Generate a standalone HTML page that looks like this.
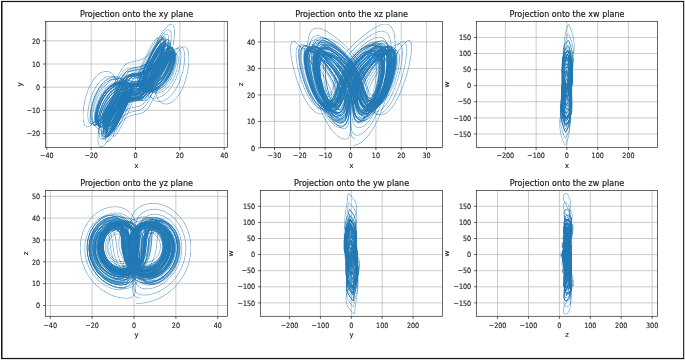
<!DOCTYPE html>
<html><head><meta charset="utf-8"><title>Projections</title>
<style>
html,body{margin:0;padding:0;background:#fff;}
body{width:685px;height:360px;overflow:hidden;}
svg{display:block;}
text{font-family:"DejaVu Sans","Liberation Sans",sans-serif;fill:#1a1a1a;stroke:#1a1a1a;stroke-width:0.14px;}
.t{font-size:8.76px;text-anchor:middle;stroke-width:0.2px;}
.l{font-size:7.3px;text-anchor:middle;}
.r{font-size:7.3px;text-anchor:end;}
.sp{fill:none;stroke:#222;stroke-width:0.68;}
.tk{stroke:#1f1f1f;stroke-width:0.68;}
.g{stroke:#b4b4b4;stroke-width:0.7;}
.c{fill:none;stroke:#1f77b4;stroke-width:0.38;stroke-linejoin:round;}
</style></head><body>
<svg width="685" height="360" viewBox="0 0 685 360">
<defs><filter id="sh" x="0" y="0" width="1" height="1" filterUnits="objectBoundingBox" color-interpolation-filters="sRGB"><feConvolveMatrix in="SourceAlpha" order="3" kernelMatrix="0 -0.1 0 -0.1 1.4 -0.1 0 -0.1 0" divisor="1" preserveAlpha="false" edgeMode="none" result="a0"/><feComponentTransfer in="a0" result="a"><feFuncA type="table" tableValues="0 0.1 0.2 0.32 0.46 0.6 0.74 0.85 0.93 0.98 1"/></feComponentTransfer><feFlood flood-color="#1f77b4"/><feComposite operator="in" in2="a"/></filter></defs>
<rect x="0" y="0" width="685" height="360" fill="#fff"/>
<rect x="1" y="0.88" width="683.2" height="358.25" fill="#161616"/>
<rect x="2.52" y="2.1" width="680.6" height="355.8" fill="#fff"/>

<clipPath id="k0"><rect x="45.6" y="21.45" width="182.0" height="125.95"/></clipPath>
<path class="g" d="M46.80 21.45V147.40M91.15 21.45V147.40M135.50 21.45V147.40M179.85 21.45V147.40M224.20 21.45V147.40M45.60 133.56H227.60M45.60 110.38H227.60M45.60 87.20H227.60M45.60 64.02H227.60M45.60 40.84H227.60"/>
<g clip-path="url(#k0)" filter="url(#sh)"><g class="c" transform="scale(0.1)" style="stroke-width:3.8"><path d="M1377 849l4-21 9-26 18-45 36-82 40-88 31-65 37-74 28-51 30-51 15-24 16-22 15-19 15-16 15-13 13-7 13-3 11 4 9 10 7 16 4 23 2 30-1 34-4 39-7 43-10 45-13 46-15 46-18 44-20 42-21 40-22 35-23 32-24 28-24 25-23 20-24 17-22 13-22 11-21 8-20 5-18 4-18 2-16 1-29-2-24-5-21-6-16-6-37-16-8-2-7 3-6 7-5 11-28 72-20 46-23 51-21 40-20 34-10 12-8 10-7 5-5 0-3-4-1-4 3-18 8-25 15-29 12-20 14-19 24-25 16-14 24-17 24-12 21-7 20-3 22-1 21 3 18 7 6 4 7 6 4 5 3 6 2 9 0 12-3 15-7 19-26 63-39 84-36 69-17 31-17 28-16 23-10 12-8 7-6 2-2-1-2-2-1-4 1-11 2-8 10-28 12-22 14-23 17-23 19-22 21-19 10-8 22-15 11-6 21-11 21-8 20-6 61-12 21-6 20-9 19-14 13-13 13-16 13-20 21-38 34-67 78-171 29-60 32-62 34-62 17-29 18-27 18-25 17-20 18-16 16-10 15-4 14 3 12 10 9 18 7 24 4 32 1 37-1 41-5 45-8 46-11 45-13 45-14 41-17 39-18 33-18 30-19 24-19 20-19 15-19 11-17 8-17 4-16 1-14-1-14-4-12-5-11-7-10-8-8-9-7-10-7-11-5-12-7-26-2-13-2-29 2-30 6-33 13-52 12-37 14-38 16-38 18-38 19-35 19-31 19-25 10-9 8-7 8-4 7-1 7 2 5 5 4 8 2 11 1 15 0 16-2 19-3 21-5 22-6 23-8 24-9 23-10 22-11 22-12 21-12 19-13 18-13 15-14 14-13 13-26 20-25 13-12 5-22 7-20 2-17 0-15-2-13-4-11-4-12-9-6-7-6-10-4-12-1-16 2-15 5-21 8-25 11-29 32-74 39-79 20-36 20-34 19-30 13-15 11-10 9-5 3 0 3 2 2 3 2 11-2 18-2 10-8 24-11 27-15 28-17 28-20 25-21 23-22 19-21 16-32 17-20 9-28 8-24 5-45 6-16 4-17 8-8 5-8 7-8 9-12 15-21 36-25 50-73 148-28 56-31 57-34 53-21 29-11 11-10 10-10 7-9 3-8 1-7-3-5-6-5-10-3-13-1-16 1-19 2-22 4-23 5-25 7-26 9-26 10-26 11-25 13-24 13-23 13-21 15-19 14-18 15-15 15-13 14-12 15-10 27-15 25-10 12-4 22-4 27-1 16 1 19 3 14 5 14 6 9 6 6 7 3 6 0 9-5 15-11 28-67 146-46 96-43 82-29 50-30 44-20 23-9 8-8 6-8 4-7 0-6-2-4-6-4-8-2-12 0-15 1-17 3-20 5-22 6-23 7-24 10-25 10-25 12-24 13-24 14-22 15-22 15-19 16-18 15-16 16-14 16-13 31-19 30-14 27-9 13-3 23-4 31-2 46 0 17-2 10-3 9-4 12-10 8-9 8-10 17-29 90-183 25-47 17-30 18-28 17-24 17-18 8-7 7-4 6-2 6 0 5 3 3 5 3 7 2 10 0 12-1 14-5 33-11 37-7 19-17 38-20 35-22 31-24 26-11 11-24 19-11 7-22 11-21 7-19 4-16 2-15 0-18-4-15-5-10-7-10-10-5-8-3-12 0-13 3-15 5-17 7-21 28-68 35-76 34-66 31-53 12-18 11-15 11-11 8-5 4-1 2 1 3 2 2 9-1 6-3 17-3 11-14 35-14 25-8 13-17 24-20 23-20 21-11 9-21 15-32 18-20 8-28 9-66 12-17 5-16 7-9 6-10 8-9 9-19 26-20 35-24 47-75 154-32 64-36 66-25 42-13 19-26 32-12 13-11 9-11 6-10 2-9-2-8-6-6-11-4-15-2-19-1-23 2-26 3-28 6-30 8-31 9-30 11-31 12-29 14-28 14-26 15-23 16-21 16-19 15-16 16-13 16-11 15-10 14-7 14-6 14-4 12-2 23-2 10 0 19 2 15 5 13 6 10 7 8 7 6 8 6 13 2 10 0 14-2 17-4 18-7 20-11 32-36 82-44 92-31 58-17 27-16 25-24 30-14 13-6 4-6 2-4-1-4-3-3-5-2-7-1-9 0-12 2-13 6-31 12-35 7-18 18-36 21-35 23-31 25-27 25-22 25-18 24-13 23-10 30-9 27-4 52-5 18-3 15-6 10-8 6-6 9-12 17-27 19-36 59-123 38-74 34-61 27-42 17-23 16-17 8-6 7-4 6-1 5 1 5 4 3 6 2 9 1 11 0 13-5 31-10 38-14 39-19 40-11 18-23 35-25 31-26 24-13 11-25 17-24 13-23 9-20 5-27 5-23 2-46-1-13 2-12 5-7 5-6 7-11 16-12 22-91 192-30 57-24 44-26 42-17 25-16 19-7 8-8 6-6 3-6 2-5-1-4-3-3-6-2-7-1-11 0-12 2-14 7-34 13-37 8-20 19-38 22-37 25-33 26-28 27-22 26-18 25-13 23-10 32-8 27-4 48-4 15-3 17-6 8-5 7-6 14-17 18-29 21-41 58-118 30-60 34-61 27-42 17-22 16-17 8-6 7-3 6-1 5 1 4 3 3 6 3 9 1 11-1 13-4 31-10 36-14 39-18 39-11 18-23 34-24 30-25 24-25 19-24 14-22 10-21 7-27 5-23 2-25-1-34-4-12 0-9 2-8 7-9 15-12 22-68 146-39 81-33 64-27 50-29 48-20 27-18 21-9 8-8 6-8 2-6 1-6-3-4-6-3-9-2-12 0-14 1-18 3-19 5-21 6-23 16-47 11-24 11-23 13-23 13-22 14-20 15-19 15-17 16-16 15-13 15-12 30-20 29-14 26-9 35-8 20-2 55-2 16-1 10-3 8-4 8-5 8-7 15-18 19-34 78-159 23-43 24-43 17-27 16-23 15-19 15-12 6-3 5-1 5 1 4 3 3 6 2 7 1 10 0 12-4 28-9 32-6 18-15 35-19 34-20 31-23 27-11 12-23 20-12 8-22 14-21 9-19 6-18 4-23 2-19-1-19-4-17-6-13-8-7-9-2-9 1-12 5-16 28-65 56-120 46-91 32-56 25-39 23-30 14-13 7-3 5-2 5 1 4 3 2 6 2 7 1 10-1 12-2 14-9 33-13 37-18 39-22 37-25 34-27 30-28 24-28 19-27 14-26 10-35 8-30 4-41 2-20 3-12 4-11 5-16 12-10 12-10 14-22 37-26 50-58 123-31 63-35 65-25 41-13 19-24 33-12 12-12 10-11 7-10 3-9-2-7-5-6-10-5-13-3-18-1-21 1-24 3-26 5-28 7-29 8-30 10-28 12-28 12-27 14-24 14-22 14-20 15-17 15-15 15-13 14-10 14-8 14-6 13-5 12-3 23-2 10 1 18 4 15 7 12 9 9 11 7 12 5 13 3 14 0 15-1 16-2 17-4 18-6 20-10 31-24 60-31 64-20 39-14 24-15 21-13 18-12 13-6 4-5 2-4 1-4-1-3-3-2-4-1-7 0-18 2-11 7-26 4-14 13-29 7-15 17-30 19-27 10-13 22-22 21-19 22-15 20-12 20-8 27-9 23-4 26-2 40 0 12-2 8-2 6-4 7-6 8-9 11-18 16-29 94-197 33-66 28-53 31-50 20-30 20-23 9-9 9-7 8-4 7-2 7 2 5 5 4 8 3 11 1 14-1 17-2 19-4 22-5 22-7 24-8 25-10 25-11 24-12 24-13 23-14 21-15 20-14 18-16 16-15 15-15 13-30 21-28 15-26 11-35 9-30 3-50 2-19 2-12 4-13 8-6 6-8 11-15 25-17 33-52 107-24 49-27 50-28 45-14 18-12 14-11 8-5 2-4 0-3-1-2-4-2-5-1-6 0-9 3-20 8-26 10-28 15-29 17-28 19-26 21-24 21-20 11-8 21-15 21-11 19-8 19-6 24-6 21-3 42-3 15-2 10-4 6-3 8-6 8-8 14-20 18-34 99-203 25-50 29-52 30-50 20-28 19-23 9-8 9-6 8-3 7 0 6 2 5 6 3 9 2 12 1 14-1 17-2 20-4 21-6 23-7 23-9 24-9 24-11 24-12 22-13 22-14 20-14 19-14 17-15 16-29 26-28 20-27 14-13 5-24 8-32 7-26 2-44 1-17 1-13 4-11 8-12 14-13 21-17 35-51 109-30 59-27 51-29 47-14 19-13 16-11 11-5 3-5 1-4-1-3-2-2-4-2-13 1-10 4-22 8-27 12-30 16-30 19-29 10-14 21-25 23-22 11-9 22-16 22-13 21-9 20-7 26-6 60-8 18-4 13-5 7-5 7-6 11-11 17-25 20-37 94-191 27-52 20-35 20-34 20-31 20-25 10-10 9-8 8-6 8-3 7 0 6 3 5 6 3 9 3 12 0 15-1 17-2 19-4 22-5 22-7 23-9 24-9 24-11 23-11 22-13 21-13 20-14 18-13 16-15 15-14 13-27 22-14 9-26 13-12 5-23 7-30 5-17 1-21-1-53-6-9 1-7 4-8 11-9 18-71 154-52 104-32 60-17 29-18 28-17 24-17 19-7 7-8 5-6 3-6 0-5-2-3-4-3-8-1-9 0-12 1-15 7-34 12-39 17-42 11-20 23-40 13-18 27-33 29-28 14-11 28-19 14-8 26-11 24-8 23-5 29-3 46-3 17-3 15-5 9-5 9-8 9-9 17-24 19-34 78-160 26-51 19-35 20-33 20-30 19-26 19-18 8-5 8-3 7 0 5 2 5 6 4 9 2 11 1 14-1 16-2 19-3 20-11 43-8 22-19 44-22 40-12 18-13 17-12 15-26 26-13 10-25 17-12 6-23 9-11 3-19 3-18 0-15-1-12-3-16-6-12-7-8-9-5-9-3-14 0-11 2-16 5-19 8-23 27-66 38-81 37-71 26-46 14-21 13-17 11-13 11-7 4-2 3 0 3 2 3 3 1 5 0 7-2 18-2 11-8 25-12 27-15 28-18 28-20 26-22 23-22 19-23 16-21 12-21 10-30 9-26 6-48 7-16 4-10 4-9 4-9 6-8 8-17 20-23 37-21 40-72 150-39 77-33 58-23 37-12 16-22 28-11 11-10 8-10 5-8 2-8-2-6-6-5-9-4-13-2-16 0-19 2-22 3-24 5-25 7-27 8-27 10-27 11-26 12-25 14-24 13-22 15-20 14-18 15-16 15-14 15-12 14-10 28-15 13-5 24-8 11-2 21-1 25 1 14 3 12 4 14 6 9 8 7 7 4 8 2 8 0 12-3 17-7 21-13 33-19 43-49 105-27 54-23 44-33 57-25 36-16 19-8 7-6 5-7 4-5 1-5-1-4-4-3-6-2-8 0-11 3-27 8-33 13-37 18-39 21-38 24-34 26-30 27-24 27-20 26-14 24-11 33-10 29-5 52-4 16-3 10-3 9-4 8-6 8-7 16-19 21-35 19-37 73-150 26-49 19-33 19-32 19-27 18-23 9-9 8-6 8-4 7-2 6 1 5 3 4 7 3 9 1 12 0 14-4 34-9 40-7 21-17 43-21 40-12 19-24 34-26 27-13 12-25 19-13 8-23 11-11 4-21 6-19 3-23 0-20-2-15-4-15-6-12-8-4-5-3-5-2-10 1-11 5-17 27-64 57-122 47-93 31-57 25-39 25-32 14-13 7-4 5-2 5 1 4 3 3 5 2 7 1 10-2 26-4 16-10 35-15 39-20 38-23 37-26 33-27 28-28 22-27 17-27 13-24 9-34 7-19 2-48 4-19 3-11 3-10 5-14 11-9 10-10 13-19 32-23 44-59 122-38 76-32 58-23 36-11 16-22 28-10 10-10 8-10 5-8 2-8-2-6-5-5-8-4-12-2-16 0-18 1-21 3-22 5-25 6-25 8-26 9-25 11-25 11-24 13-22 13-21 13-18 14-17 14-15 14-13 14-11 13-9 26-13 24-8 21-3 10 0 17 1 8 2 14 5 11 6 12 11 9 13 4 14 2 16-1 17-4 19-6 21-11 32-19 47-25 55-24 49-27 48-20 33-20 27-11 12-10 7-4 1-4-1-3-2-2-4-1-6 1-16 1-10 7-23 4-13 12-28 7-15 17-28 19-26 10-12 21-23 11-10 22-17 21-14 20-10 20-8 27-8 23-4 48-6 17-4 12-5 10-7 7-6 9-11 14-21 19-34 99-202 27-53 20-35 31-51 20-29 20-23 10-8 8-6 8-3 8 0 6 3 5 6 3 10 2 12 1 16-1 17-2 21-4 21-6 24-7 24-9 24-10 24-11 24-12 23-12 21-14 21-14 18-14 17-15 15-28 25-28 19-14 8-25 11-23 7-31 5-32 1-54-4-12 2-8 5-9 11-12 20-69 149-42 87-30 55-32 53-16 22-15 19-13 12-6 4-6 1-4 0-4-3-3-5-2-7 0-9 0-11 5-28 10-33 14-35 19-36 22-35 11-16 25-29 26-24 13-10 26-17 13-7 24-11 22-8 21-5 28-4 44-4 17-3 15-6 9-6 9-7 8-9 18-24 18-32 97-195 28-55 21-36 21-33 21-30 20-22 9-8 9-5 8-3 7 0 6 4 5 7 4 10 2 13 1 16-1 18-3 21-4 22-6 23-7 24-8 24-10 24-11 22-11 22-13 21-12 19-14 17-13 16-14 14-14 12-26 19-13 7-25 11-11 3-21 4-19 2-16-1-14-3-17-5-13-7-11-11-5-9-3-13 0-14 3-16 6-18 8-22 32-76 41-86 39-76 29-49 15-22 14-17 12-13 6-4 5-2 5-1 3 1 3 4 2 5 1 7-1 19-3 12-7 28-12 31-16 31-19 32-22 29-23 25-24 22-23 17-24 14-22 10-31 10-27 5-50 6-16 4-10 3-9 5-9 6-8 7-17 20-22 36-26 50-73 150-28 55-31 55-33 49-21 27-10 10-9 7-9 5-8 2-7-1-6-5-5-7-4-12-1-14-1-17 2-20 3-21 4-23 6-25 8-25 9-25 10-24 12-24 12-22 13-21 13-19 14-18 14-15 15-14 14-12 27-19 26-13 12-5 23-6 10-2 19-2 17 1 14 2 12 3 15 5 7 5 8 6 8 9 3 9 1 10-2 14-5 17-9 22-34 78-27 60-31 62-44 84-25 42-16 24-16 21-15 15-7 5-6 3-5 1-5-2-3-4-3-6-1-8 0-11 3-27 8-33 7-18 15-38 20-37 23-36 26-31 26-27 27-21 13-9 26-14 24-10 34-9 29-5 51-5 17-3 10-4 9-5 9-6 8-8 17-23 23-40 86-175 28-53 19-35 20-33 21-30 19-25 10-9 9-7 8-4 7-2 7 2 5 4 5 7 3 11 1 13 0 16-1 18-3 19-4 22-13 45-9 23-9 22-11 22-11 21-13 20-12 18-13 16-14 15-13 13-13 12-26 18-13 7-24 10-11 4-20 4-19 1-16 0-19-4-16-6-11-6-10-11-6-11-1-12 0-13 4-15 5-18 11-27 37-86 43-89 34-64 29-48 14-20 14-17 12-11 5-3 5-1 4 0 3 2 2 4 2 7 0 7-2 21-3 13-9 28-13 31-17 32-19 30-22 28-24 24-24 21-23 16-24 13-22 9-30 9-27 5-43 5-17 4-10 3-10 5-9 6-8 7-17 21-23 37-22 42-64 133-38 74-32 57-33 53-22 28-11 11-10 9-9 6-9 2-8 0-6-4-6-7-4-11-2-15-1-17 1-20 3-22 4-24 6-25 8-26 9-26 10-25 11-25 13-23 13-22 14-20 14-18 14-16 14-15 15-12 14-11 14-8 26-13 12-5 23-6 11-1 19-1 23 2 13 4 16 6 8 5 8 8 6 9 3 9 2 10-1 10-3 16-8 24-27 66-48 103-40 79-30 54-16 24-15 22-15 17-7 6-6 5-6 3-5 1-4-2-3-3-3-5-1-8 0-9 3-25 8-30 12-34 16-35 20-34 23-31 24-28 26-23 25-18 24-14 23-11 32-10 28-5 57-7 15-3 10-4 8-5 8-6 8-8 16-20 22-37 20-39 77-157 27-52 20-34 20-33 20-28 19-23 9-9 9-6 8-3 7-1 6 2 5 5 4 9 2 11 1 14 0 16-2 18-3 21-12 44-7 22-19 46-11 21-12 21-12 19-13 18-14 16-13 15-14 13-26 21-13 8-25 13-12 5-22 6-19 3-26 1-20-2-16-4-15-6-12-9-5-5-3-5-2-10 2-12 4-14 26-62 56-122 47-94 33-59 26-42 25-35 16-16 7-5 7-3 5-1 5 2 4 4 3 7 1 9 1 11-2 14-2 16-9 36-15 40-19 41-23 39-26 36-28 30-29 25-28 19-27 14-25 9-35 9-30 3-46 3-18 3-15 5-14 10-9 9-9 11-19 29-20 39-71 145-37 72-31 54-21 32-11 14-20 23-9 8-9 6-8 2-7 0-7-3-5-7-3-10-3-12 0-16 0-18 3-20 3-22 6-23 7-24 8-23 9-24 11-22 11-22 12-20 13-19 13-17 13-15 14-14 13-11 13-10 26-16 24-9 21-6 10-1 18 0 23 3 12 5 10 5 8 7 9 10 5 12 3 12 0 14-3 21-5 18-9 27-16 40-21 48-26 55-25 48-19 35-20 32-19 25-11 11-9 6-4 0-3-1-3-3-1-4-1-6 1-16 2-10 7-24 5-13 13-27 7-14 17-27 19-25 10-12 21-22 11-9 21-17 22-13 20-10 20-7 26-7 24-5 43-6 19-5 12-6 8-5 7-7 12-13 15-23 22-39 102-209 30-56 21-37 22-35 22-31 21-24 9-8 10-6 8-3 8 0 6 4 5 7 4 11 2 13 1 17-1 20-3 22-4 23-6 25-7 26-9 25-11 26-11 25-13 23-13 22-14 21-14 18-15 17-15 15-14 13-15 12-14 9-27 15-13 6-24 7-21 4-19 2-17 0-20-3-21-4-17-6-17-9-4-4-1-2 56-126 55-119 43-90 44-84 37-64 26-40 12-17 13-16 13-12 11-9 11-6 10-1 9 3 7 8 6 13 3 17 1 22-1 27-3 30-6 32-8 35-11 36-12 36-15 36-16 34-17 32-19 31-19 27-20 25-20 22-20 19-21 16-19 14-20 11-18 9-18 7-17 5-16 4-30 3-26 1-22-2-65-12-8 0-8 2-10 6-9 10-12 21-54 118-24 48-25 49-20 33-19 26-12 12-5 4-5 3-4 1-3-1-3-2-2-4-1-6 0-15 4-21 7-24 5-13 12-26 7-13 16-26 9-11 9-12 18-20 10-9 19-15 19-12 18-8 16-6 16-4 21-2 17 1 19 4 7 3 9 5 10 10 5 12 2 15-2 18-11 36-20 50-27 60-31 64-26 48-25 40-9 12-8 8-6 4-4 0-2-5 0-4 5-19 12-25 11-20 13-19 16-20 17-18 19-16 29-20 28-15 19-7 17-5 54-13 20-5 12-5 11-6 17-12 16-17 11-14 12-17 18-32 29-57 78-166 39-79 29-56 30-54 32-49 16-22 16-18 15-14 15-10 13-5 13 2 10 7 9 13 6 20 4 25 2 31-1 34-4 38-6 40-9 41-12 40-13 39-14 36-17 34-17 30-18 27-18 22-18 19-18 16-18 12-17 9-16 6-16 4-14 2-14 0-12-1-12-3-11-4-18-10-14-13-11-14-4-8-6-17-3-18-1-19 2-21 3-22 6-23 7-25 9-27 17-44 21-48 16-33 25-50 18-31 19-29 18-25 17-17 8-6 7-3 6-1 6 2 4 4 3 8 3 10 0 12 0 15-5 35-11 40-7 21-18 42-22 40-24 35-26 30-13 13-26 21-25 16-12 7-23 9-30 8-18 2-15 1-20-2-16-2-41-10-5 1-6 3-5 8-9 17-74 164-48 99-46 88-31 55-22 33-10 15-21 26-10 9-10 7-9 4-7 1-7-2-5-6-4-10-3-13-1-17 1-19 3-23 5-24 7-26 8-28 10-27 12-28 12-27 15-26 15-25 15-23 17-22 17-19 17-17 17-15 17-13 16-11 17-9 31-14 28-9 14-2 24-4 31 0 46 2 17-1 9-3 9-4 11-9 8-8 7-10 15-27 76-156 22-42 23-42 16-26 16-22 15-18 14-11 6-3 5 0 4 1 4 3 3 6 1 7 1 10-2 24-6 29-11 33-14 33-18 32-10 15-21 28-10 12-22 21-11 9-22 14-10 6-20 9-19 5-24 4-21 0-16-3-17-7-12-8-7-8-5-13-1-10 2-15 4-15 6-21 27-65 36-78 38-75 30-52 23-32 10-11 9-6 3-1 3 0 2 2 2 8 0 6-3 16-3 10-14 33-21 37-17 24-19 23-21 19-10 9-22 16-31 17-20 9-20 6-26 6-44 8-25 7-11 5-10 7-10 8-10 11-10 13-11 15-11 18-18 34-28 57-65 136-48 94-40 71-28 42-14 18-14 16-13 12-13 8-11 4-11 0-9-5-7-10-6-16-4-19-1-25 1-27 3-31 5-33 7-34 10-34 11-34 12-32 14-31 15-28 16-25 17-23 16-19 17-17 16-14 16-11 16-9 15-6 14-5 14-3 13-1 12-1 11 1 19 4 16 7 13 9 11 10 7 12 5 12 4 19 1 14-3 24-3 16-8 28-19 54-34 77-36 73-33 57-17 26-16 21-15 15-6 5-7 3-5 1-5-2-4-4-2-6-2-8-1-10 1-13 5-29 10-35 7-18 16-37 20-35 22-33 24-28 25-24 24-18 12-8 23-12 32-12 28-6 23-3 49-1 14-1 14-5 12-10 13-18 15-28 86-179 46-89 26-45 18-28 17-25 17-20 15-13 7-3 6-1 5 1 4 5 3 6 2 9 1 12-3 30-8 36-6 19-16 41-21 41-23 38-26 33-27 28-27 22-14 9-26 15-24 11-33 10-28 4-55 5-15 2-16 6-14 10-13 15-16 26-19 37-59 121-28 56-32 58-17 27-16 24-16 20-15 14-6 5-6 2-6 0-4-2-4-4-2-6-2-9 1-23 2-14 8-33 12-35 17-36 9-18 11-17 22-31 23-27 25-23 12-9 23-16 23-12 21-8 28-7 24-3 21-1 37 0 13-1 8-2 7-3 6-5 6-6 10-15 14-26 87-183 29-59 25-47 27-47 19-29 18-24 17-19 8-6 8-5 6-2 6 1 5 3 4 6 2 9 1 12 0 13-5 34-4 20-13 42-9 22-21 43-24 40-26 35-29 30-28 25-27 18-27 13-24 10-33 8-28 4-49 3-15 2-8 2-8 4-11 8-13 14-17 27-20 37-59 121-28 56-32 56-16 26-16 23-15 19-14 12-6 3-6 2-4-1-4-2-3-5-2-7-1-21 1-12 6-30 11-33 15-35 18-34 10-16 22-30 23-26 24-21 23-16 22-13 21-9 20-6 26-5 21-2 18 0 34 2 13 0 7-2 6-3 10-9 10-16 12-23 86-182 30-60 25-50 28-50 20-32 20-28 19-24 9-8 8-7 8-5 7-1 6 1 5 4 4 7 3 11 1 13-1 15-2 18-3 21-5 21-7 23-17 47-11 24-12 23-13 22-13 21-14 20-15 18-15 16-15 15-30 24-15 10-28 16-27 10-12 4-23 6-31 4-51 2-16 2-9 2-8 3-11 8-14 14-17 27-19 38-53 108-27 54-30 54-15 25-16 22-14 18-13 13-6 4-6 2-4 0-4-2-3-4-2-6-2-18 4-24 3-14 9-31 14-32 17-32 9-15 10-15 21-27 23-23 22-19 22-14 21-11 20-8 18-5 24-4 20-2 17 1 34 3 12 1 11-3 4-3 6-6 8-12 13-24 106-225 34-68 29-54 31-52 21-32 11-13 20-22 9-8 9-4 8-2 6 2 6 5 4 8 3 12 2 15-1 18-2 20-4 23-6 25-7 26-9 26-10 27-12 26-13 25-14 25-15 22-16 22-15 19-17 17-16 15-16 14-16 12-16 10-29 15-28 10-13 4-24 4-31 3-51 1-16 1-13 4-7 4-7 5-13 15-17 27-88 180-27 50-21 34-14 19-12 15-12 10-5 3-4 1-4-1-3-3-2-4-1-6-1-7 2-20 3-11 8-26 11-28 15-29 17-27 19-26 20-22 21-18 21-15 20-12 19-8 18-7 24-5 20-2 18 0 39 3 12-1 7-1 5-3 5-4 6-7 12-18 15-30 77-163 38-79 27-54 31-56 33-54 22-31 21-24 10-9 9-5 9-3 7 1 7 4 4 8 4 12 2 15 0 18-2 21-3 24-6 26-7 27-9 27-10 28-12 28-13 27-14 25-15 24-16 22-16 21-17 18-16 16-17 14-16 13-16 10-31 16-28 11-26 6-23 4-20 1-52 1-15 1-13 3-7 3-6 5-12 13-15 23-13 26-70 144-24 46-26 43-12 18-12 14-10 9-5 3-4 1-3 0-3-1-2-4-1-4 0-6 2-17 2-9 7-23 10-24 13-26 16-25 18-23 19-21 20-18 19-15 20-11 18-10 18-6 16-5 22-4 19-2 42-2 12-2 9-3 7-4 7-5 7-8 15-21 17-33 104-216 27-53 30-55 32-54 21-31 22-25 10-10 9-6 9-4 7-1 7 3 6 6 4 10 2 13 1 16-1 19-2 22-4 24-6 25-8 26-9 27-11 27-12 26-13 25-14 24-15 22-15 20-15 19-16 16-16 15-15 13-16 11-30 17-27 12-13 4-24 6-21 3-19 2-53 0-13 2-14 4-11 7-13 16-12 22-59 123-27 54-24 46-26 43-12 19-12 15-11 12-4 3-8 4-3-1-3-2-2-9 0-7 2-17 7-21 9-24 13-26 16-26 18-24 19-22 20-19 11-9 20-14 20-12 19-9 19-7 25-6 62-9 18-5 11-5 8-5 7-6 10-11 18-26 20-37 98-200 28-55 21-38 21-36 22-34 22-28 10-12 10-9 10-6 8-3 8 0 7 3 5 6 4 10 3 14 1 16-1 20-2 22-5 23-6 25-7 26-9 26-10 26-12 26-12 24-14 23-14 21-14 19-15 18-15 15-15 14-15 12-15 10-14 9-27 13-12 4-24 7-30 4-18 0-21-1-52-8-7 0-6 4-6 7-7 14-65 141-46 95-37 71-34 58-17 25-17 22-15 15-7 5-6 2-6 1-4-2-4-5-2-7-2-9 0-12 4-29 10-36 15-40 19-40 24-39 12-18 27-32 29-27 14-11 28-18 13-8 26-11 25-8 22-4 30-3 46-3 18-4 15-6 10-6 9-8 9-11 14-20 20-35 85-174 29-56 20-38 22-35 21-32 21-25 10-9 10-7 8-4 8-1 7 3 6 6 4 9 3 12 1 16 0 18-2 20-3 22-5 24-7 24-8 25-9 24-10 23-12 23-12 21-13 20-13 18-13 16-14 14-14 12-13 10-13 9-13 7-24 10-12 3-21 4-18 0-16-3-13-4-11-5-9-7-10-11-6-13-3-13-1-15 3-17 4-18 6-21 22-58 28-62 35-71 33-58 14-20 12-17 12-12 10-7 4-1 3 0 3 2 2 4 1 5 0 7-2 18-3 11-8 24-11 27-15 28-17 27-20 25-21 22-21 19-22 15-31 18-19 8-27 7-24 5-43 6-19 4-16 7-15 11-7 8-10 14-19 31-28 55-67 138-36 71-20 37-21 36-22 33-10 14-21 25-10 9-9 7-9 4-7 0-7-2-5-6-4-8-3-13-1-15 0-18 2-20 4-23 5-23 7-25 8-25 10-25 11-25 12-23 13-23 13-21 14-19 15-17 14-16 15-14 15-12 28-19 13-8 26-11 12-4 22-5 29-3 16 0 20 1 49 9 7-1 6-4 6-8 7-14 57-125 44-90 28-57 24-45 27-45 26-41 18-21 8-9 7-6 7-4 7-2 5 0 5 3 3 6 3 8 1 11-1 14-2 15-3 18-11 39-16 42-21 43-25 40-14 18-14 17-28 29-30 24-28 18-28 13-25 8-34 7-20 2-48 2-18 3-11 3-10 4-14 11-8 9-9 11-19 31-21 40-72 148-27 53-30 53-21 32-10 14-20 24-9 8-9 7-8 3-8 1-6-2-5-6-4-8-3-12-1-14 0-17 2-19 3-21 5-22 14-45 9-23 10-23 11-21 11-20 12-19 13-17 13-16 13-14 27-22 25-17 24-10 21-6 10-2 19-1 23 3 12 4 11 5 8 6 9 10 6 12 3 12 1 14-2 15-3 16-8 25-14 37-19 45-24 53-23 46-26 46-19 32-19 27-11 12-10 7-4 2-3 0-3-2-2-3-1-4 0-14 1-9 6-22 4-12 11-25 7-14 16-27 18-25 9-12 21-22 10-10 22-17 21-14 20-11 20-8 27-8 24-5 44-7 20-4 13-6 12-8 7-8 12-13 15-24 18-32 102-208 30-56 21-38 22-37 22-32 22-26 10-10 10-7 9-4 8-1 7 2 6 6 5 10 3 13 1 16 0 19-2 22-4 23-6 26-7 26-8 26-11 26-11 26-12 24-13 24-14 21-15 20-14 17-15 16-15 14-15 12-14 10-14 9-27 13-13 4-23 6-21 3-18 1-23-2-17-3-21-7-14-8-9-7-1-4-1-4 3-9 9-22 81-176 51-106 38-73 32-55 22-35 11-15 21-26 11-10 9-7 9-4 8 0 7 3 6 6 4 11 2 14 0 18-1 21-3 23-5 26-7 28-9 28-11 29-12 29-13 28-15 27-16 25-16 24-17 21-18 20-17 17-18 15-17 13-17 11-17 9-16 7-30 10-14 4-26 4-34 1-55-3-16 1-14 4-11 8-8 7-7 10-15 25-88 181-31 56-24 38-23 30-13 12-6 4-6 1-5 0-4-3-3-4-2-7-1-20 1-12 6-28 4-16 12-33 8-16 17-32 9-16 20-27 11-13 22-21 11-10 21-15 21-10 19-8 26-6 22-1 12 2 11 2 17 7 12 8 4 5 4 8 4 13 0 10-1 10-4 15-5 18-20 51-32 72-34 70-29 51-22 36-11 14-9 10-8 6-3 1-2 0-2-2-1-3-1-4 1-13 2-7 11-29 11-22 22-34 17-22 19-20 20-17 30-22 30-15 19-7 18-5 60-13 18-4 11-5 11-5 15-11 15-16 10-13 16-24 17-32 27-53 95-198 25-48 27-48 28-46 28-39 13-15 14-13 12-9 12-5 11 0 9 5 8 10 6 14 4 20 1 24 0 28-3 31-5 33-7 34-9 34-11 35-13 33-14 31-15 28-16 26-17 24-17 20-16 17-17 14-16 12-16 9-16 7-14 6-14 3-13 2-24 0-20-4-16-6-14-8-6-4-9-10-7-11-6-18-2-12 0-21 2-15 6-24 16-47 29-71 40-84 23-45 17-30 17-27 17-24 16-19 8-7 7-6 6-3 6-1 5 2 4 3 3 6 1 9 1 10 0 13-5 30-5 18-12 37-8 19-18 37-22 36-12 16-24 29-25 24-26 19-24 15-23 10-31 10-27 5-22 2-43 1-11 2-10 3-5 2-13 10-11 16-16 28-86 178-29 58-25 44-25 43-18 26-16 21-16 15-7 5-6 2-5 1-5-2-4-5-2-7-2-9 0-11 3-29 9-35 13-39 18-39 22-37 24-34 26-29 26-24 13-10 26-16 24-13 34-11 20-5 17-3 54-4 14-2 16-5 14-10 6-6 9-12 17-27 19-38 59-122 29-57 33-59 17-28 17-25 16-21 15-15 7-4 6-3 6 0 4 2 4 4 3 7 1 9 1 11-1 13-6 31-10 35-15 38-19 37-10 17-23 33-25 28-24 23-13 10-24 16-23 11-21 9-20 5-26 4-22 2-41 0-14 1-8 3-7 3-7 5-6 7-11 16-15 28-85 178-29 58-25 46-26 45-18 26-17 23-16 17-8 6-7 3-6 1-5-1-4-4-3-7-2-9-1-11 1-14 5-33 5-19 14-40 8-20 20-41 24-38 26-33 27-28 27-23 27-17 25-13 24-9 32-8 27-4 47-3 15-2 16-7 11-7 7-7 9-12 18-28 20-39 61-127 30-57 33-58 25-38 16-21 15-14 7-4 6-3 5 0 5 2 3 4 3 7 1 9 1 11-1 12-6 31-10 34-15 37-18 36-10 17-22 32-24 27-24 22-12 10-24 15-22 12-21 8-29 7-24 3-25 0-38-2-11 1-6 2-6 3-10 10-9 13-12 23-91 192-30 60-26 49-27 48-19 29-19 26-18 20-8 7-8 4-7 2-6 0-5-4-4-6-2-9-2-12 0-14 2-17 3-18 5-21 13-43 9-23 22-45 12-21 13-21 13-19 14-18 15-16 14-15 30-24 28-19 27-14 26-9 33-8 29-3 43-2 17-2 9-2 8-4 12-7 14-15 17-27 20-38 54-112 36-70 32-55 24-36 15-19 14-13 7-4 5-2 5 0 4 3 4 4 2 7 1 8 0 11-1 12-6 29-10 33-14 34-18 34-10 16-21 30-23 26-23 21-23 17-22 12-21 9-19 7-25 4-28 2-22-2-33-5-9-1-4 1-6 2-7 8-9 13-11 22-91 196-31 63-27 53-30 55-21 36-22 32-21 27-10 11-10 8-9 6-8 2-8-1-6-4-4-8-4-12-1-15 0-18 2-21 3-23 6-26 7-26 9-27 11-28 12-27 13-27 14-25 16-24 15-22 17-20 16-18 17-16 17-14 16-12 16-10 16-9 30-12 14-5 26-6 33-4 57 0 17-1 9-1 9-3 11-7 7-7 6-8 17-27 90-182 28-50 14-24 14-20 13-17 12-12 11-6 4 0 3 1 3 4 2 5 1 14-3 21-2 13-9 26-12 29-15 29-18 27-9 13-20 23-21 20-21 16-20 12-19 9-18 7-25 6-20 2-23-1-21-3-34-8-7 1-7 6-8 13-12 24-82 179-47 99-29 60-34 63-37 61-25 35-12 15-12 12-11 10-11 6-10 2-8-2-7-6-6-11-4-15-2-19 1-23 2-27 5-29 6-32 9-33 11-33 13-33 14-33 16-31 16-29 18-26 18-25 19-22 19-19 18-17 19-14 18-12 18-10 17-8 32-12 14-4 27-4 35-2 55 4 16 0 12-2 7-3 6-4 11-13 14-23 66-141 21-42 22-38 21-30 13-14 7-3 3 0 2 1 2 6 0 5-4 20-6 18-15 31-13 20-14 21-16 18-17 17-18 14-17 12-17 10-16 7-16 5-21 6-19 2-21 1-34 0-13 2-9 3-6 4-11 12-13 19-19 35-110 233-29 58-32 61-36 60-24 36-24 28-11 11-10 7-10 4-9 0-8-3-6-8-5-12-2-16-1-19 1-23 3-26 5-29 7-29 8-31 11-31 12-31 14-29 15-29 15-26 17-24 17-22 17-20 18-17 17-16 17-13 16-11 32-16 29-11 27-7 23-3 21-2 56 1 14-1 14-3 11-8 9-11 12-19 68-147 25-49 22-39 20-32 10-11 8-9 6-3 3-1 2 1 2 6 0 4-5 20-6 17-9 19-12 20-14 20-16 20-17 17-18 16-18 13-18 11-17 9-17 7-31 9-55 9-22 7-12 6-8 6-11 10-7 9-20 29-23 42-110 227-33 63-24 42-24 40-25 35-12 15-12 12-11 10-11 6-10 2-8-2-7-5-6-10-4-14-3-18 0-22 1-24 4-27 6-29 7-30 9-31 11-30 12-29 14-28 14-27 15-24 16-22 16-20 17-17 16-15 16-13 16-11 15-9 15-7 14-6 26-8 23-4 21-1 25 2 20 4 18 6 17 9 9 9 2 4 0 4-2 8-7 17-94 207-47 97-40 75-33 57-22 34-12 15-22 25-10 9-9 5-9 3-8-1-6-5-5-9-4-13-1-16 0-20 2-23 4-25 6-28 8-28 10-30 11-29 13-30 14-28 16-27 16-24 17-23 17-21 18-19 17-16 18-14 17-12 17-11 32-15 30-9 13-4 26-3 32-1 46 2 22-1 13-4 11-7 6-7 7-8 14-23 83-171 27-51 21-34 14-20 13-15 11-10 5-3 5-1 4 0 3 3 2 4 2 6 0 7-2 19-2 12-7 26-12 28-14 28-17 27-18 25-20 22-10 10-21 16-20 13-28 13-25 7-15 3-14 1-12 0-15-2-12-3-10-3-10-5-7-5-6-6-3-5-2-8 1-9 4-14 8-20 41-92 48-100 33-64 31-53 15-24 15-21 15-17 6-6 6-4 6-3 5 0 4 1 3 4 2 6 0 8 0 10-1 12-7 28-12 34-16 35-20 35-24 33-25 30-27 24-27 19-27 15-26 10-12 4-23 5-31 5-43 3-21 3-12 4-12 7-17 14-11 12-11 16-25 43-21 42-64 135-35 72-26 49-27 48-28 44-14 20-14 16-14 14-13 10-12 5-11 1-10-4-8-9-6-14-4-19-3-24 0-27 3-30 4-33 7-34 9-34 10-33 12-33 14-30 14-28 15-24 16-22 16-19 16-16 16-12 16-10 15-8 14-5 13-3 13-1 12 0 11 2 10 3 10 4 8 5 14 12 6 7 9 15 3 8 5 18 2 9 0 20-1 21-3 22-6 24-7 26-9 26-16 43-27 59-15 29-15 27-16 25-15 20-14 15-6 4-6 3-5 1-4-1-4-4-2-5-2-8 0-21 2-13 7-30 5-16 13-34 17-34 19-31 22-29 11-12 22-22 23-17 11-7 21-11 30-11 25-5 15-1 19 1 15 2 16 4 14 5 11 7 7 7 2 6-2 10-9 21-64 140-51 104-42 81-29 48-30 44-19 21-8 8-9 6-7 3-7 0-5-3-5-6-3-9-1-12 0-15 2-18 3-20 5-23 7-23 8-25 10-24 11-25 13-25 13-23 15-22 15-21 16-19 16-18 17-15 16-14 16-11 17-10 31-15 29-10 13-3 26-3 22-1 53 2 20-1 17-4 15-10 15-15 9-13 10-17 23-43 77-163 31-59 33-58 22-34 12-14 11-13 10-10 10-7 9-4 9-1 7 3 6 6 5 10 3 13 2 17 0 19-2 22-4 23-5 25-7 25-8 26-9 25-11 25-11 22-13 22-13 19-13 18-14 15-13 13-14 11-13 10-13 7-13 6-23 7-21 2-9-1-17-3-8-3-13-8-5-4-9-10-4-5-5-12-5-19-1-14 1-15 5-34 5-18 10-29 21-55 27-59 25-46 25-39 11-14 10-10 9-4 3 0 3 2 2 3 1 5 0 13-2 9-5 21-4 11-10 25-14 26-7 12-17 25-19 22-19 20-20 16-20 13-19 11-26 11-24 6-21 3-50 3-14 1-14 5-12 8-6 7-10 13-19 34-113 236-28 54-30 55-33 53-21 29-21 22-10 8-8 4-8 2-8-2-5-5-5-8-3-13-1-15 0-18 2-21 4-23 5-25 7-26 9-27 10-26 12-27 13-25 13-24 15-23 15-21 15-19 16-17 16-15 15-14 31-21 29-15 27-11 24-6 22-4 19-1 54-1 14-1 14-4 12-8 12-15 13-22 85-178 25-46 25-43 13-19 12-15 10-11 5-4 8-3 3 1 3 2 2 9 0 6-2 17-7 22-9 24-13 26-16 26-18 24-19 22-20 19-11 9-20 14-20 12-20 9-18 6-25 7-62 9-17 4-12 6-7 4-7 6-10 11-18 25-20 36-95 195-48 92-21 37-22 35-22 29-11 12-10 10-9 8-9 5-8 1-8-2-6-5-4-8-3-12-2-15 0-18 2-21 3-23 5-24 7-26 8-26 10-26 11-25 12-25 13-23 14-22 15-20 14-19 15-16 15-15 15-12 15-11 14-10 28-14 12-5 25-7 31-6 18-1 22 1 54 8 9-1 6-5 6-8 9-16 63-139 46-94 37-70 33-55 16-24 16-20 15-14 6-4 6-2 5 0 4 3 3 5 2 7 1 10 0 11-5 30-10 34-15 38-9 20-21 37-12 18-26 33-27 28-13 12-28 20-13 8-26 13-25 9-33 8-20 2-54 5-17 3-16 7-9 6-9 9-9 10-14 20-20 36-95 192-40 75-22 37-22 32-21 26-10 10-10 8-9 4-8 2-7-2-6-5-5-9-3-12-2-15 0-18 2-20 3-22 5-24 6-25 8-25 9-25 10-24 12-23 12-22 13-20 13-18 14-17 14-15 13-12 14-11 14-9 13-8 24-11 12-3 21-4 19 0 16 2 14 4 16 8 9 7 9 11 5 12 2 14 0 15-2 16-5 18-6 21-23 58-33 74-30 60-34 59-14 21-13 18-12 13-10 8-4 1-4 0-3-2-2-3-2-5 0-7 2-18 2-11 8-26 11-27 15-29 18-28 20-26 21-23 22-19 22-17 31-17 20-9 28-8 24-4 44-6 19-4 17-8 14-11 7-8 11-14 19-32 23-45 65-134 36-70 39-72 32-48 21-27 10-10 9-8 9-5 8-3 7 1 6 3 5 7 3 10 2 14 1 16-1 18-3 21-4 23-6 23-8 25-8 24-10 25-12 24-12 22-13 22-13 20-14 18-15 17-14 15-14 13-29 21-13 8-26 12-13 5-22 6-30 4-17 1-20-1-55-10-6 1-6 4-5 7-8 15-58 127-44 93-30 58-25 47-27 47-28 41-18 22-8 8-8 6-7 4-7 2-5-1-5-4-3-7-2-10-1-12 1-15 2-17 9-39 15-44 20-44 12-22 12-21 14-20 14-19 15-17 14-16 16-14 15-13 29-20 29-14 27-10 12-4 24-4 31-3 47-2 18-2 15-5 14-9 8-9 9-10 9-13 14-24 20-41 63-128 26-52 29-52 30-46 19-26 10-9 9-8 8-6 8-2 6-1 6 3 5 6 3 9 3 11 0 15 0 16-2 19-9 41-14 44-9 22-20 42-12 19-12 18-12 16-26 28-25 22-13 9-24 12-22 8-10 3-19 2-25-1-13-3-11-4-10-5-7-6-6-7-4-7-3-7-2-8-1-9 0-13 3-15 6-23 18-49 33-74 38-78 31-56 13-19 12-17 11-12 9-8 4-2 4 0 3 1 2 3 1 4 1 5-2 16-2 9-12 34-12 26-15 26-18 25-19 23-20 20-11 9-21 15-21 13-20 10-18 7-27 7-60 10-16 4-18 8-16 12-8 8-11 15-13 20-14 24-20 40-92 188-31 58-22 39-23 37-23 32-11 13-11 11-10 8-10 5-8 2-8-2-6-5-6-9-3-13-2-16 0-19 1-22 4-24 5-26 7-27 8-27 10-27 11-27 13-26 13-24 14-22 15-21 14-18 16-16 15-15 15-12 14-11 15-9 27-13 13-4 24-6 21-3 18 0 23 2 17 5 17 6 13 9 5 5 3 5 2 10-2 13-7 17-39 90-61 130-48 93-37 66-29 45-19 24-9 9-9 7-8 5-7 2-6-1-5-4-4-7-3-9-1-13 0-15 2-18 3-20 6-22 14-46 10-24 11-24 12-24 13-22 14-21 14-20 15-19 15-16 16-15 15-14 31-21 29-16 28-10 12-4 24-5 32-3 53-1 17-3 14-5 12-8 8-8 8-9 8-12 12-21 18-36 47-98 30-59 34-61 26-41 17-23 8-9 15-13 7-4 6-1 5 1 5 3 3 6 2 8 1 11-1 27-7 33-11 36-16 38-9 18-20 34-22 30-24 26-24 20-23 15-21 11-11 4-19 6-26 3-14 0-13-1-11-3-13-4-10-6-8-6-6-9-4-10 0-10 1-11 3-14 7-19 22-55 44-95 21-45 25-47 34-56 19-28 12-13 10-8 4-2 4-1 3 2 2 3 2 5 0 14-2 10-6 22-4 13-12 27-7 15-17 28-20 27-10 13-23 23-22 19-23 16-23 13-22 9-20 6-19 5-68 11-12 4-11 4-10 6-10 7-10 10-10 12-15 22-22 39-26 52-81 166-34 67-25 44-26 40-25 34-13 14-12 10-11 7-11 4-9-1-8-5-6-10-5-14-3-18-1-21 0-25 3-28 5-29 7-31 9-31 10-30 12-30 13-28 14-26 15-24 15-21 16-19 16-16 15-14 16-11 15-10 14-7 14-6 13-3 13-3 22-1 20 2 16 5 14 6 11 8 8 9 7 10 4 10 3 17 1 12-3 20-5 22-7 25-23 59-32 73-20 40-22 42-31 53-15 22-15 19-14 12-6 4-5 2-5 0-4-2-3-4-2-7-1-18 2-12 6-28 10-33 7-17 16-34 20-32 22-30 23-26 24-22 23-17 12-8 22-11 31-12 27-6 23-3 45-3 13-2 10-3 6-3 12-10 14-17 18-30 22-45 61-126 30-60 34-63 28-45 18-26 9-11 17-16 7-6 7-3 6-1 6 2 4 5 3 7 2 10 1 12-1 14-6 35-11 40-7 21-19 42-10 20-12 20-25 36-26 30-27 25-27 20-13 8-25 12-23 9-30 7-27 3-49 2-16 2-13 5-6 4-8 7-13 16-16 30-82 170-28 54-23 41-24 39-15 23-15 18-7 7-13 9-5 2-5-1-4-2-3-5-1-7-1-19 1-13 7-29 11-33 7-17 17-35 20-33 23-31 24-26 24-21 24-18 12-7 23-11 21-8 29-8 25-4 49-4 13-2 15-7 13-9 6-7 9-12 17-28 19-38 62-126 30-60 34-63 28-45 18-25 9-11 16-17 8-5 7-3 6-1 5 2 5 5 3 7 2 10 0 12 0 15-6 34-11 39-7 21-18 41-11 20-11 20-25 35-26 30-26 25-26 19-13 7-24 12-11 5-22 6-28 6-24 2-48 0-13 1-11 3-11 9-12 16-14 25-89 186-28 55-24 43-25 42-16 24-16 20-8 8-13 11-6 3-6 0-4-2-3-4-3-7-1-9 0-10 1-13 6-31 11-35 7-19 18-38 21-36 24-32 25-29 26-23 26-19 25-14 24-10 32-10 28-4 49-5 20-4 9-3 8-4 11-8 7-8 11-14 19-31 18-34 58-121 32-61 34-63 28-43 18-24 8-10 9-8 7-5 8-4 6-1 5 1 5 4 4 6 2 9 1 12 0 13-2 16-7 36-12 40-17 40-10 20-22 37-25 33-25 27-26 22-25 17-23 12-11 4-21 7-28 5-30 1-22-3-33-6-9-1-8 2-6 6-8 12-10 21-68 148-39 80-33 65-28 52-30 51-20 30-10 13-20 21-9 7-8 4-7 2-7-1-5-5-4-8-3-11-1-14 1-17 2-20 4-22 5-23 8-25 9-25 10-26 12-25 12-25 14-23 15-22 15-21 16-19 16-17 16-15 16-13 16-12 15-9 30-15 28-10 13-4 25-4 31-3 46 1 18-2 9-2 9-4 12-8 8-8 7-9 16-25 17-33 50-104 28-57 32-58 25-38 16-22 7-8 15-12 6-4 5-1 5 1 4 3 3 5 2 7 1 10-1 24-6 30-11 34-14 35-18 34-21 30-22 27-22 22-23 18-22 13-10 5-20 7-27 7-15 1-14 0-22-4-9-3-10-5-8-5-8-8-4-8-2-10 1-13 3-14 17-44 32-73 48-101 38-71 20-33 14-19 12-16 11-11 10-5 3 0 3 1 2 4 2 4 0 7-2 18-3 11-8 25-6 13-14 29-8 14-19 29-20 26-23 23-12 10-23 17-23 14-23 11-21 7-20 6-72 12-13 3-11 4-11 6-10 7-11 10-10 12-16 23-23 41-20 40-92 191-37 70-26 45-27 41-14 18-13 15-13 13-12 9-11 5-10 0-9-4-8-8-6-13-4-18-1-22 0-26 2-28 5-31 6-32 9-32 10-33 12-31 13-29 14-28 15-25 15-22 16-20 16-17 16-14 16-12 15-9 15-7 14-5 13-4 13-2 12 0 11 0 19 4 17 6 13 9 10 10 8 12 5 12 5 20 0 14-1 16-3 16-7 28-18 52-26 62-33 69-22 42-16 27-16 24-15 21-14 15-7 5-6 3-5 2-4-1-4-3-3-5-2-7 0-20 1-13 7-29 11-33 7-17 17-34 20-33 22-29 23-26 23-21 24-16 11-7 22-11 30-10 26-6 22-2 47-1 13-1 11-4 12-8 13-17 17-31 86-178 46-92 27-48 28-44 19-25 8-11 17-15 8-4 6-2 6 1 5 3 4 6 2 9 2 11 0 14-2 16-7 38-14 42-8 22-21 44-11 20-13 20-26 36-28 30-29 24-27 19-26 14-25 9-33 8-27 4-53 3-14 2-15 7-13 10-7 7-9 13-16 29-86 176-22 41-23 40-24 37-15 21-14 15-13 9-5 2-5 0-3-2-3-5-2-6-1-19 1-12 6-28 10-32 7-16 16-34 19-32 21-29 23-26 23-21 23-17 12-7 21-11 30-11 27-6 22-3 47-1 14-1 14-5 12-9 11-15 15-25 111-230 34-64 18-32 19-31 28-40 18-19 8-6 7-5 7-1 6 0 5 4 4 6 2 10 1 11 0 15-1 16-3 19-11 41-7 22-19 44-11 22-12 21-26 38-27 34-29 27-28 21-27 16-13 6-24 9-33 8-28 4-52 3-14 2-15 6-13 10-6 7-9 13-16 28-83 170-21 41-23 40-23 37-15 21-14 17-13 10-6 3-4 1-5-1-3-3-2-6-2-7 0-9 0-11 5-26 9-30 6-16 15-33 18-32 21-30 22-26 23-22 23-18 12-8 22-12 30-12 27-7 23-3 49-2 18-3 12-4 12-10 12-16 16-27 20-40 68-144 31-61 35-65 28-46 19-27 10-11 17-18 8-6 7-4 7-1 6 2 4 4 4 7 2 10 1 13-1 15-5 36-12 42-8 22-19 44-11 22-12 21-26 37-28 33-28 26-28 20-26 15-13 6-24 9-32 7-27 3-51 3-13 2-14 5-13 10-14 18-15 26-85 174-21 40-22 40-23 37-15 22-14 17-7 7-12 8-5 1-4 0-4-2-2-5-2-6 0-19 1-11 6-27 11-31 6-17 16-32 20-32 21-28 22-25 24-21 23-17 11-6 21-12 30-11 27-6 23-3 39-2 17-3 10-3 6-3 12-8 13-16 18-29 21-43 66-136 30-62 36-65 28-45 19-27 9-11 17-17 8-6 7-3 6 0 6 2 4 4 4 8 2 10 0 13-1 16-5 36-12 41-8 22-19 44-11 21-12 20-26 37-27 31-28 26-27 19-26 15-12 5-24 9-31 7-26 3-49 2-16 2-13 5-11 8-13 16-16 29-80 164-27 53-22 40-23 39-15 22-15 19-7 7-12 10-6 2-4 1-4-2-3-3-3-6-1-17 1-11 6-27 9-31 7-16 16-34 19-32 21-30 23-26 24-22 24-18 11-8 23-12 21-8 29-9 25-4 50-5 18-4 15-6 13-11 15-19 17-29 21-40 63-131 32-63 36-64 28-45 19-25 9-10 8-9 8-6 8-4 6-2 6 2 5 3 4 7 2 9 2 12 0 14-5 34-10 40-7 22-18 43-10 21-12 20-24 37-27 32-26 26-27 20-13 8-25 13-12 5-22 7-29 6-24 2-49-1-17 1-10 4-10 8-10 12-12 23-87 183-28 54-31 57-24 40-16 24-16 19-7 7-14 10-5 2-5-1-4-2-3-5-2-7-1-10 0-11 2-13 7-31 11-35 8-19 18-37 22-35 24-32 25-27 26-23 26-17 25-14 23-9 32-9 27-5 49-4 15-3 10-3 8-4 12-9 7-7 12-15 19-32 19-35 61-126 32-63 37-65 28-44 18-23 9-9 8-7 8-5 7-2 6 0 6 3 4 5 3 9 2 11 0 13-1 15-2 18-9 39-14 42-19 42-10 20-24 37-25 31-26 26-26 20-24 15-12 6-22 9-30 6-17 2-15 0-13-1-17-2-25-8-13-6-12-7-2 0-77 174-57 124-53 108-38 71-28 46-14 21-14 20-15 17-13 15-13 11-13 6-11 2-10-3-8-9-6-14-4-20-2-25 1-30 3-34 7-38 9-39 11-41 14-40 16-40 17-39 19-36 21-33 21-30 21-26 22-24 22-19 22-17 21-14 20-11 20-9 19-7 17-4 17-3 16-2 29-1 35 4 66 18 11-1 8-4 8-8 9-18 57-131 21-43 22-41 22-33 14-17 8-5 3-1 3 0 2 2 1 3 1 9-1 7-6 25-13 30-12 22-21 30-16 19-17 16-26 20-24 14-24 9-20 4-24 2-23-3-19-7-7-3-7-6-5-5-4-8-1-9 0-11 4-15 7-20 30-71 43-92 38-73 30-50 12-16 11-13 9-8 7-4 3 1 2 2 1 3 0 11-1 7-10 30-17 35-16 25-18 24-21 22-21 20-12 8-22 15-11 6-22 10-21 7-20 6-60 11-22 6-19 9-19 14-12 14-13 16-13 20-21 38-33 68-66 140-41 87-31 60-33 59-17 27-17 25-17 23-17 18-17 14-15 9-14 2-13-4-11-11-8-18-7-25-3-31 0-36 2-40 5-42 8-44 11-44 13-42 14-40 16-36 18-32 18-28 18-24 19-19 18-15 18-11 17-7 17-5 15-2 14 1 14 3 12 5 11 6 9 7 9 8 7 10 7 10 5 10 4 12 6 24 2 27-1 28-4 30-7 32-9 33-12 35-21 55-17 37-18 35-18 32-19 28-18 21-8 7-8 5-7 2-7-1-5-4-4-7-3-9-1-13-1-15 2-17 3-19 9-42 16-44 19-43 11-21 12-19 13-17 12-16 26-28 26-21 25-15 12-6 22-7 10-3 19-2 17 0 15 1 12 4 15 6 11 8 7 9 5 9 3 14 0 12-3 17-6 20-8 23-29 69-45 95-38 71-20 33-14 19-17 21-10 7-5 2-3 0-3-2-2-3-1-5-1-7 2-18 3-11 8-24 12-27 15-29 18-27 20-25 21-23 22-19 22-16 22-12 21-10 29-9 26-6 48-7 16-4 10-3 9-5 8-6 9-7 8-10 13-17 23-39 22-42 66-137 28-57 32-59 34-56 23-32 12-14 10-11 11-9 9-5 9-3 8 1 7 5 5 9 4 12 2 15 1 19-1 21-3 24-5 25-7 27-8 27-9 27-11 26-12 26-13 24-14 22-14 21-15 18-15 17-15 14-15 12-14 11-28 16-13 5-25 8-11 2-21 3-26-2-14-2-12-4-14-6-10-7-7-8-5-10-2-8 0-12 4-17 7-20 32-76 56-118 43-85 34-58 25-37 16-19 8-8 7-5 6-3 6-2 5 1 4 4 3 6 2 8 0 11-3 27-7 34-14 38-17 39-22 38-24 35-27 30-27 25-27 20-26 14-24 11-34 10-29 5-52 4-17 3-9 3-9 4-8 6-8 7-16 19-21 35-19 38-74 150-26 49-18 33-19 31-19 27-18 22-9 8-8 6-7 4-7 2-6-2-5-4-4-6-2-10-2-12 0-14 5-35 10-39 6-21 18-42 21-40 23-36 25-30 13-13 26-21 12-9 24-14 12-5 21-7 20-4 25-2 21 2 16 4 16 6 13 8 5 5 3 5 3 10-1 12-5 15-22 55-51 112-50 100-31 56-16 28-17 25-23 30-14 12-6 4-6 2-5-1-3-3-3-6-2-7-1-10 1-12 2-14 8-32 13-36 18-38 21-37 24-34 27-30 27-24 27-20 27-14 25-10 34-10 30-4 47-3 19-4 11-3 10-6 14-11 9-10 10-13 20-32 23-44 59-124 29-57 32-59 33-56 23-31 11-13 10-10 11-8 9-5 9-2 7 2 7 5 5 9 3 13 2 15 0 19-1 22-3 23-5 25-7 26-8 26-9 25-11 26-11 24-13 22-13 21-14 19-14 17-14 14-14 13-14 11-14 9-13 7-13 6-24 7-11 2-20 1-17-2-15-4-12-6-10-7-7-7-9-13-3-10-2-15 0-11 2-18 5-20 7-23 9-25 15-38 30-67 31-61 21-37 14-22 13-20 13-16 11-11 6-4 4-2 4 0 3 1 3 4 1 5 1 6-1 18-2 11-8 25-5 13-13 29-7 14-17 29-20 26-10 12-22 22-11 10-22 16-21 13-20 10-20 7-26 7-23 4-46 6-17 4-11 5-7 4-10 9-10 12-13 21-19 34-91 185-26 52-29 52-30 50-21 29-19 22-9 7-9 6-8 2-7 0-5-3-5-7-4-9-2-13 0-15 1-18 3-20 4-22 6-23 7-24 9-24 10-23 11-24 12-22 12-22 14-19 14-19 14-16 14-15 15-13 28-22 14-8 26-14 24-9 32-7 18-2 16 0 62 3 12-2 9-6 9-13 11-19 67-145 42-85 30-55 31-52 16-23 15-18 13-13 6-3 5-2 5 0 4 3 3 4 1 7 1 9 0 11-5 26-9 32-14 35-18 35-21 34-12 16-24 29-26 24-13 10-25 18-12 7-24 11-23 8-21 5-27 4-44 5-22 4-15 7-8 5-9 8-8 9-17 25-19 33-87 177-28 54-20 36-20 34-21 31-21 26-9 10-10 8-8 5-8 2-7-1-6-4-5-7-3-10-2-13 0-16 1-19 2-20 5-22 5-23 8-24 8-23 10-24 11-23 11-21 13-21 13-18 13-18 14-15 13-14 14-12 27-19 12-7 25-11 11-3 21-5 19-2 16 1 21 3 15 6 12 7 10 9 6 11 2 11 0 13-3 14-7 21-10 26-37 85-44 91-34 65-31 51-15 23-14 18-13 13-6 4-6 3-4 0-4-2-3-3-2-6-1-7 1-21 3-13 8-29 12-33 17-33 20-33 23-30 24-27 24-22 25-18 24-13 23-10 32-10 28-5 50-6 17-3 10-4 9-5 13-10 9-9 8-11 9-13 14-24 20-39 63-129 37-72 20-37 21-37 21-33 11-15 21-24 10-9 9-7 9-3 7-1 7 3 5 6 5 10 2 12 1 16 0 18-2 20-4 23-5 24-7 24-8 25-10 24-10 24-12 23-13 22-13 20-13 18-14 17-14 14-14 13-14 11-27 17-25 12-23 6-11 2-19 2-24-1-14-3-11-4-9-4-11-8-7-8-6-11-2-9 1-13 3-15 5-17 21-52 26-59 25-54 24-49 28-53 23-40 15-24 23-31 13-14 12-8 5-1 4 1 4 3 2 5 1 7 1 10-1 10-5 27-10 31-7 17-16 34-19 33-23 31-24 28-24 23-25 18-25 14-23 11-32 10-28 6-57 6-16 4-9 4-9 5-9 7-8 8-16 22-23 38-93 190-28 53-20 36-21 34-21 31-20 24-10 9-9 7-8 4-8 2-6-2-6-5-4-8-3-11-2-15 1-16 1-19 3-21 5-23 6-23 8-24 9-24 10-23 11-23 12-21 13-20 13-19 14-16 14-16 13-13 14-11 27-19 13-7 24-10 11-3 21-5 19-1 16 0 20 3 16 5 14 8 10 9 5 9 2 12-1 13-4 17-20 51-49 108-50 100-30 56-16 26-17 25-23 29-13 13-6 3-6 2-4-1-4-3-3-5-2-7 0-9 2-25 3-15 10-33 15-36 18-36 22-35 25-31 26-27 26-22 26-17 25-13 24-9 32-8 27-4 44-4 17-3 11-4 9-5 13-10 9-10 9-11 9-13 14-24 21-41 64-132 37-72 30-54 22-33 10-15 21-25 9-9 10-7 8-5 8-1 7 2 5 5 5 8 3 12 1 14 0 17-1 20-4 21-4 23-7 23-7 24-9 24-10 24-11 22-12 22-13 20-13 18-14 16-13 15-14 13-27 21-26 15-24 9-11 3-20 3-27 1-14-3-12-3-10-5-9-5-9-8-6-9-4-10-1-10 0-12 3-17 6-19 9-24 18-43 25-56 27-57 26-50 21-38 21-36 22-30 13-14 11-9 5-2 4 0 3 2 3 3 2 6 0 7 0 9-4 22-8 27-5 15-14 31-18 31-20 30-22 26-23 23-24 19-12 8-22 13-22 10-31 9-26 6-49 6-22 5-9 4-9 5-8 7-8 7-16 21-22 38-21 40-80 165-29 55-21 37-22 35-21 30-21 25-10 9-9 6-8 4-8 0-7-3-5-6-4-9-3-13-1-16 1-18 2-21 4-22 5-24 7-25 8-25 10-25 11-24 12-23 12-22 14-20 13-19 14-16 15-15 14-13 28-21 13-8 26-12 12-4 22-6 20-2 25 0 20 3 15 5 15 8 9 8 6 10 2 10-1 12-6 18-10 27-17 39-56 121-48 96-33 59-26 40-17 23-8 9-15 14-7 4-6 1-5-1-4-3-3-5-2-9-1-10 1-13 2-15 7-34 14-39 8-20 20-40 24-38 26-34 28-28 28-23 27-18 26-12 25-9 33-8 29-3 44-3 17-3 10-4 9-5 13-10 8-9 9-11 17-29 20-39 60-123 35-68 29-51 29-47 20-26 9-10 9-8 9-6 8-3 6-1 6 3 5 5 4 9 2 11 1 14 0 16-2 18-3 20-12 43-7 22-19 44-10 21-12 20-12 19-13 17-12 15-27 26-25 20-25 14-23 9-11 4-20 3-25 1-14-2-12-3-10-4-9-5-9-7-7-9-4-9-2-12 1-11 3-16 5-18 8-22 20-49 24-54 27-55 24-48 20-37 21-34 21-29 12-15 11-9 5-2 4-1 3 2 3 3 1 4 1 15-1 9-6 24-4 13-11 28-7 15-17 29-19 29-11 13-22 24-11 11-23 19-23 14-22 12-22 9-29 8-25 5-42 5-21 6-15 7-9 6-8 8-13 14-18 27-20 37-95 193-30 59-22 39-23 37-22 32-22 26-11 9-10 7-9 3-8 0-7-4-5-7-5-11-2-15-1-17 0-21 3-23 4-25 6-26 8-26 9-27 10-26 12-26 12-24 14-23 14-20 14-19 15-17 15-14 14-13 15-11 14-9 27-13 12-5 24-6 20-2 19 0 22 4 17 6 13 8 11 11 6 11 2 13-1 14-4 16-6 18-12 29-41 93-48 99-37 70-17 27-16 25-23 30-14 13-6 3-6 2-5 0-3-3-3-5-2-7-1-9 0-11 2-13 7-31 11-34 8-19 18-36 22-35 24-31 25-27 26-23 25-17 25-13 23-10 32-9 27-4 49-5 16-3 10-4 8-4 12-9 16-18 20-32 24-46 58-118 33-65 37-67 29-45 19-24 9-9 9-7 8-5 7-2 7 0 5 3 4 7 3 8 2 12 1 14-1 17-7 38-12 42-17 44-10 21-23 40-25 35-26 29-26 23-26 17-12 7-23 10-11 3-20 5-18 2-16 0-14-1-17-3-13-5-13-5-8-6-6-7-3-8 0-9 3-12 7-17 50-112 54-115 39-74 35-61 27-40 17-20 8-8 8-6 7-4 6-1 5 2 5 4 3 7 2 9 0 12-1 15-2 16-9 39-7 21-18 43-22 43-13 20-13 20-14 18-14 16-15 16-15 13-30 23-28 17-28 11-13 5-24 5-32 5-57 2-18 2-11 4-10 5-13 12-9 10-9 13-20 33-22 44-68 140-28 55-21 36-21 34-21 30-20 23-9 8-9 6-9 3-7 0-6-4-5-6-4-10-2-13-1-15 1-19 2-20 4-22 5-23 7-23 8-24 9-23 11-23 11-21 12-21 13-18 13-17 13-15 13-13 14-12 13-9 12-9 25-11 11-4 22-5 19-1 16 1 14 4 12 5 9 7 11 11 7 12 3 14 1 10-1 16-3 18-5 20-17 47-29 69-34 68-31 57-25 37-12 14-10 9-8 3-3 0-2-3-2-3-1-5 1-15 2-9 6-22 10-25 6-13 14-26 17-26 19-23 20-21 21-18 21-15 30-17 19-7 26-8 23-5 43-5 18-4 16-7 15-11 7-8 10-14 11-17 12-21 24-46 75-155 28-55 41-74 33-51 21-26 11-11 9-8 9-5 9-2 7 1 6 5 5 8 3 11 2 15 0 18-1 20-3 22-5 24-7 26-8 25-9 26-11 26-12 25-13 23-13 22-14 20-15 19-15 17-15 14-15 13-29 21-13 8-27 12-12 4-23 6-30 3-16 0-21-1-50-9-7 1-6 3-6 8-7 13-55 121-41 87-27 54-32 60-26 44-27 39-16 20-8 7-7 6-7 3-6 1-5-1-4-4-3-7-2-9 0-12 1-14 6-33 12-39 17-42 22-41 25-39 27-33 29-28 29-23 28-16 27-12 12-5 24-6 32-4 57-3 18-3 10-4 10-5 14-11 9-10 9-13 19-32 22-43 76-156 39-73 21-35 22-32 20-25 10-9 9-7 9-4 8-2 7 2 5 5 5 9 3 11 1 15 0 17-1 20-3 21-5 23-6 23-8 24-9 24-10 23-11 23-12 21-12 19-13 18-13 16-14 14-13 13-14 10-13 9-25 14-23 8-21 4-18 0-9-1-14-3-18-7-13-10-9-11-5-13-3-14 1-15 2-17 5-18 15-44 27-66 38-79 32-58 19-31 13-18 12-13 10-8 4-2 4-1 3 1 2 3 2 4 0 6-1 16-2 10-7 23-5 13-12 26-7 14-17 27-19 25-9 11-21 21-11 10-21 16-21 13-20 10-19 7-26 7-23 5-43 5-18 5-13 5-7 5-7 6-11 12-15 20-20 36-104 212-29 55-31 55-22 34-10 16-22 25-10 10-9 8-9 4-8 2-7-2-6-5-5-8-3-12-1-15 0-18 1-20 4-23 5-24 6-25 9-25 9-26 11-25 12-24 13-23 13-22 15-20 14-18 15-16 15-14 14-13 15-11 14-9 27-14 13-5 23-7 22-4 18-2 17 0 20 2 16 3 35 8 6 0 5-3 5-6 6-13 53-116 40-86 35-70 25-47 27-48 28-44 18-24 9-10 9-8 7-5 8-4 6 0 5 2 5 4 3 8 2 11 0 13-1 16-7 37-13 44-9 22-21 46-12 22-13 21-14 20-15 19-15 17-15 15-15 14-16 12-30 20-29 14-26 9-13 3-23 4-31 2-40 0-19 2-11 3-10 4-13 10-9 9-9 12-18 30-21 41-55 113-35 69-19 36-20 34-20 31-10 13-20 22-9 8-8 6-8 3-7-1-6-3-5-6-3-9-3-12 0-15 0-17 2-19 4-20 12-44 16-45 10-22 11-20 12-20 12-18 13-16 12-15 13-13 26-21 13-9 24-12 22-7 10-3 19-1 8 0 16 2 18 6 10 6 8 6 6 7 5 8 3 8 2 9 1 10-1 15-3 17-5 18-7 21-12 32-29 67-33 67-30 55-25 37-11 13-10 9-8 4-3 0-2-2-2-4-1-4 1-14 2-9 10-32 11-24 14-26 8-12 18-24 19-22 20-19 10-9 21-15 20-11 19-9 18-7 26-7 58-9 15-3 17-7 15-11 11-12 11-15 12-19 13-23 25-50 82-169 30-58 22-38 22-37 23-33 22-27 11-9 9-7 10-5 8 0 7 2 6 7 4 10 3 13 2 17-1 19-2 23-4 24-5 26-8 27-9 27-10 26-11 27-13 25-14 23-14 22-15 20-15 18-15 16-15 14-15 12-15 10-28 16-26 10-12 3-22 5-29 2-22-2-18-3-21-6-18-8-10-8 39-91"/></g></g>
<rect class="sp" x="45.6" y="21.45" width="182.00" height="125.95"/>
<path class="tk" d="M46.80 147.40v2.6M91.15 147.40v2.6M135.50 147.40v2.6M179.85 147.40v2.6M224.20 147.40v2.6M45.60 133.56h-2.6M45.60 110.38h-2.6M45.60 87.20h-2.6M45.60 64.02h-2.6M45.60 40.84h-2.6"/>
<text class="l" transform="translate(46.80 158.30) scale(0.88 1)">−40</text>
<text class="l" transform="translate(91.15 158.30) scale(0.88 1)">−20</text>
<text class="l" transform="translate(135.50 158.30) scale(0.88 1)">0</text>
<text class="l" transform="translate(179.85 158.30) scale(0.88 1)">20</text>
<text class="l" transform="translate(224.20 158.30) scale(0.88 1)">40</text>
<text class="r" transform="translate(40.20 136.26) scale(0.88 1)">−20</text>
<text class="r" transform="translate(40.20 113.08) scale(0.88 1)">−10</text>
<text class="r" transform="translate(40.20 89.90) scale(0.88 1)">0</text>
<text class="r" transform="translate(40.20 66.72) scale(0.88 1)">10</text>
<text class="r" transform="translate(40.20 43.54) scale(0.88 1)">20</text>
<text class="l" transform="translate(136.60 168.00) scale(0.92 1)">x</text>
<text class="l" transform="translate(22.00 84.42) rotate(-90) scale(1 0.92)">y</text>
<text class="t" transform="translate(136.60 16.85) scale(0.92 1)">Projection onto the xy plane</text>
<clipPath id="k1"><rect x="260.6" y="21.45" width="182.0" height="125.95"/></clipPath>
<path class="g" d="M274.50 21.45V147.40M299.85 21.45V147.40M325.20 21.45V147.40M350.55 21.45V147.40M375.90 21.45V147.40M401.25 21.45V147.40M426.60 21.45V147.40M260.60 147.90H442.60M260.60 121.40H442.60M260.60 94.90H442.60M260.60 68.40H442.60M260.60 41.90H442.60"/>
<g clip-path="url(#k1)" filter="url(#sh)"><g class="c" transform="scale(0.1)" style="stroke-width:3.8"><path d="M3531 1452l5 1 12-1 23-6 22-11 22-14 28-23 21-22 25-29 13-19 29-44 16-27 16-31 17-34 17-38 17-42 18-47 18-51 17-55 16-58 16-62 14-64 13-65 10-65 8-64 6-62 2-58-2-52-4-47-8-39-12-31-15-24-17-16-20-9-23-3-24 3-26 8-26 12-27 15-27 17-54 38-26 20-48 40-44 39-39 37-33 35-15 17-25 32-21 32-9 15-16 30-17 44-12 42-9 40-18 94-10 38-8 23-7 12-11 14-9 6-9 2-5 0-11-3-11-7-12-11-12-15-11-19-12-23-11-26-9-29-8-31-6-32-4-31 0-29 3-25 5-21 4-9 5-7 6-6 6-4 7-3 7-2 8-1 8 1 9 2 18 7 18 11 19 13 18 16 18 17 17 18 23 29 14 19 18 29 16 29 12 29 11 27 11 36 8 34 5 32 5 38 2 34 0 31-1 34-4 24-5 20-7 16-8 9-5 3-5 2-6 1-6-1-12-4-12-9-10-9-10-11-11-15-12-18-13-22-12-26-20-48-19-57-17-66-10-47-4-24-5-49-3-48 1-45 5-41 4-18 5-17 6-15 7-13 8-11 9-9 9-7 10-5 11-4 11-1 11 0 12 2 12 3 13 5 24 13 13 8 24 20 23 24 22 27 11 14 20 31 19 32 17 34 17 35 15 37 51 130 22 54 25 50 18 30 20 27 11 11 11 10 12 8 13 7 14 4 14 2 15-1 16-4 17-8 18-11 18-16 19-20 20-25 20-29 20-35 21-39 20-45 19-48 19-52 18-54 15-55 14-55 10-53 8-49 5-44 2-38-3-29-5-21-9-12-12-3-15 5-17 13-19 19-20 24-21 29-22 31-22 33-42 68-58 98-46 86-23 49-10 23-16 39-10 35-4 15-3 26-1 11 3 19 2 8 3 6 5 5 5 3 5 2 7 1 7-1 8-3 8-5 9-7 10-9 10-11 21-28 11-18 22-42 11-25 21-55 10-30 18-62 7-32 6-31 4-30 3-29 1-27 0-25-2-21-4-18-5-15-8-11-9-8-10-3-11-1-13 3-13 6-14 8-15 10-30 25-16 15-30 31-42 50-25 32-23 32-20 30-17 29-14 27-13 25-10 25-11 33-5 21-5 30-2 27 1 25 2 22 7 26 5 11 5 10 10 11 12 8 9 2 5 0 11-1 5-2 13-7 6-4 13-13 7-7 15-19 7-11 23-42 15-33 15-39 7-21 12-45 11-47 7-48 4-46 0-44-2-20-2-18-4-17-5-14-6-13-7-11-8-9-9-7-9-4-11-3-11-1-11 0-12 3-25 8-25 14-24 17-24 20-34 33-21 24-28 38-24 39-21 39-12 26-17 39-55 146-15 32-15 29-11 17-13 15-13 12-8 5-15 7-9 2-8 1-10-1-9-2-10-3-11-6-11-6-11-9-11-11-12-13-13-16-12-18-13-20-25-48-25-58-11-31-21-69-10-35-8-36-6-35-5-34-3-33-2-30 1-28 2-24 5-21 6-16 8-13 10-8 12-5 12-1 14 3 15 6 16 8 16 11 17 13 34 29 33 32 31 34 29 34 38 50 22 30 28 44 15 27 18 38 9 24 12 34 8 31 5 30 5 37 2 34 0 32-1 37-3 33-6 29-7 27-8 19-9 15-6 7-7 6-11 6-14 3-17-1-12-4-14-8-16-11-17-16-9-10-19-24-10-15-22-35-11-21-23-48-22-57-22-65-20-72-17-77-7-39-5-39-4-38-2-37-1-35 2-33 3-29 5-27 7-23 9-19 10-15 13-12 13-8 15-4 16-2 17 2 17 4 18 7 18 8 18 10 18 11 36 26 34 28 15 15 30 30 27 31 35 47 20 31 25 46 15 30 18 44 39 110 14 36 9 22 10 20 17 25 12 13 13 10 15 6 7 1 8 0 9-2 8-2 9-5 10-6 9-7 20-21 20-28 20-35 20-43 9-23 17-51 13-53 10-53 3-25 2-24 1-22-1-21-3-18-4-15-5-13-7-9-8-7-9-4-10-2-11 1-12 4-12 5-13 8-14 9-27 21-27 26-26 27-24 28-22 28-20 27-18 27-16 26-19 37-11 23-12 33-9 30-6 29-4 27-1 25 0 23 3 28 5 25 6 16 5 9 5 8 9 9 11 5 13 2 15-5 17-10 18-19 20-27 22-38 21-48 20-58 12-43 9-46 4-23 6-47 2-44-1-42-3-19-3-17-5-16-5-14-6-12-8-10-8-9-9-6-10-5-10-2-11-1-11 0-12 2-24 9-24 13-25 16-11 10-23 21-22 23-20 25-19 25-17 27-16 28-14 28-14 28-18 43-54 138-17 37-18 34-14 19-7 9-16 15-9 6-9 5-9 4-10 3-10 1-11-1-11-2-12-5-12-6-13-9-13-12-14-14-14-17-15-19-14-23-15-26-15-29-14-32-14-35-13-36-13-39-11-40-10-40-9-40-7-39-5-37-2-34-1-31 2-26 4-22 7-17 8-12 11-7 12-2 14 3 16 7 16 10 18 13 17 16 19 18 36 39 35 41 32 42 30 40 26 38 23 35 27 48 15 30 11 27 10 26 6 24 5 22 3 21 2 20-1 27-3 25-6 22-8 19-6 10-13 13-9 6-11 4-12 0-13-3-7-3-15-9-8-6-16-16-9-10-18-26-19-31-9-19-19-41-17-48-17-53-13-56-10-57-6-56-1-26 0-25 2-22 3-21 5-19 6-15 7-14 8-10 10-8 11-5 11-3 13-1 13 2 14 4 14 5 14 7 29 17 14 11 28 22 26 25 37 38 22 27 28 40 25 39 20 39 17 37 14 37 45 130 12 27 12 24 13 21 16 17 11 8 6 4 14 3 7 1 14-2 8-2 17-9 18-14 19-21 20-27 21-35 20-42 19-48 18-55 15-58 11-59 4-29 2-28 1-26 0-25-2-23-3-20-5-17-6-15-8-11-9-9-10-6-12-3-12 0-13 2-14 4-14 6-29 17-15 10-29 24-42 39-37 41-33 40-28 40-22 39-24 48-14 35-15 44-41 147-11 30-9 19-7 12-7 10-8 9-9 7-15 7-11 2-7 0-13-3-14-6-15-11-9-7-17-18-9-11-19-28-19-34-10-19-20-45-18-51-17-57-14-60-11-62-6-60-1-28 1-26 2-25 3-22 5-20 6-17 8-14 9-11 11-8 11-6 13-3 13 0 14 2 14 4 15 6 30 15 16 10 29 22 29 25 39 40 24 27 31 41 27 41 22 41 12 26 17 39 43 118 12 31 12 28 9 17 15 21 11 12 6 5 13 7 7 3 14 2 15-2 9-3 17-10 19-15 19-23 20-29 20-37 20-43 19-50 16-55 13-56 8-57 3-26 1-26 0-23-2-22-3-19-5-16-6-13-8-11-9-8-10-5-11-2-12 0-12 3-14 5-13 6-14 9-15 9-28 22-42 38-38 41-22 28-21 26-26 40-22 37-17 36-18 45-13 43-10 40-31 156-9 32-9 23-7 15-6 9-7 8-7 7-8 6-10 4-10 2-11 1-13-3-14-6-16-10-8-7-18-17-10-11-20-26-21-34-11-20-22-46-23-55-21-63-19-69-16-74-7-37-5-37-3-36-2-35 0-33 1-30 3-28 6-25 7-21 8-17 11-14 11-10 14-7 14-3 15-1 17 2 16 5 18 7 17 9 18 10 17 11 34 26 17 13 31 29 29 29 26 30 24 30 30 45 24 44 20 42 22 55 40 110 13 30 9 19 15 23 11 13 12 9 7 4 13 4 15 0 8-2 17-8 17-13 18-20 19-26 19-33 19-40 8-21 16-48 14-50 10-51 3-25 3-46 0-21-1-19-3-17-5-15-5-12-7-10-8-6-9-5-11-2-10 1-12 2-12 5-13 6-26 16-26 21-26 24-25 25-23 26-21 27-19 25-25 38-14 24-17 35-14 34-11 31-8 30-6 29-5 36-4 33-1 31-1 36 2 33 3 29 5 26 7 22 7 15 10 11 5 5 7 3 11 2 13-1 10-3 17-10 13-11 14-14 16-19 25-38 18-33 9-19 19-43 19-50 9-27 17-60 15-64 12-66 7-67 2-32 1-31-1-29-3-27-4-26-5-22-7-20-8-17-10-13-11-11-12-8-13-6-14-2-15 0-15 2-16 4-16 6-16 7-16 9-31 21-30 25-15 13-27 29-25 30-23 31-20 33-27 50-15 33-15 34-60 161-19 43-13 25-15 22-7 10-17 16-9 7-10 5-10 3-10 2-11 0-11-2-12-4-13-6-13-9-13-12-14-14-14-18-14-20-14-23-15-26-14-29-13-32-14-34-12-36-11-37-11-37-8-38-7-36-5-35-4-32-1-29 2-25 3-20 6-16 7-11 10-6 11-1 13 3 14 8 16 10 16 14 16 16 17 18 34 40 49 63 29 41 25 40 23 36 19 34 21 46 11 28 8 25 5 23 3 21 1 19-2 24-4 14-5 11-4 5-7 8-5 2-10 3-11 0-12-4-14-9-15-14-15-19-8-11-17-28-16-32-8-19-14-40-14-44-10-47-8-46-4-45 1-40 2-18 3-16 4-14 6-12 6-10 8-8 8-6 10-4 10-1 10 0 12 2 11 4 12 5 25 13 25 18 24 20 23 22 22 23 20 24 18 24 24 36 14 24 18 35 11 22 13 34 11 32 9 31 35 130 11 31 12 28 14 25 8 11 9 9 10 7 12 6 12 3 7 0 14-1 16-6 17-10 10-7 20-19 10-12 22-29 23-38 23-47 23-55 22-64 19-70 16-73 6-36 5-36 3-35 1-32-1-31-2-28-4-24-7-21-7-18-10-13-11-10-13-6-14-3-15 0-15 3-17 6-17 7-17 10-18 11-17 12-34 27-32 30-44 44-26 30-24 30-20 28-26 42-21 39-22 50-18 47-31 92-10 25-7 15-12 20-13 16-9 8-5 3-11 4-12 1-6 0-13-5-14-8-7-6-16-15-15-21-8-12-16-29-16-33-15-39-13-43-12-45-8-47-3-23-3-43 2-40 2-17 4-16 4-14 6-12 7-10 7-7 9-6 9-4 11-1 10 0 12 2 11 3 24 11 13 7 24 17 36 30 33 33 29 36 26 36 21 36 24 47 15 35 12 34 49 151 13 34 12 22 8 14 9 12 10 11 11 9 12 6 7 2 14 2 7 0 16-4 9-4 19-11 19-18 11-11 22-29 23-37 23-45 23-54 21-62 19-67 14-70 6-35 4-34 2-32 1-31-1-28-3-25-4-22-7-19-8-15-9-11-12-8-12-4-14-1-14 2-16 4-16 7-16 9-17 10-17 12-33 26-47 44-42 45-36 44-30 42-25 40-20 39-16 36-13 34-11 33-29 95-11 31-10 20-10 18-12 13-14 10-10 3-5 1-12 0-6-2-13-5-7-5-14-11-7-8-16-19-16-24-8-14-17-32-15-38-15-42-14-47-11-49-8-50-2-24-2-47 0-21 2-20 3-19 4-16 6-15 6-12 8-10 8-8 10-6 10-3 11-2 11 0 12 2 13 4 12 4 13 7 26 15 13 9 25 21 35 34 22 24 29 37 25 39 21 38 18 38 16 37 46 128 12 31 13 29 10 17 15 23 12 13 6 5 13 9 7 3 15 4 8 0 17-2 9-4 20-11 21-18 22-26 23-34 23-43 23-52 11-29 20-62 17-66 7-33 5-33 5-32 2-31 1-28-1-26-3-24-4-19-7-17-8-13-9-9-11-6-12-2-13 1-15 3-15 6-15 9-16 10-32 24-16 14-32 30-43 46-26 30-23 30-31 43-24 40-14 26-11 24-18 46-13 43-10 39-21 118-7 34-6 25-8 22-7 15-6 8-6 8-6 6-8 6-8 3-14 3-11-1-12-4-13-7-15-11-16-15-8-10-18-23-10-14-19-33-10-19-20-44-20-51-19-58-17-64-14-67-10-68-3-33-1-32-1-30 2-29 3-26 5-23 6-21 8-17 9-15 11-11 11-8 13-5 14-3 15 0 16 3 15 4 16 6 17 8 16 10 32 22 31 25 15 13 28 28 25 29 34 44 19 30 26 45 14 30 19 45 56 149 15 34 11 20 12 17 7 8 13 13 15 10 8 3 8 2 9 0 9 0 9-3 10-4 10-5 10-8 11-9 11-12 11-13 23-34 22-42 22-50 10-28 19-58 14-61 6-30 4-29 2-27 1-26 0-23-3-20-4-18-5-14-8-10-8-7-10-4-12 0-12 2-13 5-14 8-14 9-15 11-30 26-29 30-28 31-26 32-23 31-21 29-19 29-16 27-19 39-10 24-12 34-6 21-6 29-3 28-1 26 1 23 4 29 8 24 7 15 9 12 11 8 13 4 10 0 5-1 12-4 6-3 12-10 21-21 22-32 23-43 16-36 14-40 7-22 13-46 10-49 8-49 4-48-1-45-1-21-3-19-4-17-5-15-6-14-8-11-8-9-9-7-10-5-11-3-11-1-12 0-12 2-12 4-26 11-25 16-25 19-24 21-23 24-21 24-19 26-18 27-16 26-21 41-13 28-17 41-40 104-14 36-16 34-11 20-18 27-14 15-7 6-16 10-8 3-9 2-10 1-9 0-10-2-11-4-11-6-11-7-12-10-12-12-13-14-13-17-13-19-13-22-13-25-13-27-13-30-12-31-12-34-11-35-10-36-8-36-8-36-5-35-4-34-3-31 0-29 2-25 4-22 6-17 8-13 9-9 11-4 13-1 14 3 15 7 16 9 16 11 17 14 34 31 33 35 32 36 29 36 26 34 34 49 19 30 23 42 12 26 10 25 8 23 8 33 6 30 3 29 1 26-1 25-2 23-6 29-8 24-7 17-10 13-11 11-13 7-10 2-5 0-12-2-13-4-14-9-8-5-16-16-8-9-18-23-9-14-19-33-10-19-19-43-19-50-17-55-15-61-12-62-8-62-2-30 0-28 1-27 2-25 4-22 5-20 7-17 8-14 10-11 10-9 12-6 13-3 13 0 15 1 14 4 15 5 16 7 15 9 30 20 30 23 14 13 27 26 25 27 33 42 28 43 24 43 14 28 17 41 57 150 14 31 11 19 16 23 13 13 13 9 8 4 15 3 8 0 9-1 9-3 9-4 10-6 20-16 21-24 22-33 22-40 21-48 10-26 18-57 15-59 10-59 3-28 2-27 0-24-1-22-4-20-4-16-6-14-8-10-9-7-11-3-11-1-13 2-13 4-14 7-28 18-15 12-30 26-28 28-27 30-25 30-22 29-21 28-25 40-14 26-18 36-9 23-11 33-8 31-6 29-3 28-3 34-1 32 1 29 3 34 5 24 6 21 7 19 10 15 9 9 11 6 12 3 10-1 11-3 11-5 14-9 14-13 16-17 16-22 9-13 18-31 10-18 19-42 19-48 9-27 18-57 15-63 12-65 8-65 2-32 1-31 0-29-2-27-4-24-5-22-7-20-8-16-9-14-11-10-12-8-13-5-14-2-14 0-15 2-16 4-15 6-16 8-16 9-31 21-30 24-15 13-27 28-25 29-22 30-20 31-27 46-15 32-20 47-45 120-16 40-17 37-12 22-14 19-7 8-15 14-9 6-8 4-9 3-10 1-10 0-10-2-11-4-11-6-11-8-12-10-12-12-13-15-13-18-13-20-12-22-13-25-12-28-12-29-23-64-9-33-9-34-7-34-6-33-4-31-2-29 0-27 1-23 4-19 5-16 7-11 9-8 11-3 11 0 14 4 14 7 15 10 15 12 16 14 16 16 31 34 31 36 28 36 26 35 23 34 20 32 24 44 13 27 10 26 8 23 8 33 3 20 2 28 0 16-4 23-6 20-8 15-11 12-8 5-10 3-5 0-11-2-12-5-7-4-14-12-14-15-8-10-15-23-16-29-7-16-15-36-15-41-6-22-11-45-9-47-6-47-1-43 1-21 2-18 3-17 4-16 5-13 6-12 8-9 8-8 9-5 10-3 10-2 11 1 12 2 12 3 24 11 25 15 25 18 23 21 22 22 21 23 19 24 18 25 23 37 13 25 18 37 25 60 46 133 13 28 13 26 9 16 11 14 11 12 6 5 13 8 8 3 15 3 8 0 17-4 10-3 19-13 21-19 23-26 23-36 24-44 23-53 12-30 20-64 17-68 7-35 6-34 4-33 3-31 0-30-1-27-2-23-5-21-6-17-9-13-9-10-12-5-12-3-14 1-15 4-15 6-16 8-33 23-16 13-33 28-46 47-28 31-25 30-32 44-27 41-22 39-21 49-13 33-9 32-13 49-23 107-9 33-10 23-11 19-6 8-7 7-13 6-14 3-11-1-12-4-13-7-7-5-14-13-8-8-17-20-8-12-18-29-9-17-18-38-18-45-9-25-17-54-14-57-11-61-8-60-2-29-1-28 1-26 2-25 3-22 5-20 7-18 7-15 9-13 10-9 11-7 12-5 13-2 14 0 14 3 14 4 15 6 15 7 15 8 29 20 29 23 13 13 26 26 24 27 32 42 18 29 24 44 15 29 18 43 46 123 15 36 16 33 12 20 12 17 7 7 14 13 15 9 8 2 9 2 9 0 10-1 9-3 11-5 10-6 11-8 11-11 12-12 12-15 12-17 12-20 24-45 23-54 11-30 19-63 15-65 6-32 4-31 2-29 1-27-1-24-3-20-5-18-6-13-8-10-10-7-11-2-12 1-14 3-14 7-15 9-15 11-15 13-32 29-30 31-29 34-27 33-24 32-21 30-19 30-16 28-13 26-11 25-9 23-8 23-7 32-4 20-3 28-1 17 1 25 2 23 4 21 5 18 8 17 8 13 11 10 13 7 9 2 11-1 11-4 13-7 7-5 14-13 7-8 16-20 8-11 17-28 8-17 17-36 16-42 8-23 14-50 13-53 9-54 5-53 1-50-1-22-3-22-3-19-5-17-7-15-7-13-9-10-9-8-11-5-11-4-12-1-13 1-13 2-13 4-27 12-14 8-27 19-26 22-37 36-22 26-30 40-17 27-23 42-14 27-18 42-59 153-15 33-10 20-18 26-13 14-7 6-16 9-8 3-8 2-9 0-9 0-10-3-10-3-11-6-10-7-12-10-11-11-12-14-12-16-12-18-25-44-24-53-12-30-21-64-17-67-7-34-5-33-4-32-2-30-1-27 2-24 3-21 5-18 8-13 8-10 11-6 11-2 13 1 14 5 15 7 16 10 16 11 32 28 32 31 30 34 29 33 26 33 23 32 20 30 18 28 21 41 12 25 13 35 7 22 8 32 5 29 2 28 1 26-1 32-3 29-6 26-8 23-7 15-9 13-10 10-13 6-14 2-11-1-13-5-13-7-15-12-16-16-8-10-18-25-9-14-18-34-10-20-19-44-18-50-17-57-14-60-12-63-7-61-1-30-1-29 2-26 2-25 4-22 6-20 7-17 8-14 10-11 11-9 12-6 12-3 14 0 14 1 15 3 15 6 31 15 15 9 30 22 29 24 13 13 26 27 24 28 32 43 18 29 23 44 14 29 18 43 41 108 14 37 16 33 11 19 18 26 13 13 15 9 8 4 8 2 8 1 9-1 10-2 9-3 10-5 11-7 11-9 11-11 11-13 23-33 23-41 23-50 11-28 19-59 9-31 13-63 5-30 4-30 2-27 0-25-2-23-3-19-5-16-7-13-8-9-10-6-11-2-12 1-13 4-14 6-14 9-31 23-30 28-30 30-28 32-26 32-24 31-20 30-19 28-22 41-12 25-10 24-9 23-9 32-4 20-5 29-2 27 0 25 2 23 4 28 6 18 6 17 8 14 10 11 12 7 13 3 10 0 12-4 12-7 7-4 14-13 7-7 15-20 8-11 16-27 9-16 16-35 17-41 8-23 14-49 13-52 10-54 6-54 2-51-1-24-2-22-3-20-4-19-6-16-7-14-8-12-9-9-10-7-11-5-12-2-12-1-13 2-13 3-13 4-14 7-14 7-27 17-26 21-13 12-25 24-22 26-31 40-18 28-24 42-14 28-19 42-61 159-16 34-11 20-19 27-14 14-7 6-16 9-8 3-9 2-10 0-10-2-10-2-10-5-11-7-12-8-12-11-12-13-12-15-13-18-12-20-13-23-13-25-12-28-12-30-23-65-10-34-8-34-8-35-6-34-5-33-2-31-1-29 1-25 3-22 5-18 7-15 8-10 11-6 11-2 13 2 14 5 15 7 16 11 33 26 32 32 32 34 30 35 28 34 25 34 21 32 19 30 24 42 12 26 10 25 8 23 9 33 4 20 3 29 2 27-1 25-2 23-6 28-6 19-8 16-10 13-11 10-14 6-10 1-12-2-12-5-14-8-7-5-15-15-8-9-17-23-9-13-18-32-9-18-18-40-17-47-16-52-13-56-11-58-6-57-2-27 0-26 1-25 2-22 4-21 5-18 7-16 7-14 9-10 10-9 11-5 12-4 13-1 13 1 14 3 14 5 28 14 15 8 28 21 28 22 38 38 23 27 30 41 18 27 23 42 14 28 18 41 57 150 14 32 10 19 17 25 12 14 7 6 14 9 8 3 16 3 9-1 9-1 9-4 10-4 10-7 11-8 10-10 23-27 23-35 23-44 22-52 10-28 19-61 15-63 6-32 4-30 3-30 1-27 0-25-2-22-4-19-6-16-7-12-9-9-10-5-11-2-13 1-13 4-15 6-14 8-16 11-15 12-31 27-30 30-28 31-27 31-23 30-21 30-27 42-15 26-18 37-10 24-11 33-9 32-6 29-3 28-3 35-1 32 2 37 4 33 5 24 6 21 9 18 11 15 10 8 11 5 14 2 11-2 12-5 13-7 14-11 16-16 8-9 18-24 9-14 19-33 10-19 20-43 19-51 19-58 17-63 14-67 10-68 3-33 2-32 0-31-1-29-3-26-5-25-6-21-7-18-9-15-11-12-11-9-13-6-14-4-14 0-16 1-15 4-16 6-17 7-16 9-32 21-31 25-15 13-28 28-26 29-34 45-20 30-25 47-15 31-19 46-53 142-16 36-12 22-12 19-7 9-14 15-15 11-8 3-9 3-9 1-9 0-10-2-10-4-10-5-11-7-12-10-11-11-12-14-12-17-12-18-12-21-23-48-12-28-21-59-9-31-15-64-6-31-4-30-3-29-1-26 1-23 3-20 4-17 6-13 8-10 9-6 11-2 12 2 13 4 14 7 15 9 30 25 15 14 30 32 30 33 27 34 24 33 22 31 20 31 23 42 13 26 10 24 8 24 9 32 4 20 3 28 0 26-2 23-3 13-4 13-7 16-10 13-11 9-9 3-5 1-10-1-12-4-6-3-12-9-14-13-7-8-15-20-7-12-16-27-7-16-15-35-14-39-7-22-11-44-10-47-6-47-3-45 2-41 2-18 4-17 4-15 6-14 6-11 8-9 8-7 9-6 10-3 11-1 11 0 12 2 24 8 25 13 24 16 24 19 23 22 21 23 20 24 19 25 16 25 15 25 20 39 12 26 16 38 53 142 14 31 15 28 11 17 12 14 13 12 7 5 15 8 8 2 8 1 9 0 9-1 10-3 10-4 10-6 11-8 12-10 11-12 12-14 12-17 13-18 25-45 24-54 12-31 22-66 18-70 8-35 5-35 5-34 2-32 1-30-1-26-3-24-5-19-7-16-8-12-11-7-12-4-13-1-14 3-15 6-16 9-16 11-17 12-34 29-32 32-32 33-28 34-38 48-22 30-27 43-22 40-17 37-12 34-12 43-8 39-5 37-4 42-2 52-1 65 1 64 3 39 3 31 4 23 6 17 9 15 11 9 12 6 15 2 15-2 18-6 14-7 15-11 18-15 21-21 22-27 12-17 26-41 14-24 29-58 29-71 15-40 15-43 14-46 14-49 12-51 12-53 9-53 9-53 6-53 4-50 1-47-1-44-4-39-7-34-9-28-12-23-14-17-17-11-18-6-20-1-21 3-23 7-22 10-23 12-24 14-45 31-22 17-42 35-19 18-36 35-32 34-28 34-23 32-10 16-19 32-22 46-17 44-13 42-29 100-14 41-13 24-9 13-10 10-11 6-12 3-6 0-13-4-15-8-14-14-15-19-16-24-14-29-14-34-12-37-10-39-8-40-2-19-2-36 2-31 3-14 4-11 4-10 6-8 6-6 8-4 8-3 9 0 9 1 10 2 21 10 11 6 22 16 21 18 21 21 20 21 19 23 17 22 22 33 13 22 16 31 13 31 11 29 7 27 6 26 3 25 3 31 0 28-2 25-3 22-6 19-8 15-7 9-5 4-6 3-11 0-12-3-13-9-10-8-10-12-11-15-12-19-17-35-18-43-17-52-13-58-10-61-3-41-1-39 3-36 6-32 5-14 5-12 6-11 7-10 7-8 8-6 9-4 9-4 10-1 10 0 10 1 11 3 22 8 22 13 21 17 21 20 21 22 19 24 18 27 24 42 15 30 15 30 19 47 44 111 27 60 22 41 16 24 18 22 10 9 10 8 11 6 11 5 12 4 13 1 13-1 14-3 15-6 16-10 16-12 17-16 17-20 18-24 18-28 18-32 18-36 18-41 18-44 17-46 15-49 14-50 12-50 10-49 7-47 5-42 2-37-1-31-5-25-7-17-10-9-13-3-15 5-17 10-19 15-19 20-21 23-20 26-42 55-58 86-35 53-30 49-25 45-20 40-23 53-6 16-9 29-3 13-3 24-1 22 2 19 4 17 6 14 8 10 5 4 12 5 13 1 16-4 8-4 18-13 19-19 20-27 11-17 21-38 10-23 20-50 10-27 17-58 7-30 12-60 3-30 3-28 1-26-1-24-2-22-4-19-5-16-7-13-8-9-10-7-11-3-12-1-12 2-14 4-14 7-15 8-29 21-15 13-30 26-41 43-25 29-22 28-30 42-17 26-14 26-12 24-11 24-9 23-11 33-11 40-8 39-7 52-11 97-5 38-7 33-9 29-10 21-7 11-6 6-7 5-7 4-8 3-10 2-17-2-12-4-15-7-16-11-17-16-10-10-20-25-11-15-23-37-12-21-24-51-25-60-24-69-22-79-10-41-9-42-8-43-6-43-5-42-2-40-1-38 1-36 3-32 6-28 7-25 10-20 11-16 13-12 15-7 16-4 17 0 19 3 18 5 20 8 19 10 20 12 38 26 37 30 17 15 33 31 29 32 26 32 23 32 29 46 24 46 19 44 16 43 34 102 18 42 15 26 10 14 12 11 6 4 14 5 14 2 8-2 16-6 17-12 17-18 19-25 18-32 18-37 8-21 15-45 13-48 9-47 4-24 2-43 0-20-2-17-3-16-4-13-6-11-6-8-8-6-9-4-10-1-10 1-11 3-12 5-12 6-13 8-25 19-25 22-24 24-23 26-21 25-19 26-25 37-14 24-17 35-14 32-10 31-8 29-5 28-4 25-1 32 0 30 3 26 5 23 8 19 9 15 9 8 10 5 12 1 14-4 16-10 11-11 12-14 20-28 20-38 21-49 20-58 11-43 10-46 4-24 5-47 2-45-1-42-2-19-4-18-4-17-5-14-6-13-7-11-9-9-8-7-10-6-10-3-11-2-11 0-12 2-12 3-12 4-24 12-24 16-12 10-23 21-22 23-21 25-19 27-17 28-16 29-15 29-27 61-59 149-19 40-20 36-16 21-8 10-18 15-9 6-10 5-11 4-11 1-12 0-12-2-13-4-13-7-14-10-14-12-15-15-16-19-16-22-15-26-16-29-16-32-16-35-15-39-14-40-14-42-12-44-10-43-9-43-6-41-4-37-2-34 1-30 3-24 6-19 9-12 10-7 13-1 15 4 16 8 17 13 18 16 19 19 19 21 37 45 37 48 33 46 30 44 27 42 22 37 26 51 14 31 10 28 7 25 5 24 2 21 1 20-2 18-5 24-9 19-8 10-9 8-5 3-12 3-13-1-14-5-16-9-16-15-18-21-10-13-19-31-19-38-18-44-17-49-15-54-11-56-8-55-2-26 0-24 0-23 2-21 4-19 5-16 6-14 8-11 9-8 10-6 10-3 12 0 13 1 13 4 13 5 28 16 28 20 28 23 26 25 37 39 21 26 29 39 16 26 21 37 12 24 15 35 13 34 10 32 38 132 8 23 9 21 14 25 8 10 9 9 15 9 11 4 6 1 13-1 14-4 16-8 8-6 18-16 9-10 19-24 20-32 10-19 21-43 19-50 19-56 16-61 13-63 8-63 2-30 1-28-1-27-2-24-4-22-6-19-7-16-8-13-10-10-11-7-12-4-14-1-13 1-15 3-15 6-15 7-16 8-15 10-31 22-15 13-29 26-39 41-24 27-31 42-25 41-22 39-17 39-15 37-47 131-11 27-8 16-14 21-15 16-12 8-6 3-13 3-14 0-7-2-16-7-17-12-17-17-19-25-19-30-19-38-18-43-17-49-14-53-11-55-4-26-5-52 0-23 1-22 2-20 4-18 5-15 7-13 8-10 8-7 10-5 11-2 12 0 12 2 13 5 14 5 13 8 14 8 28 21 40 35 25 25 23 26 31 39 26 39 21 37 23 48 14 34 11 32 12 42 31 117 10 30 11 27 14 23 8 10 8 8 15 9 11 4 6 0 13 0 14-5 16-8 8-6 17-15 10-10 19-25 21-32 10-18 21-44 21-50 20-58 17-64 15-67 9-66 3-32 1-31 0-29-2-26-3-24-5-21-7-18-8-15-10-12-11-8-13-5-13-3-14 1-15 3-16 5-16 7-32 18-16 11-32 24-30 27-41 42-25 28-32 43-27 41-22 41-12 27-16 38-42 116-11 30-12 26-9 16-14 20-11 11-11 8-6 3-13 3-14 0-8-2-15-7-17-13-18-18-18-24-19-31-18-37-18-44-15-48-14-51-10-52-3-26-4-48 1-22 1-21 3-18 4-16 6-14 7-11 7-8 10-6 10-4 10-1 12 1 12 3 13 5 13 6 27 17 13 9 27 22 38 37 23 25 21 26 28 38 23 37 20 36 20 46 15 44 12 41 28 118 9 38 9 28 11 25 13 22 7 9 8 8 9 6 11 4 11 3 6 0 13-2 15-5 16-9 9-7 18-17 10-10 20-27 22-34 11-21 22-46 23-55 21-63 18-69 16-72 5-37 5-35 3-35 1-33-1-31-2-28-4-26-6-22-7-18-9-15-11-12-13-8-13-4-15-2-15 2-16 4-17 6-17 8-17 10-18 11-34 25-32 27-45 44-26 29-35 44-28 43-24 42-13 27-17 40-54 148-12 27-9 15-14 20-11 10-11 8-13 4-13 1-7-2-15-6-16-10-17-17-17-22-18-29-18-34-16-40-15-45-13-48-10-49-3-24-4-46 0-21 1-20 2-17 4-16 5-14 6-11 7-9 8-6 10-5 10-2 10 1 12 2 12 3 12 6 26 14 12 9 26 21 24 22 24 24 21 25 20 25 26 37 16 24 13 23 17 35 18 44 13 42 10 40 33 158 10 34 9 24 9 16 6 10 7 9 8 8 9 6 9 5 11 3 6 1 13-1 14-4 16-7 9-6 18-15 10-9 21-25 11-15 23-36 12-22 25-50 24-59 23-69 21-75 8-40 8-40 7-39 5-40 3-38 1-36 0-33-3-31-4-27-7-23-8-20-10-15-12-11-14-8-15-3-16 0-17 2-17 6-18 8-19 9-18 12-19 12-36 28-34 30-47 46-27 31-24 30-22 30-26 43-22 41-18 40-14 38-35 101-12 27-8 17-12 21-10 11-10 9-5 4-12 4-12 1-7-1-14-4-14-10-16-14-15-20-16-25-16-31-16-35-14-40-11-43-10-44-3-22-4-43 0-38 2-18 3-15 3-14 5-12 7-9 7-8 8-6 8-3 10-2 10 0 11 2 11 3 11 5 12 6 24 15 35 29 33 32 21 23 18 23 25 36 15 23 13 23 16 33 18 44 13 41 11 40 27 122 9 38 11 34 10 25 10 16 7 10 8 9 8 8 10 6 11 4 13 2 13 0 16-5 17-8 18-13 10-9 22-23 11-14 24-35 25-45 25-54 25-64 23-73 11-39 10-41 8-41 7-41 6-40 4-40 2-37 0-35-2-32-4-29-6-24-8-20-10-16-12-12-14-7-15-4-16 0-17 3-18 6-18 9-19 10-19 12-38 28-18 15-35 31-48 48-27 31-25 30-22 30-27 42-22 41-22 51-13 36-32 94-14 33-12 21-12 17-14 11-11 4-11 2-6-1-12-4-13-8-7-5-14-15-15-19-14-24-15-29-13-33-13-37-11-40-8-41-5-41-2-39 2-34 2-15 4-14 4-12 6-10 6-9 7-7 8-4 9-4 9-1 10 0 11 2 10 3 11 4 23 12 11 7 22 17 33 29 29 32 27 34 22 34 20 34 21 45 14 33 14 43 45 152 12 33 14 29 8 13 8 12 10 11 10 8 12 7 13 5 14 1 8-1 17-4 9-4 19-12 21-19 11-12 23-30 25-39 25-49 24-58 24-67 20-74 9-38 8-39 6-38 5-37 3-36 1-34-1-31-3-27-5-25-7-20-9-16-10-12-12-8-14-4-15 0-16 2-17 6-17 8-18 10-18 12-18 13-35 29-50 47-45 47-25 31-34 44-18 28-24 40-18 38-20 47-11 33-30 94-15 38-10 18-11 15-12 10-9 5-5 1-11 1-5-1-12-4-13-8-6-5-14-13-14-18-7-11-15-25-14-30-14-35-13-38-12-42-9-44-6-44-3-42 1-39 2-17 3-16 4-15 5-13 6-11 7-9 8-7 9-5 9-4 10-2 10 0 11 1 23 7 12 5 23 14 12 8 23 18 32 31 30 34 26 36 23 36 20 37 17 37 15 37 53 147 18 39 14 26 11 15 12 13 13 11 6 4 15 7 8 1 17 1 10-2 9-3 10-5 11-6 11-9 11-10 11-12 25-31 25-40 25-50 24-60 11-32 21-70 9-36 7-37 7-36 4-34 3-34 1-30-1-28-2-25-5-21-7-17-9-13-10-9-12-5-13-2-14 3-15 5-17 7-16 11-17 12-34 28-17 15-33 33-31 33-28 33-26 31-22 31-29 43-22 40-18 37-17 46-10 32-9 40-9 46-17 112-7 30-9 26-6 14-5 8-12 13-7 4-7 4-13 2-11-1-11-3-12-7-14-10-23-22-17-21-9-13-18-30-10-18-19-40-20-48-10-27-18-58-16-63-14-67-9-67-3-33-2-32 0-30 2-28 3-26 5-24 6-21 8-18 9-14 10-12 12-9 13-6 14-3 14 0 16 2 15 4 16 5 16 8 33 19 31 23 15 12 29 27 27 29 12 14 24 30 20 31 27 47 16 31 20 47 60 159 17 37 12 22 12 19 7 9 15 14 16 10 8 4 9 2 10 0 10-1 10-3 10-4 11-7 12-8 11-11 12-13 13-16 12-18 12-20 13-23 24-52 11-29 21-63 16-65 7-32 5-32 3-29 2-28-1-25-2-21-4-18-5-15-8-10-9-6-10-3-12 1-13 4-14 7-15 9-15 12-31 28-16 16-30 34-29 35-26 34-24 34-21 31-18 30-22 42-12 26-9 24-7 23-7 31-3 20-1 27 2 24 4 21 6 18 9 15 11 10 8 5 5 1 10 1 5-1 12-4 13-7 13-12 14-16 8-10 15-23 15-28 8-16 14-36 14-41 7-21 11-45 9-47 5-46 1-44-2-39-3-17-4-16-5-13-6-12-7-10-8-8-9-6-10-3-10-2-11-1-12 2-11 3-25 9-24 15-24 17-24 20-22 22-21 23-19 24-18 25-16 25-15 25-19 38-26 62-50 137-13 30-14 28-10 16-11 15-12 12-6 5-14 9-8 3-16 3-8-1-9-1-10-3-9-4-10-6-11-8-11-9-23-25-24-34-24-44-24-52-12-29-22-65-18-69-8-35-6-34-5-34-3-33-1-30 0-28 3-25 4-21 6-17 8-14 9-10 12-6 12-2 14 0 14 4 16 7 16 9 16 11 34 26 16 15 33 31 30 32 28 33 26 31 22 30 29 43 23 40 12 25 11 24 16 45 12 42 8 39 24 154 7 29 7 21 11 22 11 14 7 5 7 4 9 3 9 0 16-3 12-5 14-8 15-13 16-17 9-10 18-25 10-16 19-35 11-20 20-47 20-54 19-61 17-67 14-69 9-70 2-34 2-33-1-31-2-28-4-26-5-24-7-20-9-17-10-14-11-10-13-8-14-4-14-2-16 1-16 3-16 6-17 7-17 8-16 10-33 23-31 26-15 14-28 29-25 30-23 30-21 31-26 47-15 31-20 46-58 156-16 35-12 21-12 18-7 8-14 14-16 9-8 3-9 1-9 1-9-2-10-3-11-5-10-6-11-9-11-11-12-13-11-15-12-18-12-19-23-47-11-26-21-57-18-61-13-62-5-30-3-28-1-26 0-24 2-21 4-17 6-15 7-10 8-7 11-3 11-1 12 3 14 6 14 9 14 10 30 26 15 14 30 31 28 33 26 33 24 32 20 31 19 29 22 41 12 26 9 24 8 22 8 32 4 29 2 26-1 24-3 22-6 19-7 15-10 12-12 8-9 3-5 0-10-1-11-5-6-3-13-10-14-14-7-8-21-33-23-44-14-35-14-40-6-21-11-44-9-46-5-46-2-43 2-40 3-17 4-17 5-14 5-12 7-11 8-8 9-7 9-4 10-3 11-1 11 0 11 2 24 9 24 13 24 16 24 20 22 21 21 23 20 24 18 24 16 26 15 25 20 39 27 64 49 132 14 31 15 30 11 17 11 15 13 13 7 6 15 8 8 3 8 2 9 1 9-1 10-2 10-3 11-6 10-7 12-9 11-11 12-13 13-15 12-18 13-21 25-48 25-58 12-32 21-69 10-36 8-36 7-36 5-35 3-33 2-31-1-28-2-25-4-21-7-18-8-13-10-9-11-5-13-1-14 2-15 6-16 8-17 11-16 12-17 14-34 31-33 34-31 34-28 34-36 48-21 30-26 43-14 26-17 38-13 34-9 33-7 30-6 38-4 44-2 39 1 44 2 38 3 35 6 31 6 22 8 20 9 14 12 11 7 4 8 2 14 2 17-2 12-5 15-8 16-12 18-17 10-10 21-26 11-16 23-38 12-22 25-52 26-63 25-73 22-81 11-43 9-44 7-44 7-44 4-44 3-41 1-40-2-36-4-33-5-29-8-25-11-20-12-16-13-11-16-7-17-3-18 0-19 4-19 6-20 9-20 10-20 12-39 28-38 30-17 16-34 32-29 33-27 32-23 32-19 31-25 47-20 45-17 44-39 117-18 42-15 25-11 14-11 10-7 4-13 4-15 1-8-2-16-8-17-14-18-20-18-26-18-33-17-39-8-22-15-45-12-47-8-47-2-23-1-41 1-18 3-16 3-14 6-11 6-9 7-7 9-4 9-2 10 0 11 3 11 4 12 6 12 7 25 19 25 22 24 24 23 25 21 25 19 26 25 37 14 24 18 34 10 22 11 32 9 29 6 28 3 26 2 32 0 22-3 27-5 23-7 19-10 15-9 8-10 4-12 0-14-5-16-12-17-19-19-27-20-36-19-46-19-55-10-41-9-43-4-22-5-44-2-42 2-39 5-35 4-16 5-13 6-12 7-11 8-9 8-6 9-6 10-3 10-2 10 0 11 1 23 6 23 12 23 15 12 9 22 19 21 22 20 24 18 26 17 27 16 28 15 28 26 59 46 117 18 42 18 39 14 24 14 22 8 10 17 17 9 7 10 6 10 5 10 3 11 1 12 0 12-2 13-5 13-6 14-10 15-12 15-16 15-18 16-23 16-25 16-29 16-32 16-36 15-38 15-41 13-43 12-44 11-44 9-43 7-42 4-39 2-35-1-30-3-26-5-19-9-14-10-7-13-2-14 3-17 8-17 12-18 16-19 18-19 21-38 45-37 48-35 46-30 45-27 41-23 38-19 35-16 32-12 30-9 27-7 25-4 23-2 21 0 29 2 17 7 23 10 18 8 10 10 7 5 3 12 2 13-1 15-5 16-9 17-16 18-21 10-13 19-32 19-38 19-45 18-51 15-55 12-58 8-56 2-27 1-26 0-24-3-22-3-19-5-17-6-15-8-11-9-9-10-6-11-3-12-1-13 1-13 4-14 6-14 7-29 18-29 22-28 24-38 39-23 27-31 40-18 26-23 38-12 25-17 36-13 35-12 33-40 134-9 24-10 21-7 13-8 11-13 14-15 11-11 3-6 1-13 0-7-2-15-6-8-5-16-13-9-8-18-22-20-28-9-17-20-38-20-46-18-52-16-57-14-60-10-60-3-30-1-28-1-27 2-25 2-23 4-20 6-18 7-14 9-12 9-9 11-7 12-3 13-1 13 1 14 4 15 5 15 7 30 18 15 11 29 23 28 25 38 41 23 27 30 40 25 40 21 40 17 38 15 36 45 130 11 27 13 24 13 21 16 16 11 7 6 3 13 3 14-1 8-2 16-7 17-12 18-19 19-24 20-32 19-38 19-45 17-51 15-55 12-56 4-28 5-53 0-24-1-23-2-21-4-18-6-16-6-13-8-10-9-8-11-5-11-2-12 0-13 3-13 4-14 6-14 8-28 19-14 10-28 24-26 26-25 26-33 40-28 39-23 38-14 25-11 24-15 35-12 33-13 43-33 119-11 30-12 27-7 12-7 11-13 13-15 9-11 3-6 0-13 0-14-5-15-8-9-6-17-16-9-10-19-25-20-32-10-19-21-43-19-50-19-57-16-61-13-63-8-64-3-30 0-29 0-26 3-25 4-22 5-20 7-16 8-14 10-10 11-7 12-5 14-2 13 1 15 3 15 5 15 7 16 8 16 10 31 22 15 12 29 26 39 41 24 28 31 42 26 41 22 40 12 26 16 38 41 116 11 29 13 27 8 17 15 20 10 11 11 9 7 3 12 4 15 1 7-2 16-6 17-12 18-17 19-24 19-30 19-37 19-44 17-49 14-53 11-55 4-27 5-51 0-24-1-22-2-19-4-18-5-15-6-12-8-10-9-7-10-4-11-2-12 0-12 3-13 4-27 14-14 9-28 21-40 36-25 26-23 26-30 40-18 25-16 26-20 36-21 47-16 44-12 41-36 149-8 29-11 25-12 22-8 9-8 8-9 6-10 5-11 2-6 0-13-1-14-5-16-9-8-6-18-16-9-11-20-25-21-33-11-20-21-45-22-52-20-61-18-66-15-69-6-35-4-35-4-34-1-32 0-30 2-28 4-26 5-22 7-19 8-16 11-12 11-9 13-5 14-3 15 0 15 3 16 5 17 7 16 9 17 10 33 24 32 26 45 42 26 29 35 44 29 43 23 42 20 40 16 40 39 107 12 31 13 28 9 16 14 21 11 11 12 8 6 3 14 3 14-2 8-2 16-8 17-14 18-19 18-26 19-33 18-39 8-21 16-47 14-50 10-52 4-25 4-48 0-21-1-21-3-18-4-16-5-13-6-11-8-9-9-6-9-4-11-1-11 1-12 3-13 4-12 7-27 16-13 10-26 22-25 24-24 25-22 26-20 25-26 38-15 25-13 23-22 46-16 44-11 41-9 38-9 45-14 87-7 35-8 31-8 23-13 25-9 12-7 8-8 6-9 5-10 3-12 1-12-2-15-4-15-8-9-6-18-15-10-10-21-25-11-15-24-37-12-22-24-51-25-61-24-70-21-77-10-41-8-41-7-42-5-41-4-40-2-38 0-35 2-33 5-29 6-25 8-21 10-17 13-12 13-8 15-5 17-1 17 2 18 5 19 8 19 10 19 11 19 12 37 28 36 31 47 47 29 31 24 31 22 30 28 44 22 43 18 40 15 40 32 93 11 29 8 18 13 22 10 12 10 10 6 4 12 5 12 1 7 0 14-5 15-9 15-15 16-20 17-26 16-31 7-17 15-39 13-42 10-43 4-22 6-43 1-40-1-18-2-16-3-15-5-12-5-11-6-9-8-6-8-5-9-2-10-1-10 2-11 3-12 4-11 6-24 14-23 19-24 20-22 22-20 23-19 24-17 23-23 35-24 45-19 43-17 51-9 39-9 45-20 138-6 38-8 34-8 26-7 14-7 14-9 12-7 7-11 8-10 5-10 3-12 1-13-2-15-4-17-9-19-13-21-19-12-12-24-31-13-18-27-46-28-57-28-68-14-39-14-42-13-43-12-46-11-48-10-48-8-48-7-48-4-46-2-43 0-40 3-36 5-32 8-26 10-22 12-16 15-10 16-6 18-2 19 3 20 6 21 9 21 12 22 13 42 31 21 17 40 34 53 52 31 33 39 48 22 30 27 43 21 41 16 38 13 37 31 93 12 33 11 20 8 11 12 11 10 5 10 2 5-1 11-3 12-7 6-5 12-12 12-17 13-21 12-25 12-29 10-32 9-33 6-35 4-34 1-33-2-29-5-24-4-11-5-9-6-7-6-6-7-5-8-3-8-1-8-1-9 1-19 6-10 4-20 11-29 22-29 26-26 29-23 31-27 42-16 31-19 42-15 41-12 40-31 119-12 41-13 37-13 28-12 18-8 11-15 15-12 7-12 5-14 3-16-1-9-2-18-7-10-6-22-16-23-24-13-15-26-38-27-48-27-59-14-34-14-36-12-39-13-41-11-42-10-44-9-43-7-44-5-42-3-40-1-38 1-34 3-30 6-26 8-21 10-16 12-11 14-7 16-2 17 2 18 5 18 8 20 11 20 13 19 14 40 32 55 52 49 51 28 33 37 46 20 29 25 41 19 38 20 47 15 42 25 81 14 35 9 17 10 14 11 9 8 4 9 2 5-1 10-2 5-3 17-11 17-20 19-29 12-24 12-27 11-32 10-34 8-36 7-37 3-37 1-35-2-32-6-27-4-12-5-11-6-9-6-7-7-7-8-4-8-3-9-2-9-1-10 1-20 6-10 4-21 11-10 7-21 15-29 28-18 20-25 33-23 35-19 35-18 36-15 37-49 130-13 33-19 41-16 28-12 16-14 14-14 11-8 5-17 6-9 1-10 0-10-1-10-3-11-4-12-7-12-8-12-11-13-13-13-16-14-18-14-21-14-24-14-27-15-29-13-33-14-35-13-37-12-39-11-40-10-41-8-40-7-40-5-38-2-36-1-33 2-28 4-25 7-19 8-15 11-10 12-5 14-1 15 3 17 8 17 10 18 13 19 15 37 34 36 37 35 39 31 37 41 53 24 33 28 46 23 42 17 38 12 35 10 32 6 31 5 37 3 43 0 40-2 42-4 38-5 29-7 26-9 23-10 16-12 13-7 5-9 4-14 4-18-2-14-4-15-7-17-12-9-8-20-19-10-13-23-30-12-19-25-43-12-26-26-59-26-70-24-80-11-42-10-44-9-44-7-45-6-44-4-42-2-41 0-38 3-35 5-30 6-27 9-22 12-17 13-13 14-9 17-4 17 0 19 3 19 6 20 8 20 11 20 12 20 13 39 30 37 31 49 49 29 32 26 31 22 31 27 46 22 43 18 42 14 40 32 95 16 39 13 23 10 13 10 10 6 4 11 5 13 2 7-1 14-5 15-10 15-15 16-20 16-26 16-32 15-36 13-40 11-43 8-42 2-21 3-40-2-34-3-15-4-13-5-11-5-9-7-7-8-5-9-3-9-1-10 1-10 2-22 9-12 7-23 16-23 19-22 21-22 23-28 34-18 24-22 34-13 22-16 33-14 32-10 30-8 29-7 28-6 35-4 33-2 31-1 35 0 33 2 34 3 26 5 22 7 19 7 12 10 9 5 3 7 2 11 0 8-2 15-7 11-8 12-11 13-14 14-19 16-23 25-45 27-59 17-47 9-26 16-56 15-61 11-64 8-65 4-62-1-30-1-27-3-26-5-24-6-21-7-18-9-16-10-13-11-10-12-7-13-5-14-2-14 0-15 2-16 4-15 6-16 7-30 19-30 23-15 13-27 28-25 30-24 32-21 33-27 52-17 35-15 36-65 174-21 46-15 27-17 24-9 11-9 9-10 8-10 6-11 5-11 3-13 0-12-1-14-4-13-7-15-10-15-13-15-16-16-19-16-24-16-26-16-31-16-33-16-37-15-39-14-41-12-42-11-43-10-42-7-40-5-37-2-34 0-29 2-24 5-18 8-12 10-6 12 0 14 5 15 10 17 15 17 17 18 21 37 46 53 74 46 72 27 45 22 40 26 54 17 45 9 38 2 11 1 20-2 18-4 14-6 11-8 7-11 3-12-1-13-6-8-5-16-14-17-20-17-27-9-16-18-37-16-42-15-47-7-25-11-50-4-25-5-47 0-22 0-21 2-18 3-17 5-14 6-12 7-9 8-7 9-4 10-2 11 1 11 2 12 4 13 6 13 8 26 18 38 33 24 25 23 25 21 26 19 25 17 25 22 36 17 35 14 33 11 32 11 40 8 38 5 35 4 41 3 51 1 52-2 45-3 38-5 28-7 20-5 9-6 7-7 6-5 3-10 2-7 0-13-2-10-4-18-11-14-11-15-15-17-19-18-25-10-15-20-35-11-21-22-48-23-56-11-31-22-70-19-76-16-81-7-41-5-41-3-40-2-39 0-36 2-34 4-32 6-28 8-24 9-20 11-17 13-13 15-8 15-6 17-2 17 1 18 3 19 6 19 8 18 10 19 11 37 26 34 28 16 16 31 32 27 33 25 34 21 34 28 53 15 35 14 35 57 164 18 41 12 25 14 21 15 17 9 7 8 6 9 4 10 2 10 1 10-1 11-2 11-5 12-7 12-10 12-12 13-15 13-17 13-20 12-22 13-25 13-28 12-29 11-31 20-66 9-33 7-33 5-31 4-30 1-28 0-24-2-21-4-17-6-13-7-9-10-4-10-1-13 3-13 7-14 10-15 12-15 14-16 16-31 35-44 56-39 56-22 35-20 33-23 44-16 40-11 35-4 21-2 19 0 17 1 15 3 13 8 15 7 7 8 5 10 1 11-2 11-6 13-10 14-15 14-19 14-25 14-29 14-33 6-19 12-38 5-21 8-41 3-21 4-40 1-19-3-35-2-15-4-14-4-12-6-10-6-9-7-6-8-5-9-3-9-2-10 1-11 1-22 8-11 5-22 14-34 26-31 31-29 33-17 22-16 23-20 34-23 45-18 44-15 43-36 126-11 35-12 31-11 22-7 13-9 12-9 11-10 9-12 7-6 2-14 4-7 0-15-2-9-2-18-9-10-6-20-18-11-11-23-29-24-38-25-48-25-57-23-65-22-73-9-38-8-39-6-38-6-38-3-36-2-35 1-32 2-28 4-26 6-21 9-17 10-14 11-9 13-5 15-2 16 2 16 4 17 8 18 9 36 24 18 14 35 30 49 47 43 47 25 30 31 44 26 41 21 39 11 24 14 36 12 33 33 103 9 23 10 20 11 16 8 9 13 9 9 3 11 1 5-1 12-3 13-8 6-5 14-13 14-18 7-11 15-25 14-30 14-35 13-38 12-42 9-43 6-44 3-42-1-39-2-17-3-17-4-14-5-13-6-11-7-9-8-7-9-5-9-4-10-1-10-1-11 2-23 7-12 5-23 14-12 8-23 18-32 31-30 34-26 35-23 37-20 37-16 36-15 37-41 115-16 41-13 29-14 26-11 15-11 14-13 11-7 4-14 7-8 2-17 1-9-1-9-3-10-4-10-6-11-7-11-10-11-11-12-13-24-34-25-43-25-53-24-62-11-33-19-71-9-37-6-36-6-35-3-34-2-32 0-29 2-26 4-23 6-19 7-15 10-11 11-7 13-3 14 1 14 3 16 7 17 9 16 11 18 13 34 29 49 48 44 49 26 32 23 31 30 43 23 41 19 37 18 47 10 32 10 40 8 38 20 115 7 31 8 21 6 15 5 8 6 7 6 6 7 5 8 4 13 2 10-1 12-3 12-7 14-10 15-14 8-9 16-21 9-13 18-31 10-17 19-41 19-47 9-26 17-57 16-61 12-65 8-64 3-31 1-31-1-28-2-27-3-25-5-22-7-19-7-16-10-14-10-11-12-8-12-5-14-2-14 0-15 2-15 4-16 6-16 7-15 9-31 21-30 24-14 13-27 27-25 29-33 44-19 31-25 46-14 31-20 46-53 142-17 36-12 22-13 20-6 8-15 15-16 10-8 4-9 2-10 0-10 0-10-3-10-4-11-7-12-8-12-10-12-13-12-16-12-17-13-21-12-22-25-52-11-30-22-63-17-66-7-33-5-32-4-31-2-28 0-26 2-22 3-20 6-15 7-11 9-8 10-3 12 0 13 4 14 6 15 9 15 12 16 13 31 31 31 34 30 35 27 35 24 34 21 32 19 30 16 29 13 27 10 25 9 24 6 22 6 31 3 19 0 27-2 24-4 21-7 18-8 15-12 10-8 5-5 1-10 1-5-1-12-3-13-8-13-11-15-16-7-9-16-24-15-28-8-16-16-37-14-41-7-22-11-46-10-48-6-47-2-45 2-41 3-18 4-17 5-14 6-13 7-10 8-9 9-6 10-4 10-2 11-1 12 1 12 3 25 10 25 14 25 18 24 20 22 22 22 24 19 24 18 25 17 26 15 25 19 38 11 25 16 38 50 138 13 30 14 28 16 23 12 13 6 6 13 9 8 4 15 4 8 1 9-1 9-2 10-3 9-5 11-7 10-8 11-10 23-27 24-35 24-45 24-54 11-29 21-65 17-68 7-34 6-34 4-33 2-31 0-29-1-26-3-23-5-20-7-16-8-12-10-8-12-4-12-1-14 2-15 5-16 7-16 10-16 11-33 27-48 46-30 31-27 32-24 31-22 30-28 42-22 40-12 25-10 23-16 45-9 31-8 40-8 44-17 119-6 29-8 26-10 22-8 11-6 6-7 5-8 4-8 2-10 1-16-4-13-5-14-9-15-14-17-17-9-11-19-27-10-15-20-37-11-22-21-49-21-56-19-64-18-70-13-72-6-37-3-36-3-35-1-33 1-32 3-29 4-26 6-23 8-20 9-17 11-13 12-10 13-6 15-4 15 0 16 2 17 4 17 6 17 9 18 9 34 23 32 26 16 13 29 29 27 30 13 16 22 30 21 32 26 46 14 32 20 46 42 115 15 39 16 34 11 20 12 18 7 8 14 12 15 8 9 3 8 1 9 0 10-2 9-4 10-5 11-7 11-9 10-12 12-13 11-15 23-38 22-46 11-25 19-56 17-59 12-60 4-28 3-27 0-25 0-23-3-19-4-17-5-13-8-10-8-6-11-3-11 0-12 3-13 6-14 8-14 10-29 24-15 14-29 30-27 32-26 32-23 31-20 30-18 29-22 40-12 25-9 23-8 23-8 31-5 29-2 26 1 24 3 22 7 25 7 15 10 11 11 8 9 2 5 1 10-2 11-4 6-4 13-10 20-22 21-32 22-42 20-54 13-40 6-22 10-44 7-45 4-45 0-41-4-37-4-16-4-15-6-12-6-11-8-9-8-7-9-6-10-3-10-2-11 0-11 2-11 3-24 9-24 14-24 17-23 20-21 22-21 23-18 24-18 25-15 26-15 25-19 39-22 52-51 135-14 32-16 30-11 18-12 15-14 14-7 5-16 8-8 3-9 1-9 1-10-2-10-2-11-5-11-6-11-8-12-10-12-13-13-15-12-17-13-20-14-22-13-25-13-28-13-30-12-32-12-34-11-36-10-36-8-37-8-37-6-37-4-34-2-32 0-30 1-26 4-23 6-18 8-14 10-10 11-5 13-2 14 3 15 5 16 9 17 11 17 13 35 31 34 34 32 35 30 36 39 50 23 32 28 45 15 28 19 38 9 24 12 34 7 32 6 30 4 37 1 34 0 32-3 36-5 33-6 23-8 21-9 18-12 15-12 8-13 5-16 1-12-3-14-5-15-10-8-6-17-16-9-10-20-25-10-16-21-36-11-21-23-48-22-57-21-65-19-71-15-75-6-38-4-37-3-36-2-35 1-33 2-30 4-27 5-24 8-21 9-17 11-13 13-10 13-6 15-3 16 0 17 3 17 5 17 7 18 9 18 10 35 24 33 28 16 14 30 29 27 30 36 46 21 30 26 45 14 30 19 44 57 155 14 31 11 18 16 23 13 12 13 8 15 4 7 0 8-1 9-3 9-3 8-6 19-15 20-22 20-30 19-37 19-43 9-24 16-51 13-53 9-52 3-25 1-24 0-21-2-20-3-17-4-15-6-12-7-9-8-6-10-4-10-1-12 2-12 3-12 6-13 7-14 9-27 22-26 24-26 27-24 27-22 28-20 27-18 26-16 26-19 36-11 23-9 23-7 21-9 30-5 29-4 27-2 25-1 24 1 22 3 27 6 24 5 16 9 18 8 10 10 7 12 4 8 0 10-3 11-4 11-8 13-12 13-15 22-30 22-42 16-35 22-61 14-46 11-50 9-51 6-52 2-49-2-46-3-20-4-19-5-16-6-15-7-13-9-10-9-8-10-6-11-5-11-2-12 0-13 2-13 3-13 4-26 13-26 17-25 21-13 11-23 25-22 26-20 27-18 28-25 44-15 30-20 46-46 118-17 42-18 38-13 23-14 21-8 9-16 16-9 6-9 6-10 3-10 3-10 1-12-1-11-3-13-6-12-7-14-10-13-13-14-15-15-18-14-22-15-24-15-28-14-31-14-33-14-35-13-38-12-39-11-40-9-40-7-39-6-37-3-35-2-31 2-27 3-23 6-18 7-13 10-7 12-3 14 3 15 6 16 10 17 13 17 16 36 37 52 63 33 43 29 41 26 38 22 36 19 34 16 31 12 28 10 27 7 24 7 34 2 20 0 28-2 16-6 22-9 19-7 9-9 8-4 3-11 4-12 0-6-1-14-5-14-9-16-15-17-20-9-12-18-29-18-35-17-41-16-47-15-51-11-53-8-53-3-50 0-23 1-21 3-20 4-18 5-15 7-12 8-11 8-7 10-6 11-3 12-1 12 2 13 3 13 5 13 6 27 16 28 20 26 23 24 24 24 25 30 38 19 26 23 38 14 25 17 36 15 36 13 34 43 132 10 26 11 23 8 14 9 12 15 15 11 8 6 3 13 3 6 0 15-1 8-3 16-8 9-6 19-17 10-11 20-26 21-35 21-41 20-50 19-55 17-61 13-63 9-62 2-29 1-28-1-26-2-23-4-21-6-18-7-15-9-11-10-9-11-6-12-2-13 0-14 2-15 5-15 7-30 18-16 11-30 24-44 40-38 42-34 42-28 40-23 39-19 38-15 36-13 34-44 138-9 24-10 21-12 18-13 15-15 10-11 3-6 1-12-1-7-2-14-6-16-11-8-7-17-19-18-24-18-31-18-37-17-43-17-48-14-53-12-55-4-27-5-54-1-25 0-24 2-22 3-20 4-18 6-15 7-13 8-10 9-8 10-6 11-3 12-1 13 2 13 3 14 5 13 6 28 17 14 9 27 22 39 36 34 38 30 39 26 39 21 39 12 25 16 37 18 47 37 108 15 36 12 24 14 21 16 16 12 8 6 3 13 3 8 1 15-3 8-2 18-10 18-15 20-22 20-29 21-37 21-44 20-52 18-56 15-61 11-61 3-29 2-29 1-26-1-25-2-23-4-19-5-17-7-14-9-11-10-8-11-4-12-2-12 1-14 3-14 5-15 7-30 19-15 11-30 25-42 41-38 41-32 42-27 40-23 38-18 37-14 35-12 34-13 42-30 109-10 30-11 27-14 22-8 9-8 7-15 7-11 3-6 0-12-3-14-5-15-10-8-7-17-17-9-10-18-26-19-32-9-19-19-42-19-49-16-54-15-58-11-60-6-59-2-28 0-27 1-25 3-23 4-20 6-18 7-15 8-13 10-9 10-7 12-5 13-1 13 0 14 3 14 4 15 6 30 17 14 9 30 23 27 24 38 39 23 27 30 41 18 28 23 40 19 40 16 39 51 140 13 29 10 17 15 23 11 12 6 5 13 9 7 2 14 3 16-1 8-3 18-9 19-15 20-23 21-29 21-37 20-45 20-51 17-57 13-58 10-58 2-27 1-26 0-25-2-21-3-20-5-16-6-14-8-10-9-8-10-4-12-2-12 1-13 3-14 6-14 7-14 9-15 10-29 24-42 40-26 28-24 28-22 28-19 27-25 39-20 38-20 46-15 44-10 40-8 38-25 156-7 30-9 27-11 23-9 12-7 7-7 5-8 4-10 3-10 1-12-2-13-4-15-8-16-12-18-17-10-10-20-26-10-16-23-38-11-22-24-51-23-60-22-68-20-75-8-39-8-40-6-39-4-40-3-37-2-37 1-33 3-31 4-28 6-24 9-21 10-16 12-13 13-9 15-5 15-2 17 2 18 4 18 6 18 9 18 10 19 11 36 26 34 28 16 15 31 31 27 31 36 46 20 30 26 45 14 30 19 43 51 141 13 32 9 18 16 24 11 12 13 9 13 5 15 1 7-1 17-6 17-12 18-19 19-25 19-32 18-38 9-22 16-46 14-49 10-50 3-24 4-46-1-21-1-18-3-17-4-14-6-12-6-9-8-7-9-4-10-2-10 1-12 2-12 5-12 6-13 8-26 19-26 23-25 24-23 26-22 26-20 26-17 26-16 25-20 35-10 23-14 33-7 21-8 30-6 28-4 27-2 25-1 31 1 29 3 26 5 23 6 20 9 17 7 9 10 7 11 4 8 0 9-2 10-5 12-7 12-10 13-14 21-29 22-40 23-51 23-62 13-48 12-51 9-53 6-53 2-50-1-24-2-22-3-21-4-19-5-18-6-15-8-13-8-10-10-9-10-6-11-4-12-2-12-1-13 2-13 3-13 4-27 14-26 17-26 21-12 12-24 25-22 26-21 29-18 29-25 46-15 31-20 47-42 109-18 44-19 41-14 24-15 22-8 10-17 16-9 7-10 5-10 4-11 3-11 0-12-1-12-4-13-6-14-9-14-11-14-14-15-17-15-21-15-24-16-27-15-30-15-33-15-36-14-38-13-40-11-42-11-41-8-41-7-39-4-37-3-33 1-30 2-24 5-19 8-14 10-8 11-3 14 2 15 7 16 11 17 14 18 18 18 19 18 21 37 44 34 46 31 44 28 42 24 39 21 36 17 33 19 45 8 26 7 25 3 22 2 21-1 18-4 24-7 20-7 11-9 8-5 3-11 3-12 0-13-4-15-9-16-14-17-19-9-12-18-29-18-35-18-41-16-47-14-50-11-53-8-52-3-48 1-23 2-20 3-18 4-17 6-13 7-12 8-9 9-6 10-4 11-1 12 0 12 3 13 4 13 6 27 16 27 19 26 23 25 24 23 25 21 26 29 38 16 25 21 37 18 35 14 35 12 33 10 32 37 131 11 31 10 21 14 24 9 10 9 8 15 9 12 3 7 1 13-1 15-5 17-10 8-7 19-17 10-11 20-28 21-34 10-21 22-46 20-54 19-61 17-65 12-67 4-32 3-32 2-31 0-28-2-27-4-24-5-20-7-18-8-14-10-12-11-7-12-5-13-2-15 1-15 3-15 5-16 8-32 19-16 11-32 25-44 41-39 42-23 29-30 41-17 28-22 40-12 26-16 37-13 36-34 96-11 27-11 25-13 20-14 17-11 8-6 3-12 3-13 1-7-1-15-6-16-11-16-15-18-22-18-28-18-33-17-40-16-46-14-49-12-51-4-26-6-50-1-23 0-23 1-20 3-19 4-16 5-15 7-11 8-10 8-7 10-4 11-3 11 0 12 2 12 4 26 11 14 8 26 19 39 33 24 25 22 25 30 37 26 38 22 37 23 47 13 34 15 44 34 117 10 34 12 30 10 21 7 12 8 11 13 14 16 9 12 3 7 1 13-1 8-2 16-7 8-5 18-15 9-10 20-24 21-31 11-18 22-43 21-51 20-58 18-64 15-67 10-66 2-33 2-30 0-29-2-26-4-24-5-21-7-17-8-14-10-11-12-8-12-4-14-2-14 2-15 3-16 6-16 8-16 9-16 10-32 24-16 13-30 28-41 42-24 29-32 42-26 41-22 40-18 38-14 37-38 109-10 28-11 25-8 15-13 19-15 15-10 7-6 2-12 3-14-1-7-2-15-8-15-12-17-17-17-23-18-29-18-35-16-41-16-46-13-50-11-50-3-26-5-48 0-23 0-22 3-19 3-18 4-15 6-13 7-11 8-8 9-6 10-4 11-2 12 1 12 2 12 4 13 6 13 7 27 17 13 10 25 22 25 23 23 25 30 37 27 38 22 37 24 47 15 35 16 45 43 145 13 32 10 21 7 13 9 12 9 10 10 8 11 6 6 2 12 2 7 0 15-2 8-3 17-10 9-7 18-17 10-12 21-28 21-36 22-43 21-52 20-58 18-64 14-67 5-33 4-33 3-31 1-30-1-27-2-26-4-22-6-19-7-17-9-12-11-10-11-6-13-3-14-1-14 2-16 5-15 7-32 18-16 11-32 25-45 41-40 42-24 29-31 42-26 40-20 39-12 26-15 36-13 35-34 102-10 26-11 23-12 19-14 16-10 7-5 3-12 4-12 0-7-1-14-5-15-10-8-6-16-17-17-23-18-28-17-35-17-40-16-46-13-49-11-51-4-25-5-50-1-45 2-21 3-18 4-17 5-14 7-12 8-10 8-7 10-5 11-3 11 0 12 1 12 3 13 5 13 6 13 8 27 17 38 32 36 36 31 38 28 37 23 38 19 36 17 36 17 46 37 116 13 36 13 33 12 22 8 13 10 11 15 14 12 6 6 2 14 1 7 0 16-4 8-4 18-11 19-17 10-11 20-28 22-35 21-43 21-51 20-57 17-63 14-65 5-32 4-32 2-30 1-29-1-26-3-24-4-21-6-18-7-15-9-12-10-8-12-6-12-2-14 1-14 3-15 5-16 7-31 19-16 11-31 26-44 41-40 43-23 28-30 41-24 40-20 39-17 36-13 35-12 33-33 107-10 24-10 21-11 19-12 15-15 10-10 4-6 1-12 0-7-2-14-5-7-5-15-12-9-8-16-20-18-26-17-31-18-38-16-44-16-48-13-52-10-53-3-26-4-51 0-24 1-22 2-20 4-19 5-16 6-14 8-11 8-9 10-6 10-5 12-2 11 1 13 2 13 3 13 6 14 6 27 17 14 10 26 21 37 36 33 38 29 38 24 39 21 38 17 38 15 36 43 122 11 30 11 27 13 24 15 20 16 16 12 7 7 3 14 3 7 0 16-3 9-4 18-11 19-17 21-24 21-32 22-40 21-47 20-54 18-60 14-62 10-62 3-30 1-28 0-26-2-24-3-22-5-18-6-15-9-12-9-9-11-5-12-3-13 0-13 3-15 5-15 7-30 19-16 11-30 26-43 41-27 29-24 28-31 42-26 40-22 38-17 36-13 35-12 33-12 41-27 107-10 30-11 25-13 22-7 9-9 7-14 7-10 3-6 0-12-2-13-5-15-8-7-6-17-16-8-10-18-24-18-30-10-18-18-40-19-47-17-52-15-57-12-60-8-59-2-29-1-27 0-26 2-25 3-22 5-20 6-17 7-14 9-12 10-9 11-7 12-3 12-2 14 1 14 3 14 5 15 6 15 8 15 8 29 21 28 24 39 38 24 27 31 41 27 41 22 41 13 28 17 40 54 144 14 30 10 18 15 24 12 13 6 5 14 9 7 3 15 2 17-1 8-3 19-10 20-17 21-24 21-32 22-39 21-48 10-26 18-56 15-60 11-59 3-29 2-27 1-25-1-24-3-20-4-18-6-15-7-11-9-9-10-5-11-2-12 0-13 4-14 5-14 7-30 20-29 25-29 27-28 29-25 29-24 29-30 42-17 27-22 38-12 24-10 24-15 44-13 51-8 46-5 43-4 47-2 61-4 160-2 35-3 24-7 20-4 7-5 7-8 6-7 4-9 2-7 1-17-2-17-5-21-10-16-10-18-15-21-21-24-28-13-17-27-42-15-25-31-61-16-35-16-40-16-42-16-47-16-50-15-53-14-56-13-58-11-58-10-59-7-58-5-55-1-52 1-48 4-43 7-36 10-30 13-23 16-17 18-10 20-4 22 1 23 5 24 10 25 12 25 15 25 16 49 36 23 18 44 38 58 55 32 34 15 17 26 33 21 31 9 16 17 30 19 43 14 42 11 40 23 93 12 36 10 22 8 12 8 9 9 6 10 3 6 0 11-3 12-7 12-11 13-15 13-20 12-24 12-28 10-30 9-33 7-34 4-33 1-31-3-27-6-22-4-9-5-8-5-6-7-5-7-3-8-2-8 0-17 3-19 8-20 11-19 14-19 17-19 18-17 19-24 30-14 20-19 30-16 30-13 29-10 28-9 28-8 35-6 33-5 38-2 36-1 32 2 34 3 25 5 22 8 17 7 10 5 3 5 3 6 1 6 0 12-4 12-7 10-8 10-11 12-14 12-17 12-22 14-25 20-47 21-57 18-67 11-49 4-25 7-51 4-50 0-48-4-43-4-20-4-18-6-16-7-14-8-12-8-11-9-8-11-6-10-4-12-2-12-1-12 2-12 3-13 4-26 13-12 8-25 20-25 23-23 27-21 29-20 31-19 33-17 35-31 72-43 110-21 54-24 50-17 30-19 27-10 12-11 11-11 9-12 7-13 6-13 3-15 1-15-2-15-6-17-8-17-12-18-17-19-21-19-25-19-30-20-34-20-40-19-43-19-48-18-50-16-52-14-53-13-53-10-50-7-47-3-41-1-35 3-27 6-19 9-11 12-3 15 5 16 13 19 18 20 23 20 27 22 29 42 64 59 96 49 87 26 51 29 65 8 18 11 34 3 15 5 27 1 11-2 20-4 16-4 5-4 5-5 3-6 2-6 0-7-1-8-3-8-4-18-15-10-10-20-27-11-17-21-40-11-23-20-52-10-28-17-60-7-31-11-60-3-28-2-27 0-24 1-22 4-19 4-16 7-13 8-9 9-5 11-2 12 0 12 4 14 6 14 8 29 23 15 13 30 29 42 46 25 32 23 30 21 30 18 28 15 27 18 38 10 24 11 33 8 31 4 29 2 26-1 33-2 21-7 26-9 20-9 13-8 6-7 4-9 2-5 1-10-2-12-4-12-8-6-5-21-21-22-32-23-43-15-35-14-40-7-22-13-45-10-49-7-49-4-47 0-45 2-20 3-19 4-17 5-15 6-13 7-11 9-9 9-7 9-5 11-3 11-1 12 0 12 3 25 8 25 14 25 17 25 20 34 34 21 25 28 39 17 26 22 41 14 27 17 41 60 154 15 33 17 30 19 25 14 14 8 5 16 8 9 3 9 1 10-1 10-1 10-4 11-5 11-7 12-10 12-11 13-14 13-16 13-19 13-22 13-24 13-27 13-29 12-31 12-33 11-35 10-36 9-37 8-36 6-35 4-35 3-32 1-29-2-26-3-22-6-19-7-14-9-9-11-6-13-1-14 2-14 6-16 9-17 11-16 13-34 31-34 34-32 36-29 36-27 35-23 33-21 31-18 30-21 41-11 25-13 36-7 22-7 31-4 30-2 27 0 26 2 24 3 22 6 27 9 24 8 15 10 13 12 9 14 5 10 1 12-1 13-5 14-8 8-6 16-15 8-10 18-23 9-14 19-32 10-19 20-44 19-50 17-56 16-61 12-63 8-63 2-30 0-29 0-28-3-25-3-23-6-20-6-17-9-15-9-11-11-9-12-6-13-3-13-1-15 2-14 3-16 6-31 15-15 10-30 22-30 25-40 40-24 28-31 42-19 29-23 43-14 28-18 41-57 151-14 31-10 18-17 24-13 12-13 9-7 4-16 3-8 0-9-2-9-2-9-5-10-6-20-17-21-24-21-33-22-40-21-48-10-26-18-57-14-59-10-58-3-28-1-26 0-24 1-22 4-19 5-16 6-12 8-10 9-7 10-3 12 0 12 2 14 5 13 6 15 9 14 10 30 24 28 28 28 29 26 29 23 30 21 28 27 41 15 26 19 37 10 24 12 33 9 31 6 30 4 28 3 35 1 32-1 30-3 34-4 24-6 21-7 19-10 16-6 6-7 5-11 5-13 1-11-1-11-5-12-7-14-11-23-24-16-22-9-14-18-31-9-18-19-41-19-48-9-26-17-57-15-62-11-64-8-64-2-31 0-30 0-28 3-26 3-24 6-22 6-19 8-16 10-13 11-10 11-7 13-5 14-2 14 0 15 2 15 4 16 6 15 8 16 9 30 21 30 24 14 13 27 27 24 29 23 30 20 30 26 47 15 31 20 47 45 120 16 40 12 26 12 23 13 20 7 9 14 16 17 12 8 4 9 3 10 1 10 0 10-2 11-4 12-6 11-8 12-10 13-13 12-15 13-18 13-20 13-23 13-26 13-28 12-30 22-64 10-34 9-35 7-34 6-33 4-32 2-29 0-27-2-23-3-20-6-15-7-11-9-7-11-3-12 1-14 4-14 8-15 10-16 13-32 30-32 35-31 37-28 36-26 36-23 34-20 32-17 30-14 28-11 26-9 25-6 23-7 31-2 20 0 26 1 16 5 22 7 18 9 14 8 7 4 3 9 3 11 1 6-1 12-4 13-8 14-12 14-17 8-10 16-25 16-30 7-17 15-37 14-43 7-22 11-46 8-48 5-46 0-44-1-19-2-19-4-16-5-15-5-12-7-11-8-8-9-6-9-5-11-2-11-1-11 2-12 2-24 10-25 14-25 18-24 21-23 22-21 23-29 36-17 25-15 25-14 25-19 37-25 60-50 142-12 28-13 26-15 22-16 18-13 9-7 3-14 5-8 1-16-2-9-3-19-9-21-16-21-24-23-31-24-41-23-49-22-57-21-64-16-68-7-34-5-33-4-33-2-31-1-29 1-27 3-23 5-20 7-17 8-12 10-10 11-5 13-3 13 1 15 4 15 6 16 8 33 22 16 13 33 29 45 45 28 31 25 30 32 44 27 41 21 39 22 48 13 34 12 42 35 146 8 26 10 23 12 19 7 8 7 7 13 6 15 2 11-2 13-5 13-8 7-6 15-15 8-9 17-22 9-13 18-31 9-18 18-41 17-46 17-53 14-56 11-59 8-59 3-56-1-26-2-24-3-22-5-20-6-18-7-15-9-12-9-10-11-7-12-5-12-2-14 0-13 2-15 4-14 6-15 6-14 9-30 19-28 23-13 12-26 26-23 27-32 41-19 29-24 43-14 28-18 43-46 121-15 36-15 33-11 19-18 26-14 13-15 10-7 3-9 2-8 1-9 0-10-2-10-3-10-5-10-7-11-8-12-11-11-13-12-15-24-37-23-47-23-54-11-30-18-63-15-65-5-31-4-31-3-29 0-26 1-24 3-21 5-17 7-13 8-10 10-6 11-3 12 1 13 3 15 7 14 9 16 10 15 13 31 28 31 32 29 32 27 33 24 31 21 31 19 29 16 28 19 39 11 24 8 23 7 22 7 31 5 29 2 27 0 26-1 23-3 22-6 26-6 18-7 15-9 12-11 9-13 6-10 1-11-2-11-4-13-8-7-5-15-14-8-8-16-21-8-12-17-30-9-17-17-38-17-44-8-25-15-51-13-56-10-57-6-56-1-27 0-25 2-24 2-22 4-21 6-18 6-15 8-13 9-11 10-8 11-5 12-4 13-1 13 1 13 3 14 4 29 13 14 9 28 20 27 22 38 38 22 26 30 42 18 28 24 43 13 28 18 43 56 144 15 34 11 21 18 26 14 15 7 6 15 9 9 3 8 2 9 0 10-1 10-2 10-5 11-6 11-7 11-10 12-13 12-14 12-17 12-19 25-45 24-55 11-30 20-64 9-33 8-34 6-33 4-32 4-31 1-28-1-26-2-22-4-19-6-15-8-12-9-7-11-4-13 0-13 3-14 6-15 9-16 11-32 26-31 31-31 34-29 33-26 34-24 32-20 30-18 30-22 40-12 26-9 24-8 22-8 33-4 20-4 28-1 27 0 25 3 23 5 28 6 18 7 16 9 14 11 10 12 7 10 2 5 0 11-2 13-5 13-9 7-6 15-14 8-10 17-22 8-13 18-31 9-18 17-41 17-46 16-51 13-55 10-57 7-57 2-53-1-24-2-23-4-21-5-19-6-16-8-14-8-11-10-8-11-6-11-4-13-2-13 1-13 2-14 4-29 13-14 9-28 19-27 22-38 38-23 26-31 41-18 28-24 42-13 28-18 42-59 154-15 32-11 20-18 25-13 14-7 6-15 8-8 3-8 1-9 1-9-1-10-3-10-4-10-6-11-8-11-9-11-12-12-14-23-34-24-44-23-52-11-29-20-63-17-65-6-32-5-32-3-30-2-29 0-26 2-23 4-19 5-17 7-12 9-9 10-6 12-1 13 1 14 4 14 7 15 10 16 11 31 26 31 31 30 32 28 32 25 32 23 31 20 30 17 28 21 40 11 24 14 35 6 22 8 32 5 29 3 27 1 26-1 32-4 29-5 26-7 23-7 15-9 13-10 9-12 7-14 2-11-1-12-4-13-8-14-11-16-15-8-10-17-23-8-14-19-32-9-19-18-42-18-49-17-54-14-59-12-61-7-60-2-30-1-28 1-27 2-24 3-23 5-21 7-17 7-16 9-12 11-10 11-7 12-4 13-2 14 0 14 3 15 4 14 6 16 7 15 9 29 20 29 23 14 13 26 26 24 28 31 42 19 29 24 44 14 30 19 43 56 148 16 35 11 20 19 26 14 14 15 11 8 3 8 3 9 1 9-1 10-1 10-4 10-5 11-7 11-9 12-11 11-14 12-15 12-18 13-21 23-47 12-27 22-59 18-64 15-65 5-32 3-30 2-28 0-25-2-23-4-19-5-16-7-12-9-8-10-5-12-1-13 3-13 5-15 8-15 10-15 12-32 28-30 31-30 33-27 34-25 32-22 32-19 29-24 42-13 26-10 25-9 23-9 33-5 21-4 29-1 18 0 25 2 24 3 21 6 19 7 17 8 14 11 10 13 7 9 2 11-1 11-4 13-7 7-5 14-13 7-8 16-20 8-12 16-28 9-16 16-36 16-42 8-23 14-49 11-51 9-53 5-52 0-48-1-22-3-21-4-18-5-17-6-14-8-12-9-9-9-8-11-5-11-3-12-1-12 1-13 3-13 4-27 13-13 8-27 18-26 22-35 36-22 25-29 40-18 27-22 41-14 27-17 41-58 152-15 32-16 29-18 24-14 13-7 6-15 7-9 3-8 1-9-1-10-1-10-3-10-5-11-7-11-8-11-11-12-12-12-15-12-18-12-19-25-47-24-55-11-31-20-65-17-68-6-34-4-33-3-31-2-29 1-26 2-23 5-19 6-16 8-12 9-8 11-4 13-1 13 3 15 6 15 8 16 10 16 12 32 29 32 32 31 33 28 33 25 33 23 31 29 44 15 28 19 39 11 24 11 34 6 22 7 30 4 29 2 27 1 33-2 31-3 29-5 25-8 23-6 15-12 16-10 10-12 6-15 2-11-1-12-5-14-7-15-12-16-16-8-9-18-25-9-14-20-34-10-20-19-44-20-52-18-58-16-63-12-66-9-65-2-32-1-31 1-28 2-27 4-24 5-22 7-19 8-15 10-13 11-10 12-6 13-4 14-2 15 2 15 3 16 5 16 7 16 8 16 10 31 22 30 25 14 13 27 28 25 29 32 44 19 29 24 45 14 30 19 43 41 110 14 37 15 33 11 20 12 17 7 8 13 12 15 10 8 3 8 1 9 1 9-1 9-2 10-4 10-6 10-8 11-9 11-12 22-29 23-38 23-46 10-26 20-57 17-60 12-61 5-29 2-28 1-26 0-23-2-21-4-18-6-14-7-11-9-8-10-4-11-1-12 2-13 5-14 7-14 9-30 24-15 13-29 30-29 31-26 31-24 31-21 30-19 29-23 40-13 26-11 24-8 23-10 32-4 21-5 28-2 18 0 26 1 23 3 22 6 26 6 16 8 14 10 11 12 7 13 2 11-1 11-4 12-7 7-5 20-21 23-32 24-43 16-35 15-41 7-22 14-47 11-51 9-51 4-51 1-47-1-22-3-20-3-19-5-16-6-15-7-12-9-11-9-8-10-5-10-4-12-2-12 0-12 2-13 3-13 5-26 13-26 18-26 20-35 35-22 25-29 40-18 27-23 42-13 27-19 42-46 120-15 37-15 34-12 20-18 27-14 15-8 6-16 9-9 3-9 2-9 0-10-1-10-3-11-4-11-7-12-8-12-11-12-13-13-15-13-18-13-21-13-23-13-26-13-28-12-30-12-32-11-34-11-35-9-36-8-36-6-35-5-35-3-32-1-29 1-27 2-23 5-19 7-14 9-11 10-6 12-2 13 1 15 5 15 8 16 11 17 12 33 31 34 34 31 36 30 35 26 35 24 34 21 31 25 44 14 27 11 25 9 25 10 33 5 22 5 30 2 27 0 26-2 24-5 30-6 19-7 17-9 15-10 12-13 8-10 3-5 0-11-1-13-3-14-8-7-5-15-14-8-8-17-22-9-13-18-30-10-18-18-40-18-47-17-53-15-56-12-60-8-59-2-29-1-27 1-26 1-24 4-23 4-19 6-18 8-14 8-12 10-10 11-6 12-4 13-2 13 1 14 2 14 5 15 6 15 7 15 9 29 20 28 23 39 38 24 27 31 42 19 27 24 42 20 42 17 40 42 114 14 34 14 30 10 19 17 23 12 13 7 5 14 8 8 2 8 1 8 0 9-1 9-2 9-4 10-6 10-7 21-20 21-28 23-37 22-44 21-52 10-28 17-60 14-61 5-30 3-29 2-28 1-26-2-23-2-21-5-17-6-14-8-11-9-8-10-4-12-2-12 2-14 4-14 7-14 8-15 10-15 12-30 26-29 29-28 30-25 30-24 30-20 28-26 41-15 26-18 37-13 34-11 33-7 31-6 29-4 36-3 33 0 32 1 35 3 33 5 29 7 25 7 17 9 15 6 6 6 5 11 5 14 2 15-3 12-4 13-8 14-12 16-16 9-10 18-24 9-14 20-34 10-20 21-45 20-53 20-60 18-66 15-71 11-72 3-35 2-34 1-33-1-31-3-28-4-26-6-23-8-19-9-17-11-13-12-9-14-7-14-3-15-1-16 2-17 4-17 6-17 8-17 9-33 22-32 25-16 14-29 29-26 30-13 15-22 31-20 32-26 48-15 31-20 48-54 145-16 37-12 22-12 19-7 9-15 14-16 9-8 3-9 2-10 0-9-1-10-3-11-5-11-7-11-9-12-11-11-14-12-16-12-18-12-21-24-47-11-27-22-59-17-63-7-32-6-31-5-30-2-28-1-26 1-23 2-20 5-16 6-13 7-9 10-6 10-1 12 1 13 5 14 7 14 10 30 25 16 15 30 32 29 34 27 34 24 33 22 32 18 30 23 42 13 26 9 25 8 23 8 32 3 19 2 27-1 16-2 23-6 19-7 16-10 12-8 5-9 3-5 0-10-1-12-4-6-3-12-10-14-13-7-9-22-33-22-43-14-35-13-40-6-20-10-44-8-45-5-43-1-42 3-37 3-16 4-15 5-13 6-11 7-10 8-7 9-5 9-4 10-2 11 0 11 1 11 3 24 10 24 13 23 17 23 20 22 21 20 23 19 23 17 24 16 25 14 25 19 37 26 61 42 116 12 32 13 29 14 27 11 16 11 14 12 12 7 5 15 7 7 3 17 1 9-1 9-2 10-4 10-5 11-7 11-9 11-11 12-12 12-16 24-37 25-47 25-56 12-32 21-67 10-36 8-36 7-36 5-35 4-34 2-32 1-30-2-26-3-23-6-20-7-15-10-11-10-8-13-3-13 0-15 3-16 6-16 9-17 11-16 12-34 29-50 49-30 33-27 32-25 32-22 30-27 42-22 40-17 37-17 45-9 32-9 40-8 45-17 112-6 30-8 26-10 22-11 14-7 6-7 4-8 3-9 1-15-2-12-5-13-8-14-11-16-16-8-9-18-24-9-14-20-33-10-19-20-44-20-52-19-58-17-65-14-68-11-69-3-34-2-33-1-32 1-30 3-27 5-25 6-22 7-19 9-16 11-13 11-9 13-7 14-3 15-1 15 2 16 3 17 6 16 7 17 9 33 22 31 24 15 14 29 28 26 29 34 46 20 31 26 47 15 31 20 47 53 144 17 37 11 22 13 20 7 8 14 15 16 10 8 4 9 2 9 1 10-1 10-3 10-4 11-6 11-8 11-11 12-13 12-14 12-18 12-20 13-22 23-50 11-29 21-61 16-63 7-32 5-31 4-29 1-28 0-25-1-21-4-19-5-14-8-11-8-7-10-4-12 0-13 3-13 7-14 8-15 11-31 27-15 16-30 32-29 34-26 34-24 34-21 31-19 30-22 42-11 25-10 25-7 22-7 32-3 19-2 27 1 24 4 22 6 18 8 15 11 11 8 5 9 3 5 0 11-2 11-5 7-3 13-11 13-15 8-9 14-22 8-12 22-46 15-37 13-40 6-22 10-45 8-46 4-44 1-43-4-37-3-16-5-15-5-13-7-10-7-9-8-7-9-5-10-3-11-2-11 1-11 2-12 3-24 10-24 15-24 18-23 20-22 22-20 23-19 24-17 25-16 25-14 25-19 38-26 62-50 137-13 30-15 28-10 16-12 14-12 12-7 5-15 7-7 3-17 1-9-1-9-2-10-4-10-5-11-8-11-9-11-11-12-13-12-15-25-38-24-47-25-56-11-32-21-67-9-35-8-36-7-35-5-35-4-33-2-31 0-29 2-26 4-22 6-18 8-15 9-10 11-7 12-3 14 1 15 4 15 6 16 9 17 11 17 13 33 29 49 48 29 33 27 32 25 32 21 30 27 42 22 39 11 25 10 24 15 44 10 41 9 47 20 155 5 28 8 24 10 21 7 11 6 5 6 5 7 4 9 2 9 1 16-3 12-5 13-8 15-12 16-17 9-10 19-25 9-15 21-35 10-20 22-47 21-55 10-30 20-66 17-72 14-74 5-38 3-36 2-36 1-33-1-32-4-29-4-26-7-23-8-20-10-16-12-12-12-9-15-6-15-2-16 0-16 3-17 4-18 7-17 9-18 10-34 24-33 26-16 14-29 30-27 31-24 31-21 31-27 48-16 32-20 47-59 159-16 36-11 22-13 18-6 8-14 13-16 10-8 2-9 2-9 0-9-2-10-3-10-5-11-7-11-9-11-11-11-13-12-16-23-37-23-47-11-26-20-56-9-30-14-61-6-29-4-29-2-27-1-25 0-23 3-19 4-17 6-12 7-10 9-6 10-2 12 1 12 4 14 6 13 9 29 23 15 13 30 30 28 32 26 33 24 32 22 31 19 30 23 41 12 26 11 24 8 23 8 32 4 19 3 28-1 24-2 22-5 19-7 16-10 12-11 8-9 3-5 0-10-1-11-5-6-3-12-10-20-22-21-33-22-43-13-34-19-59-10-43-8-44-4-43-2-41 3-37 3-16 4-15 5-13 6-12 7-9 7-8 9-6 9-4 9-2 11-1 11 1 11 2 23 9 23 12 23 16 23 19 22 21 20 22 19 24 17 24 16 24 14 25 19 38 27 63 53 140 13 31 15 29 11 17 12 14 13 13 7 5 15 8 8 3 8 2 9 0 9-1 10-2 10-4 11-5 11-8 11-9 12-11 12-14 13-16 12-18 13-21 13-24 26-54 12-31 24-67 10-36 10-37 8-37 7-37 5-35 3-34 2-32-1-29-2-25-5-22-6-17-9-13-10-9-12-5-13-1-14 2-16 6-16 9-17 11-17 12-35 30-33 33-33 35-29 34-40 50-22 31-28 44-23 40-17 38-13 34-9 33-7 30-7 38-4 36-3 40-2 51 0 56 2 132 2 35 3 24 5 18 8 13 10 9 7 4 8 3"/></g></g>
<rect class="sp" x="260.6" y="21.45" width="182.00" height="125.95"/>
<path class="tk" d="M274.50 147.40v2.6M299.85 147.40v2.6M325.20 147.40v2.6M350.55 147.40v2.6M375.90 147.40v2.6M401.25 147.40v2.6M426.60 147.40v2.6M260.60 147.90h-2.6M260.60 121.40h-2.6M260.60 94.90h-2.6M260.60 68.40h-2.6M260.60 41.90h-2.6"/>
<text class="l" transform="translate(274.50 158.30) scale(0.88 1)">−30</text>
<text class="l" transform="translate(299.85 158.30) scale(0.88 1)">−20</text>
<text class="l" transform="translate(325.20 158.30) scale(0.88 1)">−10</text>
<text class="l" transform="translate(350.55 158.30) scale(0.88 1)">0</text>
<text class="l" transform="translate(375.90 158.30) scale(0.88 1)">10</text>
<text class="l" transform="translate(401.25 158.30) scale(0.88 1)">20</text>
<text class="l" transform="translate(426.60 158.30) scale(0.88 1)">30</text>
<text class="r" transform="translate(255.20 150.60) scale(0.88 1)">0</text>
<text class="r" transform="translate(255.20 124.10) scale(0.88 1)">10</text>
<text class="r" transform="translate(255.20 97.60) scale(0.88 1)">20</text>
<text class="r" transform="translate(255.20 71.10) scale(0.88 1)">30</text>
<text class="r" transform="translate(255.20 44.60) scale(0.88 1)">40</text>
<text class="l" transform="translate(351.60 168.00) scale(0.92 1)">x</text>
<text class="l" transform="translate(243.10 84.42) rotate(-90) scale(1 0.92)">z</text>
<text class="t" transform="translate(351.60 16.85) scale(0.92 1)">Projection onto the xz plane</text>
<clipPath id="k2"><rect x="476.6" y="21.45" width="180.79999999999995" height="125.95"/></clipPath>
<path class="g" d="M505.34 21.45V147.40M536.12 21.45V147.40M566.90 21.45V147.40M597.68 21.45V147.40M628.46 21.45V147.40M476.60 133.97H657.40M476.60 117.88H657.40M476.60 101.79H657.40M476.60 85.70H657.40M476.60 69.61H657.40M476.60 53.52H657.40M476.60 37.43H657.40"/>
<g clip-path="url(#k2)" filter="url(#sh)"><g class="c" transform="scale(0.1)" style="stroke-width:3.8"><path d="M5672 854l10 3 8 5 6 8 6 11 4 11 5 16 4 22 4 27 2 32 2 35-1 54-4 45-4 21-6 14-3 5-7 4-6 0-7-3-8-8-10-12-8-14-5-13-4-16-14-89-4-36-3-35-1-31 0-31 2-29 3-24 4-20 5-14 15-33 4-11 2-13 2-14-1-13-1-12-11-45-6-29-4-31-3-42-1-51 2-44 3-42 4-38 11-52 14-52 6-14 4-9 4-1 3 2 8 16 16 40 9 27 8 29 7 35 3 28 3 42 0 25-3 26-2 5-4 6-5 0-6-2-16-16-6-4-2 0-2 4 2 17 15 66 5 34 4 50 0 41-3 33-2 12-5 13-4 4-5 4-7 0-14-4-3 1-1 3 2 15 13 63 8 47 4 51 1 59-2 28-2 26-4 23-4 18-5 14-6 14-8 14-9 14-4 3-2 1-2 0-3-4-7-17-11-34-7-26-6-29-4-28-4-32-2-45 1-32 3-25 5-18 4-7 4-4 4-2 4-1 5 2 5 3 17 14-4-12-12-27-7-19-5-19-6-27-5-39-2-36-1-39 1-38 2-24 5-29 3-15 7-17 6-10 9-7 10-4 7-1 5 1 3 3 4 6 11 39 10 45 7 45 3 38 2 39-1 27-4 29-4 15-6 13-4 3-4 3-17 4-2 3-1 5 2 20 12 54 6 35 4 34 2 44 1 50-3 48-5 41-7 31-10 28-9 18-7 13-3 4-3 0-3-2-3-6-9-23-10-31-7-25-5-24-5-30-4-34-2-36 1-23 1-19 2-16 3-11 2-4 4-5 5-2 6 1 8 5 15 14 2 1 0-2-2-12-15-59-7-36-5-42-3-51 1-52 4-35 3-14 5-16 5-12 7-9 7-6 9-4 6-1 4 3 4 7 5 17 15 54 8 47 3 26 2 31 1 52-1 20-3 25-2 13-5 16-4 7-5 7-7 4-7 2-11-2-5-3-3-8-11-36-11-37-7-38-5-45-2-43 1-45 2-30 6-31 7-22 5-10 5-6 7-5 9-4 6-1 4 2 4 6 3 11 14 51 8 35 5 40 4 39 0 41-2 37-4 28-6 18-4 6-5 5-5 3-7 1-14-1-2-2-18-45-9-27-8-39-4-38-3-48 0-50 4-44 3-17 4-14 4-11 4-8 6-8 6-4 9-2 9 0 5 2 4 6 5 15 9 33 11 53 6 48 2 47 0 29-1 25-3 21-4 16-5 11-4 7-8 6-15 6-3 4-1 6 2 14 14 36 7 27 6 32 4 36 2 45 0 49-3 47-6 39-7 29-9 23-9 15-13 18-5 4-3-1-5-7-5-14-17-56-9-40-6-42-2-34 0-33 2-27 4-18 3-7 6-4 4 0 4 1 16 7 2 0 2-4-1-14-12-56-6-37-4-40-1-36 0-47 3-32 6-30 7-18 5-7 6-8 15-12 2-1 2 1 2 3 4 8 17 51 6 20 5 28 6 48 3 59-1 46-3 20-4 23-4 11-6 11-6 5-8 2-10-2-9-7-4-5-3-9-12-47-9-46-5-41-3-43-1-38 1-37 5-37 5-22 5-12 4-8 6-8 7-8 9-8 4-1 2 3 4 7 15 46 8 30 6 28 5 38 2 33 1 46-2 32-2 19-4 21-4 9-6 10-6 4-8 1-9-3-9-7-4-6-2-8-15-58-7-38-5-34-4-44-1-40 1-39 5-42 7-30 8-19 6-9 7-9 9-9 4-1 3 3 4 7 12 38 9 33 7 35 5 37 3 32 0 44-1 30-2 17-5 18-3 9-6 8-6 3-7-1-9-3-8-7-5-7-21-60-7-29-5-28-5-48-1-46 1-48 3-33 6-34 7-23 4-7 6-9 7-7 7-6 9-4 3 0 2 2 5 10 7 23 11 39 7 33 5 34 3 41 1 31-1 28-2 24-4 17-5 10-6 5-3 2-5 0-15-2-3 1 0 4 2 17 16 71 7 53 2 36 1 40-1 40-2 28-6 38-5 18-4 14-8 16-11 19-7 8-3 1-1-1-5-8-9-24-9-28-8-30-8-43-5-54-1-34 2-30 3-23 5-15 6-7 4-1 5 0 9 4 14 12 2 0 0-1-3-12-12-42-7-24-4-24-5-32-3-39-1-45 1-45 3-29 3-17 5-19 3-11 6-11 9-11 10-7 9-4 2 0 2 2 5 10 7 24 8 28 6 28 8 47 4 49 1 31-1 29-3 23-3 13-3 9-5 9-7 5-8 1-14-3-3 1 0 3 2 15 14 38 6 23 4 22 5 31 3 40 1 35 0 48-3 33-2 20-5 25-3 14-6 15-8 15-9 13-12 11-3 2-2-1-4-5-6-14-10-31-7-27-9-46-5-40-2-33 0-31 2-27 4-19 5-11 6-5 7-1 17 7 2-1 1-4-1-13-12-56-7-39-4-38-2-46 0-48 3-35 6-33 4-15 5-11 6-11 8-12 9-10 3-2 2 0 3 3 3 8 14 40 6 24 6 25 4 24 4 29 3 55 0 34-1 19-3 17-4 19-4 9-6 7-6 3-7-1-9-4-9-8-5-10-20-68-6-30-5-37-4-50-1-45 2-43 5-37 6-28 9-22 5-9 8-9 9-9 6-3 2 1 2 2 6 12 12 38 8 33 6 29 4 27 4 53 0 32-1 19-3 23-4 16-6 9-5 4-4 1-5-1-16-6-2 1 0 2 2 16 12 45 6 27 4 24 3 31 3 38 1 42-2 41-3 28-6 37-5 16-5 11-9 16-12 14-5 4-3 0-1-2-5-10-9-26-9-30-6-25-8-51-5-54 0-33 2-28 4-20 5-14 6-6 4-2 4 0 8 3 14 8 1 0 1-1-3-14-12-39-6-23-6-29-4-31-3-40-1-46 1-45 3-29 3-17 5-21 4-11 5-12 9-12 11-10 8-5 2 0 3 2 5 11 8 27 9 31 5 25 8 50 4 52 0 31-2 27-3 20-5 14-6 7-5 3-7 0-15-4-2 1-1 2 2 17 12 44 6 25 5 31 3 32 3 39 0 42-1 32-4 37-7 36-5 16-5 12-9 16-11 14-5 4-2 0-2-1-5-10-8-24-9-30-7-24-4-24-4-27-5-55 0-32 1-20 3-24 5-15 5-8 4-3 4 0 9 2 15 10 1 0 1-2-3-14-12-43-6-26-4-24-4-32-3-38-1-43 1-43 3-28 3-16 4-20 5-15 6-11 8-12 11-10 6-4 3 0 2 2 4 9 8 24 8 28 7 29 8 48 4 52 1 32-2 28-3 23-4 16-6 9-3 4-4 1-9 0-15-6-2 0-1 2 3 13 13 36 7 21 6 29 4 32 3 41 2 36-1 48-3 33-3 19-5 24-4 12-6 14-7 12-10 10-11 8-3 1-2-1-4-6-5-14-16-57-9-44-6-49-1-32 0-30 2-25 4-19 5-10 6-6 4-1 5 0 15 4 2-1 1-4-2-17-15-73-7-55-2-35-1-39 1-38 3-26 6-35 4-16 5-12 5-12 9-13 8-11 3-2 2-1 2 2 2 3 5 12 11 32 9 29 8 45 6 51 2 46-1 31-3 25-5 17-4 8-4 4-4 2-6 0-7-3-7-5-7-8-5-6 4 6 15 17 7 12 7 17 7 30 5 32 3 42 2 47-2 46-2 27-4 21-5 17-2 6-6 8-3 3-5 2-8 0-11-6-13-12-5-7-3-10-13-64-8-54-4-48-1-34 0-24 2-23 4-24 3-13 6-13 5-9 11-13 3-6 3-8 1-10-2-26-14-79-5-52-2-33-1-38 1-39 2-28 6-50 8-39 14-48 5-15 5-10 2-1 3 0 2 2 4 6 14 36 12 35 7 24 6 32 7 51 1 40 0 23-3 17-1 7-4 9-5 3-2 0-5-1-7-6-17-18-3-2-2 3 2 12 17 69 5 30 3 28 2 30 1 32 0 30-3 25-2 14-5 15-4 6-5 6-5 3-7 1-18-5-1-2-23-47-5-17-5-17-4-24-4-30-3-38-1-27 1-41 1-26 3-22 3-19 4-15 5-11 7-10 7-5 8-2 11 2 7 3 4 6 5 14 8 32 12 57 5 39 3 45 0 45-3 30-5 22-6 13-8 9-13 7-3 3-2 4-1 8 2 22 11 49 5 26 6 54 2 35 1 40-2 41-2 29-6 41-4 20-6 21-8 24-11 24-5 9-2 1-2-1-3-4-4-7-10-27-10-30-8-28-6-28-3-22-4-36-1-25 0-35 2-18 3-13 2-5 4-6 4-3 7 1 8 7 14 13 3 1 1-2-2-13-15-60-5-32-5-42-3-50 1-50 4-31 3-13 5-14 5-9 7-7 6-3 7-2 8 0 3 2 5 9 13 42 9 34 7 42 5 49 1 44-2 44-3 27-6 27-3 10-6 10-6 6-8 4-9 2-7-2-3-3-3-6-8-29-11-43-7-38-5-42-2-50 1-39 1-17 3-23 6-21 5-10 5-6 6-5 7-3 11-1 3 1 5 9 15 46 10 38 6 37 4 51 1 47-2 44-5 34-7 23-4 8-6 7-7 5-8 1-8 0-5-3-3-5-3-9-12-42-8-39-7-43-3-46-1-49 2-35 2-15 4-17 3-9 5-10 5-6 6-4 18-6 2 0 1 1 16 42 10 29 8 38 5 37 3 45 0 49-3 43-3 18-4 14-3 11-5 8-6 8-6 3-7 2-8-1-6-3-4-4-4-8-3-12-13-52-8-48-5-50-2-29 0-28 3-43 2-13 4-17 3-8 5-9 9-10 21-12 3 5 21 52 7 25 6 30 5 41 2 36 0 52-2 35-3 19-5 22-4 11-7 9-6 4-5 1-5-1-10-4-8-7-3-7-5-14-14-66-7-44-4-49-1-37 1-35 2-23 5-25 5-17 7-13 24-25 1-1 1 1 17 38 9 25 6 22 6 32 5 43 2 38 0 51-3 34-3 17-4 14-5 9-6 8-7 3-4 0-6-1-10-7-7-9-4-7-3-12-15-70-6-41-4-46-1-44 1-35 3-31 4-25 5-18 8-17 19-27 3-2 2 0 3 5 4 9 16 46 8 27 6 31 5 41 2 36 0 49-3 31-2 17-4 13-4 10-6 8-7 3-4 0-5-2-9-6-8-10-4-7-3-10-15-70-6-37-5-44-2-45 0-38 3-35 5-36 5-22 9-22 7-13 9-14 5-5 3 0 2 3 4 8 16 45 9 33 6 31 5 41 2 34 0 45-3 29-2 15-4 11-3 8-7 6-6 1-7-3-10-7-8-9-3-7-5-17-13-36-7-22-7-36-4-34-3-44 0-49 3-46 5-38 7-27 4-10 6-11 5-8 8-9 9-8 5-2 3 1 2 3 5 13 10 32 9 32 6 29 4 27 5 52 0 32-1 19-2 24-5 16-5 8-6 4-7 0-15-5-2 2-1 4 2 17 15 74 7 56 2 36 1 38-2 29-3 34-6 32-4 15-6 14-8 13-12 15-4 3-4-1-5-12-10-28-7-25-6-23-9-49-4-54-1-35 2-30 3-24 4-12 3-8 4-5 4-3 4-1 6 0 6 3 7 5 6 6 4 6 6 20 13 33 5 17 6 27 5 31 4 41 1 36-1 49-2 34-3 20-5 25-4 12-6 15-8 12-8 8-13 9-3 0-2-1-5-7-6-18-10-34-7-29-8-49-4-51-1-31 1-19 3-23 4-17 5-10 5-4 7-2 16 3 2-1 1-4-2-18-15-75-7-55-2-36 0-39 0-28 4-35 6-34 8-28 7-14 11-18 7-7 2-1 1 0 5 7 6 17 10 30 8 27 9 46 5 53 2 35-1 32-3 26-3 13-4 9-4 6-4 3-4 1-4-1-5-2-6-4-15-15 4 10 15 26 6 15 8 27 6 33 4 47 2 41 0 42-3 38-4 21-3 17-5 12-7 12-7 6-5 2-6 0-13-3-7-5-4-7-5-18-14-66-8-51-3-45 0-28 1-25 2-23 4-22 5-11 6-9 4-3 11-7 4-3 2-5 1-7-2-22-15-79-6-53-2-35 0-38 1-40 3-36 7-45 6-23 5-18 10-26 7-15 3-5 2-1 2 0 2 2 7 14 12 31 9 27 6 22 5 27 4 22 4 49 1 37-1 21-2 16-2 6-4 9-2 3-4 3-7-2-9-6-15-15-2-2-1 2 2 12 12 46 6 26 7 53 3 40 1 31-1 40-3 25-3 14-4 16-4 8-5 8-7 5-7 3-11 0-5-2-2-5-4-12-17-57-7-34-5-42-3-41 0-43 2-41 5-32 7-21 3-7 6-7 6-6 7-2 9-1 5 2 3 5 4 11 15 53 7 33 5 38 3 38 1 41-1 39-4 32-6 21-5 10-5 6-7 4-8 2-9 0-4-2-4-9-11-33-10-38-8-38-4-36-2-43 0-45 3-41 5-31 7-19 4-7 6-6 7-4 8-3 7 0 5 3 3 6 4 13 14 55 7 35 6 40 2 39 1 40-2 37-5 28-6 18-5 8-5 5-6 4-7 1-10 1-4-2-16-45-10-32-7-40-5-38-2-46 0-48 3-32 6-33 3-12 4-8 4-7 6-6 8-3 10-1 7 2 4 4 7 22 13 52 7 36 5 40 3 48-1 38-2 33-5 24-6 16-8 10-6 4-13 5-5 3-2-1-20-43-9-28-7-35-6-41-3-50 0-40 3-37 2-20 4-17 4-12 5-9 4-6 5-3 6-2 8 1 8 4 7 5 4 6 3 10 12 54 8 43 5 45 3 44-1 44-3 30-5 28-5 11-5 10-6 7-12 11-4 5-3 8-2 0-22-44-10-27-5-20-5-29-5-49-1-58 1-40 5-32 6-21 5-8 6-4 5-1 5 1 7 3 7 7 7 8 6 11 6 21 12 71 6 38 3 43 2 41-1 40-4 36-5 27-8 26-21 44-3 4-3-2-22-55-7-20-5-20-8-48-3-37-1-27 1-39 3-33 5-23 6-13 5-5 5-1 4 1 7 3 7 7 6 7 5 8 4 9 4 16 13 73 5 35 4 33 2 39 1 35-1 35-4 40-6 37-9 31-9 22-9 19-4 5-2 0-1-2-6-10-12-34-8-23-7-26-5-26-4-31-3-36-1-25 0-35 2-19 5-21 6-11 4-3 5-1 4 1 6 5 7 6 7 10 6 9 3 7-19-37-8-20-7-28-6-35-5-48-1-41 1-54 4-33 4-17 5-13 7-11 7-5 9-1 6 1 6 3 9 8 4 10 12 49 10 50 5 44 2 43 1 27-1 25-2 22-5 23-4 13-5 12-6 7-12 12-3 5-3 7-1 10 2 14 12 31 7 24 4 21 4 30 3 39 1 35 0 49-2 36-2 22-5 28-5 24-6 18-9 23-14 27-6 10-3 1-2 0-3-3-3-7-11-29-10-32-8-31-6-29-3-22-3-37-1-24 0-22 2-17 2-14 4-8 4-4 4-1 7 2 16 10 3 0 1-4-1-15-14-68-6-46-3-55 1-46 2-16 3-19 3-10 5-11 4-7 5-5 19-10 2-4 2-6-2-7-12-18-8-19-7-24-5-30-5-43-2-39 1-56 3-39 3-22 3-19 4-16 7-17 7-12 6-7 16-14 7-4 3 1 2 2 5 12 11 35 9 34 6 31 4 29 4 53 0 30-1 18-2 14-4 14-4 6-6 4-5 1-12-3-3 0-2 2-2 5 2 17 13 77 6 59 1 36 0 26-1 26-3 29-6 27-9 21-6 11-15 21-3 2-3-2-5-11-14-39-7-22-5-19-4-23-4-29-3-34-1-25 0-37 2-32 5-25 5-17 4-6 5-4 4-2 6 0 7 3 7 6 7 7 3 7 5 17 14 64 5 32 4 34 3 42 1 37-1 37-3 33-6 32-4 14-6 14-8 15-11 17-5 4-3-2-6-11-10-31-8-26-6-24-5-23-4-29-4-56 0-35 2-29 4-22 6-14 4-6 4-3 4 0 6 1 7 3 6 6 6 7 4 7 24 76 6 27 4 31 3 39 2 47-2 47-2 32-3 18-5 23-4 12-5 14-10 15-10 12-8 7-3 1-3-2-4-8-8-23-9-30-7-30-9-52-4-53 0-31 1-19 3-21 5-14 4-6 5-4 8 0 15 6 2 0 2-4-2-14-12-56-7-38-5-46-2-47 1-49 4-42 7-31 9-23 7-12 11-13 5-5 4 0 3 5 4 11 16 47 5 23 6 29 6 49 2 56-1 31-1 18-3 14-5 16-4 6-6 5-6 0-8-2-9-6-7-8-21-52-7-22-7-38-5-37-3-46 0-51 3-36 5-39 8-27 4-9 6-10 8-8 8-6 9-4 5 0 5 8 5 17 11 38 7 30 8 48 3 51 1 30-1 18-3 23-4 17-5 9-5 5-7 2-15-1-2 2-1 4 2 17 10 53 6 29 6 58 2 36 0 39-2 28-3 34-6 33-4 15-6 15-8 16-11 18-4 4-3 0-1-2-7-13-11-33-7-24-7-27-7-45-3-33-1-23-1-34 3-29 4-21 5-13 4-4 5-1 4 0 4 1 9 7 14 14-4-13-14-35-6-19-7-29-5-34-4-45-1-37 2-50 3-32 3-18 6-20 4-10 7-9 4-4 6-4 12-3 7 1 3 2 3 5 4 13 9 31 11 53 6 48 3 48 0 29-1 25-3 21-4 15-5 10-5 6-6 4-16 3-2 4-1 5 3 20 12 48 5 26 4 25 3 31 2 38 1 41-2 43-3 29-6 39-5 18-6 19-9 20-11 20-5 6-2 0-2-1-6-12-12-32-8-26-7-29-8-48-3-35-2-24 1-33 1-18 3-14 6-12 4-4 6 0 8 4 15 12 3 0 1-2-2-14-15-61-5-30-5-41-3-48 1-50 4-34 2-14 5-16 4-12 5-8 7-6 8-6 9-3 2 0 2 2 3 5 5 15 16 53 9 45 3 26 3 30 1 55-2 31-1 18-3 15-5 17-3 9-6 8-7 5-8 1-10-2-6-5-4-7-5-17-15-61-7-38-4-43-2-41 0-41 3-36 6-29 6-19 5-9 5-6 7-6 9-5 5-1 3 2 4 5 4 11 15 52 7 35 5 32 4 39 1 43-1 31-4 34-2 13-5 15-4 6-5 6-7 4-8 0-10-3-5-4-3-9-11-35-10-37-7-37-5-43-2-42 1-44 3-40 5-31 7-20 3-7 6-8 6-6 9-6 7-2 4 2 3 4 4 10 14 48 7 32 6 38 4 38 1 42-1 39-4 31-6 20-3 6-6 5-5 3-6 1-16-3-2-1-19-44-9-26-7-32-5-38-3-48 0-52 2-37 3-20 3-17 4-14 4-10 5-7 6-7 6-3 9-1 9 1 5 4 5 8 6 20 8 37 7 33 7 54 3 47 0 28-1 25-3 21-4 16-5 10-4 7-8 6-14 6-3 4-1 7 1 8 2 12 11 44 6 24 4 30 4 31 2 39 0 42-2 43-2 30-7 41-5 19-6 20-9 21-11 21-5 5-2 1-2-1-6-12-13-34-8-27-7-30-9-51-3-37-1-24 1-21 1-19 3-14 1-5 4-7 4-4 7 0 6 4 16 12 3 1 1-3-2-12-12-55-7-37-5-41-2-48 1-48 4-33 2-12 5-15 4-10 7-9 7-5 9-4 7-1 3 2 4 9 12 37 11 39 5 27 4 26 4 53-1 57-3 39-3 16-5 17-4 8-6 8-7 5-8 2-10-2-3-2-3-2-4-8-4-15-15-61-7-46-4-44-2-39 1-38 3-26 4-26 7-17 4-8 5-6 7-5 12-5 4-1 2 2 4 8 8 24 11 37 8 35 5 34 3 42 1 46-1 33-4 36-3 14-4 11-6 10-6 7-7 3-8 0-9-2-5-5-4-9-5-18-14-61-6-39-5-42-1-39 1-39 3-34 5-25 6-17 5-8 4-6 7-5 11-6 4-1 3 2 3 8 8 22 12 40 8 37 5 34 3 42 1 46-2 32-4 35-3 13-4 10-6 10-6 5-7 3-9-1-8-3-4-5-5-11-7-29-12-52-6-40-4-44-1-40 1-38 3-33 5-25 7-17 4-8 5-5 8-7 9-5 4 0 3 2 3 8 7 19 13 44 8 37 4 34 4 42 0 45-1 31-5 33-3 13-3 9-6 9-6 5-7 2-8-1-8-4-5-5-4-11-9-31-11-47-6-40-4-44-2-40 1-40 4-35 5-27 6-19 5-9 5-6 7-7 10-6 4-1 3 2 4 7 4 13 15 49 7 37 5 33 4 40 1 44-2 30-4 33-3 12-3 9-6 9-5 5-7 2-7-1-9-4-5-4-3-8-11-36-10-35-7-35-5-42-2-52 0-44 4-40 5-30 3-12 6-13 5-9 7-7 9-7 8-4 4 1 4 6 11 37 11 41 8 44 4 37 2 42-1 40-4 31-3 11-5 12-5 7-7 4-8 0-14-4-2 1-1 2-3-7-16-14-9-13-5-13-4-12-8-38-4-40-3-48 0-34 1-32 5-39 5-18 5-12 6-6 3-2 6 0 9 4 9 8 10 14 8 15 5 19 15 94 4 40 2 39 0 40-2 36-4 23-4 18-6 16-16 33-4 13-1 15 1 12 1 11 11 38 5 26 4 28 3 30 2 38 0 42-1 45-3 42-8 53-11 44-10 30-7 20-5 7-2 2-2-1-3-3-3-5-11-26-11-31-10-31-7-31-4-25-3-27-2-27-1-26 1-22 3-15 4-9 4-3 5 1 6 3 17 16 4 1 2-3-1-12-14-64-7-40-4-50 0-40 1-19 3-22 2-11 5-12 4-4 5-4 7-1 14 3 2-1 1-4-2-16-13-59-7-45-5-49-1-49 2-49 2-27 4-23 4-18 5-15 4-12 7-14 11-17 6-6 2 0 2 1 4 7 14 38 10 37 8 39 5 41 2 46 0 32-3 26-4 18-6 10-4 3-4 0-4 0-6-3-16-14-2 0 0 1 3 14 16 54 5 21 5 27 4 36 2 31 1 35-1 34-2 21-3 28-5 22-5 16-8 14-7 8-11 8-8 3-4-2-4-7-12-39-9-39-8-44-4-38-2-42 2-38 4-30 3-10 3-8 3-5 4-4 3-2 5-1 17 3 2-1 1-4-2-14-14-40-7-28-6-32-4-36-2-43 0-48 3-45 5-37 4-14 5-18 6-12 5-10 10-12 10-11 5-1 3 4 8 17 11 39 8 31 5 24 4 28 3 32 1 33 0 21-3 33-3 12-5 11-4 3-6 2-7-2-12-5-3 0-1 3 1 15 13 57 6 40 5 47 2 48-2 47-4 39-4 19-5 14-4 10-6 10-8 10-9 9-4 2-2-1-4-7-6-16-15-51-6-26-4-24-6-50-1-34 0-23 3-39 3-15 4-16 4-7 6-6 6-2 9 2 8 5 7 7 5 10 20 70 6 33 5 39 3 51 0 45-2 42-5 34-7 25-5 14-5 9-8 11-11 11-6 2-3-2-5-10-9-26-8-31-6-24-8-51-4-52 0-32 1-28 4-21 5-13 5-8 6-2 9 1 14 6 2-1 1-2-3-15-12-45-6-26-5-25-3-31-3-39-1-43 2-43 2-28 3-17 5-21 5-15 5-12 8-13 11-13 6-6 3 0 2 1 5 10 7 22 9 27 7 29 8 50 5 53 0 32-1 29-4 22-5 14-5 8-6 2-9-1-15-8-2 0 0 2 2 15 12 43 6 26 5 24 4 31 2 38 2 43-2 43-3 28-2 17-5 21-5 15-5 12-8 13-11 12-7 5-3 0-1-2-5-9-8-22-8-28-7-28-8-48-4-53-1-32 1-29 3-23 5-15 6-9 3-3 4-1 9 1 14 7 2 0 1-2-3-14-13-42-6-24-4-23-4-31-4-39-1-45 2-45 2-30 3-18 5-21 5-17 6-11 8-13 12-13 6-4 3 0 2 2 5 10 7 23 9 29 7 31 8 51 4 53 0 31-1 19-3 22-5 15-5 8-6 3-4 1-5-1-14-6-2 1-1 2 2 16 12 46 6 28 4 24 3 32 3 37 1 42-2 41-3 27-6 36-5 15-7 15-9 14-11 13-3 3-2 0-4-3-6-14-10-30-13-49-4-24-4-29-3-55 0-32 1-19 4-22 4-15 6-7 4-2 4-1 9 2 15 10 1 0 1-1-3-12-14-43-7-25-7-41-4-38-2-45 1-48 3-42 6-32 4-13 6-13 6-10 5-6 9-7 9-6 3 0 2 1 3 5 6 17 11 36 6 27 6 29 3 26 3 30 2 31 0 30-2 18-3 22-3 11-5 10-3 4-6 3-6 0-14-3-2 2-1 3 2 16 12 52 7 34 5 36 3 45 0 52-2 40-5 42-8 30-9 23-12 19-9 10-3 1-2-2-4-7-5-13-15-47-8-34-5-36-5-44-1-34 1-31 2-16 3-14 5-13 4-4 4-2 4 0 6 1 18 13 2 1 0-2-2-13-12-41-7-25-5-30-4-33-3-40-1-33 1-43 3-30 3-16 4-21 4-10 5-13 5-8 8-9 11-7 3-2 3 0 2 1 2 4 5 12 10 32 7 29 10 49 5 49 1 42-1 29-3 24-4 18-5 11-4 4-3 3-6 1-4 0-16-5-2 1 0 3 3 12 12 30 6 19 5 19 5 27 3 27 3 32 1 37 0 38-2 24-3 33-5 26-6 20-6 14-8 11-13 12-6 5-4 1-4-2-4-7-13-42-11-46-7-43-4-41-1-31 1-29 4-28 5-13 5-7 4-2 5-1 16 3 3-1 0-4-1-16-12-57-5-33-4-36-3-43 0-48 3-35 5-37 7-26 9-22 9-13 8-12 3-2 3 1 5 10 10 28 9 29 6 25 5 23 4 28 3 33 1 35 0 22-2 30-2 16-4 12-3 9-4 5-4 3-6 1-6-2-8-5-7-7-5-7-8-23-15-40-7-27-5-28-4-36-2-34-1-37 1-37 3-33 4-29 8-27 6-14 6-10 8-10 13-11 4-1 2 0 3 4 7 17 10 33 7 27 5 29 4 26 4 30 1 32 0 31-3 33-2 11-5 12-4 5-5 3-7-1-14-3-2 1-1 3 2 16 12 59 6 40 4 38 2 46-1 48-4 42-3 20-4 17-5 13-5 13-7 11-10 13-4 5-3 0-3-3-3-7-14-41-12-43-4-23-4-29-4-55 0-45 3-26 3-14 4-10 3-7 4-4 6-2 6 1 5 2 7 5 6 7 5 6 6 18 14 32 5 18 7 27 5 33 3 31 2 37 0 38-2 38-4 33-5 25-8 24-4 8-6 8-8 7-11 7-5 2-4-1-3-5-4-11-12-41-8-34-7-40-4-39-2-41 1-29 4-28 5-14 3-5 4-4 7-2 16 1 2-2 1-5-2-17-10-52-6-31-4-34-2-33-1-47 1-37 3-33 5-28 6-25 9-20 15-26 4-4 3 0 3 4 4 9 14 41 9 33 6 31 6 40 2 46 0 44-2 19-3 14-3 11-4 7-4 5-4 1-6 0-8-4-7-6-6-7-5-7-1-4 2 4 3 4"/></g></g>
<rect class="sp" x="476.6" y="21.45" width="180.80" height="125.95"/>
<path class="tk" d="M505.34 147.40v2.6M536.12 147.40v2.6M566.90 147.40v2.6M597.68 147.40v2.6M628.46 147.40v2.6M476.60 133.97h-2.6M476.60 117.88h-2.6M476.60 101.79h-2.6M476.60 85.70h-2.6M476.60 69.61h-2.6M476.60 53.52h-2.6M476.60 37.43h-2.6"/>
<text class="l" transform="translate(505.34 158.30) scale(0.88 1)">−200</text>
<text class="l" transform="translate(536.12 158.30) scale(0.88 1)">−100</text>
<text class="l" transform="translate(566.90 158.30) scale(0.88 1)">0</text>
<text class="l" transform="translate(597.68 158.30) scale(0.88 1)">100</text>
<text class="l" transform="translate(628.46 158.30) scale(0.88 1)">200</text>
<text class="r" transform="translate(471.20 136.67) scale(0.88 1)">−150</text>
<text class="r" transform="translate(471.20 120.58) scale(0.88 1)">−100</text>
<text class="r" transform="translate(471.20 104.49) scale(0.88 1)">−50</text>
<text class="r" transform="translate(471.20 88.40) scale(0.88 1)">0</text>
<text class="r" transform="translate(471.20 72.31) scale(0.88 1)">50</text>
<text class="r" transform="translate(471.20 56.22) scale(0.88 1)">100</text>
<text class="r" transform="translate(471.20 40.13) scale(0.88 1)">150</text>
<text class="l" transform="translate(567.00 168.00) scale(0.92 1)">x</text>
<text class="l" transform="translate(448.80 84.42) rotate(-90) scale(1 0.92)">w</text>
<text class="t" transform="translate(567.00 16.85) scale(0.92 1)">Projection onto the xw plane</text>
<clipPath id="k3"><rect x="45.6" y="190.5" width="182.0" height="125.80000000000001"/></clipPath>
<path class="g" d="M50.24 190.50V316.30M92.12 190.50V316.30M134.00 190.50V316.30M175.88 190.50V316.30M217.76 190.50V316.30M45.60 305.50H227.60M45.60 283.66H227.60M45.60 261.82H227.60M45.60 239.98H227.60M45.60 218.14H227.60M45.60 196.30H227.60"/>
<g clip-path="url(#k3)" filter="url(#sh)"><g class="c" transform="scale(0.1)" style="stroke-width:3.8"><path d="M1361 3033l28 1 33-2 40-6 31-7 39-12 31-11 34-16 39-21 42-28 22-17 23-20 23-22 23-25 24-28 22-32 22-35 19-38 18-42 15-45 11-49 7-50 2-53-3-54-9-53-15-53-21-51-26-48-32-43-35-38-39-32-40-27-42-19-41-14-40-7-38-2-36 2-32 7-29 10-26 12-21 14-19 15-15 16-12 17-10 17-7 16-5 16-3 16-2 16-1 15 2 28 7 41 19 88 4 35 1 33-1 22-3 20-7 29-7 18-9 16-16 22-18 17-15 9-15 7-8 3-17 3-18 1-9-1-19-4-18-7-18-11-17-14-16-17-13-21-10-23-6-25-3-26 2-25 6-25 5-12 11-21 7-9 16-15 9-6 17-9 18-4 17 1 8 1 15 6 13 9 10 11 9 13 6 14 5 15 4 23 2 24-1 24-2 32-4 31-9 50-10 52-9 41-9 30-7 19-8 16-9 15-8 10-12 11-10 6-13 5-14 2-16 1-12-1-20-5-14-5-16-8-16-9-18-12-18-15-28-29-18-23-9-13-17-29-7-16-14-34-10-37-6-39-2-40 1-20 2-20 3-19 5-19 5-19 7-17 8-16 8-15 9-14 10-12 10-11 11-9 10-7 11-6 10-5 10-2 9-2 9 0 9 2 7 3 8 3 6 5 11 13 8 17 3 9 5 21 6 36 11 96 8 45 8 31 10 31 7 15 14 30 18 30 22 28 26 26 14 12 16 11 17 11 18 9 20 9 21 6 22 6 23 3 25 2 26-1 26-4 28-6 28-9 28-13 28-16 28-21 26-24 24-29 22-32 19-37 14-40 10-42 3-45-2-46-10-45-16-44-22-40-28-36-34-31-37-24-41-18-41-9-41-3-40 4-38 11-34 16-31 20-26 23-23 26-17 27-14 28-10 28-7 28-4 27-1 26 1 25 3 24 5 22 6 21 8 19 8 19 9 17 10 15 11 15 23 26 25 22 27 17 28 14 15 5 15 4 16 3 16 2 17 0 16-1 17-2 18-4 17-6 17-7 17-9 17-11 17-13 15-14 15-17 13-18 12-21 11-22 8-23 6-24 4-26 1-26-2-26-4-26-8-25-10-24-13-22-15-20-17-18-19-15-20-12-21-9-21-6-21-3-20-1-20 3-19 4-17 7-16 8-14 10-13 11-11 12-10 13-8 13-7 14-5 13-8 27-4 27-1 25 2 36 6 33 10 40 15 44 18 38 16 27 19 23 10 11 11 9 19 11 21 9 23 5 27 0 19-2 9-3 21-7 21-10 22-13 21-18 21-21 20-26 17-30 7-17 6-17 6-18 4-19 3-19 1-19 0-20-1-20-3-19-5-19-6-19-7-17-8-16-10-15-10-14-12-12-12-11-12-9-13-7-12-6-13-4-12-2-12-1-11 1-10 1-10 4-9 4-16 11-13 14-10 16-7 18-6 20-5 30-9 107-4 32-4 21-8 31-7 20-13 29-11 18-19 26-16 15-17 14-20 12-22 10-24 8-27 4-29 0-32-4-16-5-17-5-17-8-17-9-18-11-17-12-16-15-16-17-15-19-14-21-12-22-11-25-9-26-6-28-3-28-1-29 3-30 5-29 9-28 12-27 15-25 17-23 19-20 21-17 23-13 23-11 24-7 23-3 23-1 22 2 20 5 19 7 18 9 16 10 13 12 13 12 10 13 9 14 8 14 11 28 7 28 4 27 1 37-2 35-7 62-19 116-9 54-9 35-9 26-9 19-11 17-10 12-16 14-15 8-18 7-21 4-17 2-18-1-20-2-22-5-24-7-13-5-27-13-15-8-29-21-16-12-30-29-15-17-15-19-14-20-13-23-13-24-11-26-9-28-8-29-5-30-3-32-1-32 2-32 5-32 8-32 11-30 13-29 16-27 18-24 19-22 21-19 22-16 23-13 22-9 22-7 22-3 20-1 19 1 18 3 16 6 14 7 13 8 11 9 10 10 8 11 7 12 6 12 8 24 5 25 2 26 1 114 1 25 3 24 4 23 5 23 7 21 9 21 17 29 14 17 16 16 17 13 20 11 22 8 24 5 26 0 27-3 14-4 14-5 14-6 14-8 14-9 13-11 13-12 13-14 11-15 10-17 9-18 8-19 6-21 3-21 2-22 0-22-2-22-5-21-7-21-9-20-11-18-12-17-14-15-16-13-16-10-17-8-17-6-17-3-17-1-17 1-15 3-15 4-13 6-13 8-11 8-10 9-9 11-8 10-6 11-10 23-7 23-3 23-2 23 1 32 4 30 5 28 9 35 12 40 10 28 12 26 10 18 12 16 12 14 14 12 16 11 18 7 20 5 15 1 16-1 17-3 28-9 20-9 9-6 21-14 10-8 20-20 9-11 19-26 16-29 14-33 9-35 3-19 2-19 1-19-1-19-2-20-3-18-5-19-6-17-7-17-8-15-9-15-10-13-11-11-11-10-11-9-12-6-11-6-12-4-11-2-10-1-10 1-10 2-8 3-16 8-13 13-5 7-9 16-6 18-5 20-5 32-9 91-5 35-5 24-6 23-8 23-10 22-11 22-14 21-8 10-17 18-20 18-22 15-26 12-29 9-15 4-16 2-17 0-18 0-18-2-19-4-20-5-19-7-20-10-20-11-20-14-19-17-18-19-18-21-15-24-14-26-11-29-9-30-5-32-2-32 2-34 6-33 10-32 13-30 17-28 21-26 23-22 26-18 26-14 28-10 28-5 28-2 26 3 25 5 23 9 22 11 19 13 16 14 15 16 12 16 10 17 9 18 6 17 5 17 6 33 2 31-1 29-5 40-9 36-13 42-8 19-12 26-18 32-14 21-11 13-12 12-19 15-22 13-25 9-28 5-21 1-11-1-23-4-12-3-25-9-25-14-13-8-26-21-13-13-12-13-12-15-11-17-10-18-9-19-8-20-6-21-5-22-4-23-1-24 0-23 3-24 4-23 7-23 8-21 11-21 11-19 14-17 14-15 16-13 16-11 16-8 17-7 16-4 16-3 15 0 15 1 14 3 12 5 12 5 11 7 9 8 8 8 8 9 12 20 8 21 6 21 4 22 3 22 4 96 5 50 6 28 4 18 6 18 7 17 12 24 10 14 18 21 14 12 15 10 17 9 19 7 20 4 23 2 24-2 26-5 27-9 28-14 14-9 13-11 14-12 13-14 13-15 12-16 11-18 10-20 8-20 7-22 5-23 3-24 2-24-1-25-4-24-5-24-8-23-10-21-12-21-13-18-15-17-17-14-17-12-18-10-18-7-18-5-17-2-17-1-17 2-15 4-14 5-13 6-12 7-11 9-9 9-16 21-11 21-4 12-7 22-4 23-3 33-1 32 0 88-1 27-3 26-3 24-6 23-6 22-9 20-10 19-13 17-15 16-18 13-21 10-16 5-26 5-20 0-22-2-11-2-24-7-26-11-13-7-26-17-27-23-13-13-13-15-12-16-11-18-11-19-9-20-9-22-6-23-6-24-3-24-1-25 0-26 3-25 5-25 7-24 10-24 11-21 13-21 14-18 16-16 16-14 18-12 17-9 18-7 17-4 17-3 16 0 16 2 14 3 13 5 12 6 11 7 10 8 8 8 14 20 10 21 7 22 5 22 3 23 5 100 4 43 5 30 5 20 6 19 8 18 13 25 11 16 13 14 14 14 16 11 18 9 19 8 22 5 23 1 25-1 27-6 27-10 28-16 14-10 13-11 14-13 12-14 12-16 11-18 9-18 9-20 7-21 5-22 3-23 1-24-1-23-3-23-6-23-8-22-9-21-12-20-13-17-15-16-16-13-17-11-18-9-17-7-18-4-17-2-17 1-16 2-15 4-13 5-13 7-12 8-10 9-9 9-15 21-11 22-8 22-6 34-2 22-1 32 5 114 0 56-2 30-4 28-6 26-5 18-9 22-9 16-14 19-13 12-16 11-18 9-22 7-17 3-28 0-33-4-24-6-13-5-28-12-29-16-30-22-15-13-15-15-14-17-15-18-14-20-12-21-12-24-11-25-9-27-7-28-5-29-2-30 0-31 2-30 6-31 8-30 10-28 13-27 16-25 17-23 19-20 21-18 21-14 22-12 21-8 21-6 21-2 20-1 18 2 17 4 15 6 14 7 13 8 11 10 9 10 8 10 7 12 6 11 8 25 6 24 2 25 2 24 1 84 2 35 3 22 7 32 6 21 7 19 10 19 16 25 14 15 15 13 8 6 18 10 20 8 22 5 23 2 25-2 25-6 27-11 13-8 13-8 13-10 12-12 12-13 11-14 10-16 9-17 7-18 7-19 4-20 3-20 1-21-1-21-3-21-5-21-6-19-9-19-11-17-12-16-13-14-14-12-16-10-15-8-16-6-16-3-16-2-15 1-14 2-14 3-13 5-11 7-11 7-9 8-9 9-14 20-6 10-8 21-6 22-3 21-2 22 0 30 2 29 6 46 13 88 10 61 9 40 9 31 10 22 9 16 12 14 10 9 13 7 14 6 18 4 20 1 23-3 18-4 20-6 21-8 22-12 12-8 24-17 13-11 26-24 12-14 25-33 11-18 12-20 10-21 9-23 8-24 6-25 5-26 4-27 1-27-1-27-2-28-5-27-7-27-9-25-11-24-13-23-14-21-16-18-16-16-17-14-17-12-18-9-17-6-16-5-16-2-15 0-14 2-13 3-12 5-10 6-9 8-8 8-7 9-6 10-5 10-7 23-4 24-3 26-3 94-2 28-3 28-5 28-7 27-9 26-12 26-14 24-16 23-20 21-23 18-26 15-14 6-15 6-16 4-17 3-17 1-18 0-19-1-19-4-19-5-20-7-19-10-20-12-19-14-18-17-17-19-16-22-14-23-11-27-9-27-6-30-2-30 1-31 4-31 9-30 12-29 16-26 19-24 22-21 24-16 25-13 26-9 27-5 26-1 25 2 24 6 22 9 20 11 18 14 16 15 13 15 11 17 10 17 7 18 6 17 4 17 4 34 0 16-3 30-5 28-7 26-9 24-16 31-11 19-19 25-22 22-15 12-25 15-19 7-19 5-21 3-21 0-23-4-23-7-12-5-24-14-12-8-22-20-11-12-10-13-9-14-8-15-8-17-6-17-5-17-4-19-2-19-1-19 1-19 2-20 5-18 6-18 7-17 9-16 10-15 11-13 12-12 13-10 13-8 13-7 14-5 13-3 13-1 13 0 12 2 12 3 10 4 10 5 17 13 7 8 12 16 9 19 10 28 3 20 3 30 1 29 1 93 3 51 5 32 5 23 10 28 9 20 16 25 15 17 17 15 21 12 25 10 19 5 21 2 11 1 24-2 26-4 14-4 29-10 15-7 31-19 16-11 16-13 15-15 15-16 15-19 14-20 13-22 11-23 10-26 9-27 6-28 3-29 1-30-1-30-4-31-8-29-10-29-12-27-16-25-17-23-19-20-21-17-22-15-22-11-22-8-22-5-22-3-20 1-19 2-18 5-17 6-15 8-13 9-12 10-10 11-9 12-13 24-10 24-6 25-3 24-2 24-2 89-3 41-4 29-3 18-5 17-6 17-11 23-8 14-10 14-11 12-13 10-13 9-16 8-16 5-18 4-10 0-20 0-21-4-22-7-22-10-23-15-22-19-20-24-18-28-8-15-7-16-5-18-5-18-3-18-2-19 0-19 1-19 3-19 5-19 6-17 7-17 9-16 10-14 11-13 12-12 12-9 13-9 13-6 13-5 13-3 13-1 12 0 12 2 11 2 10 4 18 11 15 14 11 16 9 18 9 28 4 20 3 30 4 106 2 28 4 27 5 25 7 25 9 23 11 23 14 20 17 19 20 16 24 14 18 7 10 3 21 4 23 2 13 0 26-4 29-7 14-5 31-15 16-9 15-11 16-13 15-14 15-16 14-18 14-20 12-21 11-23 9-25 8-26 5-27 3-29 0-28-2-29-5-29-8-28-11-26-13-25-15-24-18-20-19-19-20-15-22-12-21-10-22-6-21-4-21 0-19 1-19 4-17 5-15 8-14 8-13 10-11 10-9 12-9 11-13 25-8 24-6 25-3 24-2 23-1 96-3 48-4 26-3 17-9 31-9 22-12 19-13 18-11 10-18 14-14 7-14 5-17 4-27 2-19-1-11-2-21-7-11-4-23-11-23-16-11-9-22-22-20-27-10-15-8-16-8-17-6-18-6-19-4-19-3-20-1-21 1-20 2-21 3-20 6-20 7-18 8-18 10-17 10-15 12-13 13-12 13-10 13-9 14-6 14-5 13-3 13-2 12 1 12 1 11 3 10 4 10 5 16 13 7 8 11 16 9 19 6 19 4 21 3 20 7 105 7 51 7 29 5 19 7 18 8 18 15 24 12 16 21 21 16 12 19 10 20 9 23 6 24 3 27 0 29-5 30-9 16-7 16-8 16-10 16-11 15-13 15-15 14-17 14-19 12-20 11-22 9-24 8-25 5-26 2-27 0-28-2-27-6-27-8-27-11-25-13-23-16-22-17-19-19-16-21-14-21-11-21-7-21-5-21-2-20 1-19 3-18 5-17 7-14 8-14 10-12 10-10 12-9 12-15 24-9 26-4 13-5 24-2 25-1 34 6 119 0 58-2 30-3 20-5 26-5 19-8 22-7 16-13 18-11 13-14 11-16 9-19 7-14 3-16 2-17 0-30-4-22-6-11-4-25-11-13-7-26-16-14-11-27-24-27-30-12-17-13-19-11-20-11-22-9-24-8-24-6-26-5-27-2-27 0-28 1-28 5-28 6-27 9-26 11-25 13-24 15-21 16-20 17-17 18-14 19-12 19-9 18-7 19-4 17-2 17 0 15 2 15 3 13 6 11 6 11 8 9 8 8 10 7 10 10 21 7 23 4 24 3 25 3 99 5 48 7 36 7 22 8 22 10 21 12 20 7 9 15 17 17 16 20 13 22 11 24 8 26 4 29 0 15-2 15-3 16-5 15-6 16-8 16-9 15-12 15-12 14-15 13-17 12-18 11-20 9-21 7-23 5-24 3-24 0-25-2-25-6-25-7-24-11-22-12-21-15-20-17-16-18-14-19-12-19-9-21-5-19-3-20-1-19 2-17 4-17 6-15 8-14 9-12 11-11 11-10 12-8 12-12 26-8 26-4 25-2 25 1 35 4 33 6 30 10 36 11 33 12 31 14 27 15 24 14 15 14 14 17 12 19 9 14 4 24 4 17 0 28-5 20-6 10-4 21-11 11-7 22-17 21-20 11-12 19-27 17-31 8-17 6-18 5-19 5-19 2-20 2-20 0-21-2-20-3-20-5-20-6-19-7-18-9-17-10-15-10-15-12-12-12-11-13-10-13-7-13-6-12-4-13-3-11-1-12 1-11 2-9 3-10 4-8 5-14 13-6 7-10 17-4 9-6 19-5 21-3 21-8 100-7 45-8 33-7 21-8 21-10 20-18 29-15 17-17 16-19 15-22 12-25 9-27 7-29 2-16 0-16-2-17-3-17-5-18-6-18-8-18-10-17-12-18-14-17-15-16-19-15-20-13-22-12-24-10-27-7-27-4-29-2-30 2-30 5-29 8-29 11-28 15-26 17-24 20-20 22-18 23-14 24-11 25-7 24-4 24-1 22 3 22 5 19 8 18 9 17 12 14 12 13 13 10 15 9 14 8 15 6 15 9 29 4 29 2 27-1 38-6 45-8 41-14 53-15 47-11 27-13 25-14 23-13 15-15 13-17 11-20 9-24 6-26 2-31-3-22-5-12-4-24-11-26-14-26-19-26-25-13-14-12-15-12-17-11-19-10-20-10-21-7-22-7-24-5-24-3-25-1-26 2-26 3-26 5-25 8-24 9-24 11-22 13-20 15-19 16-16 16-14 17-12 18-9 17-7 18-5 16-3 16 0 15 1 14 3 13 5 12 6 10 7 10 7 8 9 7 9 11 21 8 21 6 23 3 23 2 23 5 93 5 45 7 33 7 20 12 30 10 19 19 25 15 15 17 14 9 6 20 10 22 8 25 5 26 1 28-4 29-8 15-6 15-7 15-10 15-10 14-13 14-14 13-15 12-18 11-19 10-20 7-22 6-23 4-24 2-24-1-25-3-24-6-24-9-23-10-22-13-21-15-18-16-16-17-13-19-11-19-9-19-5-19-4-19 0-18 1-17 4-16 5-14 8-14 8-11 9-11 11-9 11-15 23-6 12-8 25-5 24-3 24 0 34 2 32 4 39 11 62 11 61 10 40 10 36 11 26 11 19 13 17 16 14 14 8 17 7 20 4 23 1 27-3 19-4 22-8 23-10 12-7 25-16 12-9 26-23 13-14 25-31 12-18 12-19 10-21 9-22 9-23 7-24 5-25 3-27 2-26-1-28-2-27-5-26-7-26-9-26-10-23-13-23-14-20-16-18-16-16-17-14-18-11-17-9-18-6-17-4-16-2-15 0-14 2-14 3-12 5-10 7-10 7-8 8-7 9-12 20-4 11-6 23-5 36-5 102-5 52-5 25-6 25-13 36-11 22-14 22-15 20-19 18-21 15-23 13-27 10-14 4-15 2-16 1-16 0-16-2-17-3-17-5-18-6-18-8-17-11-17-12-17-15-16-16-14-19-14-20-11-23-10-24-7-26-4-27-2-27 1-28 5-28 8-27 11-26 13-24 17-22 19-19 20-16 22-13 23-9 23-6 23-3 23 1 21 3 20 6 19 8 17 10 15 11 13 13 12 14 10 14 8 15 7 15 5 15 7 29 3 29 0 27-3 25-7 36-9 31-15 38-18 33-14 22-11 13-11 13-18 16-21 13-23 9-25 6-19 1-10-1-20-3-10-2-22-8-22-11-22-15-22-19-20-23-19-28-8-16-7-16-6-17-5-18-4-19-2-19-1-19 0-19 3-20 3-19 5-18 7-18 8-16 9-16 10-14 11-13 12-11 13-9 12-8 13-6 13-4 12-3 13-1 11 0 12 2 10 2 10 4 17 11 14 14 11 16 8 18 6 19 4 19 3 20 8 112 6 49 7 28 8 28 12 25 9 17 16 23 20 20 24 18 19 10 20 8 11 3 24 4 26 1 29-3 30-8 15-5 16-7 16-9 16-10 16-12 16-14 15-15 15-17 14-20 12-21 11-23 10-24 7-26 5-27 3-28 0-28-3-28-5-28-9-28-11-26-14-24-16-22-18-20-20-17-21-14-21-10-22-8-22-5-22-2-20 1-20 3-18 5-17 7-15 8-14 10-12 11-11 11-9 13-14 25-10 25-7 26-3 25-2 24-1 23 4 110 0 43-2 24-3 23-4 21-5 20-9 24-8 17-10 15-12 14-14 12-16 10-19 8-15 3-16 2-17 0-29-3-21-6-11-4-24-11-24-15-13-9-25-21-24-26-23-32-11-18-10-19-9-20-8-22-6-22-5-24-3-24-1-25 0-25 3-24 4-25 6-24 9-23 10-22 11-20 14-19 14-16 15-15 16-12 16-11 17-7 16-6 16-4 15-2 14 1 14 1 13 4 11 5 11 5 9 7 8 8 7 9 12 19 8 21 6 22 3 23 2 23 6 96 4 35 5 23 9 34 8 22 10 21 11 19 14 19 8 9 17 16 19 14 22 11 24 9 26 6 29 1 15-1 16-2 16-4 16-5 17-7 16-9 17-10 16-12 15-14 15-16 14-18 13-20 11-21 9-23 7-25 5-26 2-26 0-27-3-27-7-26-9-25-11-24-15-22-16-20-19-17-20-14-21-12-21-8-22-5-21-2-21 0-20 4-18 5-18 7-15 10-14 10-13 11-11 13-9 13-8 13-12 27-7 28-4 26-1 25 2 36 6 44 9 39 10 35 14 39 15 35 15 25 16 22 15 14 17 12 19 9 21 7 16 2 27 0 20-3 20-6 11-4 23-11 11-6 23-17 12-9 23-23 22-28 10-16 9-17 9-18 7-19 6-20 5-20 4-22 2-22 1-22-2-22-3-23-4-21-7-21-8-20-9-19-11-18-12-16-13-14-13-12-15-10-14-9-14-6-15-5-14-3-13-1-13 1-12 2-11 3-10 5-9 5-9 7-7 7-7 8-10 18-4 10-7 20-4 21-3 22-8 102-6 45-8 33-6 21-8 21-10 20-18 28-14 17-17 15-19 14-21 12-23 9-26 6-14 1-30 0-15-2-16-3-16-4-17-7-17-7-17-10-16-11-17-13-15-15-16-18-13-19-13-21-11-22-9-25-7-25-5-27-1-28 1-28 4-28 7-27 10-26 13-25 15-22 18-21 20-17 21-14 22-11 22-8 23-5 22-2 21 1 20 4 19 6 18 8 15 9 15 11 12 12 11 13 9 13 8 14 12 27 7 28 4 26 2 38-3 35-5 43-12 56-12 49-13 43-10 26-12 23-14 21-12 14-14 13-16 10-19 8-22 6-16 1-18 0-30-4-22-7-12-4-24-12-25-15-26-20-25-26-25-30-12-18-10-19-10-20-9-21-8-23-6-24-4-24-3-26 0-25 1-26 3-26 6-25 8-25 9-23 12-22 13-20 14-18 15-17 17-14 17-11 17-10 17-7 17-5 16-2 16-1 14 1 14 3 13 5 11 5 10 7 9 8 8 8 7 10 11 20 8 21 5 23 3 23 6 108 4 36 3 23 9 34 7 21 9 21 11 20 13 18 7 9 16 16 19 15 10 6 21 11 24 8 27 4 28 1 15-2 15-3 16-4 16-6 16-7 16-9 15-11 16-12 15-15 14-16 13-18 11-20 10-21 9-23 6-24 4-25 1-25-1-26-4-26-6-25-10-24-12-23-14-21-16-18-18-16-19-14-20-10-21-8-21-4-20-2-20 1-19 3-17 5-17 8-15 8-13 10-12 11-10 12-9 13-8 12-11 27-7 26-4 25-2 25 2 35 4 32 7 40 12 44 12 40 14 35 13 25 15 22 13 15 15 13 16 11 20 8 22 5 24 1 19-2 19-4 21-7 22-10 12-6 23-16 11-10 23-22 22-27 20-32 9-17 8-19 6-19 6-21 4-21 3-22 1-22 0-22-2-23-4-22-5-21-7-21-9-20-10-18-11-17-13-15-13-13-14-12-14-9-14-8-15-6-14-4-13-2-13 0-12 1-12 3-10 3-10 5-9 6-15 15-6 8-9 19-4 9-6 21-5 33-8 103-7 47-7 34-7 22-9 21-10 20-19 29-15 18-17 16-20 14-22 12-25 9-28 5-14 2-15 0-16-1-17-2-16-4-17-6-18-7-17-9-17-10-17-13-17-15-16-16-15-19-13-21-12-23-10-24-8-26-5-28-3-28 1-28 3-29 7-28 10-27 13-26 15-23 18-21 21-18 21-15 23-12 23-8 24-5 23-2 22 1 21 4 20 7 18 8 16 10 15 12 13 12 11 14 9 14 8 14 7 14 5 15 7 28 4 28 0 26-2 37-5 33-8 41-13 45-14 40-12 29-10 19-15 24-13 16-16 14-17 11-20 9-23 6-26 2-30-2-21-6-12-3-23-11-24-14-25-18-24-24-24-28-11-16-10-18-9-18-9-20-7-21-5-22-5-23-2-23-1-24 1-24 3-23 5-24 7-22 9-22 10-20 12-19 13-17 14-15 15-13 15-11 16-9 16-7 16-4 15-3 14-1 14 1 13 3 12 3 11 6 10 6 9 7 14 16 12 19 8 21 5 21 4 22 3 34 5 80 3 34 4 22 8 32 7 20 13 30 11 18 20 25 16 15 17 14 10 5 21 11 23 7 25 4 28 1 29-5 16-4 15-5 16-7 16-8 15-10 16-12 15-14 14-15 14-17 12-19 11-21 10-22 7-23 6-25 3-25 1-26-2-27-5-25-8-26-10-24-12-22-15-21-16-18-19-16-19-13-20-10-21-7-21-5-20-1-20 1-18 3-18 5-16 7-14 9-13 9-12 11-10 12-9 12-8 12-11 26-8 26-4 25-2 24 0 34 4 43 7 48 12 67 13 57 10 38 12 33 11 19 13 18 15 15 14 9 17 8 19 5 23 2 27-1 19-4 22-6 23-9 12-6 26-15 13-9 26-22 27-27 13-16 13-17 12-18 12-21 10-21 9-23 8-25 7-25 5-27 2-27 1-28-1-28-4-28-6-27-9-27-10-25-12-24-15-22-15-20-17-17-18-16-18-12-19-10-18-7-18-5-18-3-16-1-16 2-14 3-13 5-12 6-10 7-10 8-8 9-6 10-6 11-5 10-7 23-4 24-3 25-4 101-5 51-4 24-7 24-7 23-10 23-12 21-7 10-15 19-18 17-20 14-23 13-25 9-27 5-15 1-15-1-16-1-16-3-16-4-17-7-16-7-17-10-16-11-16-14-15-15-14-17-12-19-12-21-9-23-7-23-6-25-2-26 0-27 3-26 6-25 9-25 12-24 14-21 16-20 18-16 20-14 21-11 21-8 21-4 22-2 20 1 20 3 18 6 17 8 15 9 14 11 12 12 11 13 9 13 7 14 6 13 9 28 5 27 2 27-1 24-3 24-6 33-8 30-10 27-14 33-12 23-13 20-14 18-16 16-18 14-13 7-22 9-16 3-26 2-19-2-20-5-10-3-21-9-21-13-22-16-21-20-20-25-17-29-14-33-6-17-4-18-4-19-1-19-1-20 1-19 3-19 3-19 6-18 7-18 8-16 9-15 10-14 11-13 12-11 12-9 12-7 13-6 12-5 12-2 12-2 11 1 11 1 10 3 9 4 9 5 14 12 12 15 9 16 7 19 5 19 3 20 10 116 4 31 4 21 8 30 11 29 13 27 11 17 20 24 16 15 18 13 9 5 21 10 24 8 26 4 28 1 30-3 16-4 17-5 17-6 16-8 17-10 17-12 17-13 16-16 16-17 14-20 13-21 12-23 10-25 8-27 5-28 2-28 0-29-3-30-7-28-9-28-13-27-15-24-18-22-19-19-22-16-22-13-23-10-23-6-23-4-23 0-21 3-20 5-19 7-16 8-16 11-13 11-12 12-10 13-9 14-13 27-9 28-5 26-3 26 0 25 0 23 4 43 14 131 4 56 5 131 4 34 4 24 5 17 7 16 10 12 12 10 14 7 18 5 24 3 22 1 27-3 33-6 26-7 28-11 32-14 17-10 36-22 19-14 19-16 19-18 20-20 20-23 19-25 18-27 17-31 16-33 14-36 11-38 8-40 6-42 1-43-3-44-7-44-12-43-16-42-20-39-24-36-27-32-29-28-31-23-33-19-32-14-33-9-31-5-29-1-27 3-25 6-23 7-19 10-18 12-14 13-13 13-10 14-8 14-6 15-5 14-3 15-3 28 0 28 1 27 9 78 2 49-1 24-2 23-4 21-6 21-8 20-9 18-11 16-13 15-15 13-16 11-18 8-19 5-20 2-11 0-22-3-22-7-22-11-21-15-20-20-8-12-8-13-7-13-6-14-5-15-4-16-2-16-1-16 1-17 2-16 3-16 5-15 7-14 7-14 9-12 10-11 10-10 12-8 11-6 12-6 12-3 12-2 12 0 11 0 11 3 10 3 9 4 9 6 15 13 7 7 10 16 5 9 6 17 5 19 2 18 1 18-1 27-3 26-5 34-7 31-9 36-11 32-9 24-11 21-9 15-10 13-11 11-12 10-14 8-16 5-11 2-12 1-14-1-14-2-15-4-16-6-16-9-26-18-26-24-16-20-16-23-7-13-14-27-10-30-4-16-6-33-2-34 2-34 7-32 10-30 14-26 16-22 8-9 18-14 9-5 17-7 9-1 15 1 14 5 11 9 5 6 9 14 6 16 5 18 6 31 12 96 8 39 7 26 8 26 11 26 13 25 16 25 18 24 22 22 25 20 30 18 16 7 17 7 18 5 19 4 21 3 21 1 23-1 23-2 24-6 24-7 25-10 25-14 25-16 24-20 24-23 21-26 19-30 17-33 13-37 8-38 5-40-2-42-6-41-12-40-18-38-23-35-27-31-32-26-34-20-36-14-37-8-36-2-35 4-33 8-30 13-28 16-24 20-20 21-17 22-14 23-11 24-8 23-6 23-3 23-2 22 0 20 1 20 6 37 9 33 12 30 13 27 14 23 16 22 26 28 18 15 10 7 20 13 22 10 24 7 25 5 27 0 28-3 30-8 15-6 15-7 15-9 15-10 14-12 15-14 13-15 13-17 11-18 11-20 9-21 7-23 5-23 3-25 0-25-1-24-4-25-7-24-9-23-11-22-13-20-16-18-16-15-18-14-18-10-19-8-20-6-18-3-19 0-17 2-17 3-15 6-15 6-12 9-12 9-10 10-9 11-15 22-5 12-9 24-3 12-4 24-2 34 0 32 10 130 2 68-1 33-3 31-4 28-5 20-6 19-7 18-10 16-13 15-16 12-15 8-18 6-21 4-16 1-19 0-20-2-23-5-25-7-14-5-28-14-15-8-32-20-16-13-17-14-16-16-17-18-16-19-15-22-15-24-14-26-12-28-11-29-8-32-7-33-3-34-1-35 2-35 6-35 8-34 12-34 15-31 18-30 20-26 22-24 24-20 25-16 25-14 25-9 24-6 24-3 22-1 21 3 19 4 18 7 15 8 14 10 11 10 10 11 9 12 7 13 5 12 8 26 4 27 2 26-2 102 2 48 5 35 5 22 6 21 9 20 16 28 13 16 14 15 17 13 18 10 21 8 22 4 24 1 24-3 26-8 26-12 12-8 13-10 12-11 11-12 10-14 10-15 9-16 7-17 6-18 4-19 3-19 0-20-1-20-3-20-5-19-6-18-9-17-10-16-12-15-12-13-14-11-15-9-15-7-15-4-15-3-15-1-14 0-14 3-12 4-12 5-11 6-10 8-9 8-8 9-13 19-6 10-7 21-5 21-3 21-1 31 2 30 4 27 6 35 10 40 11 37 12 32 10 23 13 21 10 14 12 13 14 10 15 8 17 6 20 3 14 0 16-2 16-4 27-10 29-16 19-14 10-9 20-20 9-12 18-25 16-30 7-16 12-34 8-37 2-19 1-19-1-20-1-19-3-19-4-18-6-18-7-17-7-16-9-15-10-13-10-12-10-11-11-9-12-7-11-6-11-5-10-3-11-1-10 0-9 1-9 3-8 3-7 5-13 11-5 7-9 17-6 18-5 20-4 32-11 97-4 25-5 25-7 25-8 25-17 36-14 23-17 22-19 20-23 18-25 16-29 13-16 6-17 3-18 3-18 2-19 0-20-2-21-4-21-5-22-8-22-11-21-12-22-16-21-18-19-21-18-24-17-26-14-29-11-32-7-33-4-35 0-36 5-36 9-35 14-33 18-32 22-28 25-24 28-20 29-15 31-11 31-5 30-1 29 3 28 7 25 11 23 13 21 16 17 17 15 18 13 19 10 20 8 19 6 19 4 19 3 19 1 18 0 34-4 31-7 29-12 38-15 34-17 30-18 26-20 23-22 19-25 16-19 8-19 7-22 3-22 1-24-2-26-5-26-10-27-15-13-10-13-10-13-12-13-14-11-14-11-17-10-17-9-19-8-20-6-21-5-22-2-22-1-23 1-23 4-23 5-22 8-22 9-20 11-19 13-17 14-16 15-13 16-12 17-9 16-6 17-5 16-2 16-1 15 1 14 3 14 5 12 6 11 7 10 7 9 9 15 19 11 20 4 11 7 22 4 21 3 33 1 31 1 88 1 27 3 26 4 25 6 23 7 22 10 21 11 19 14 18 16 15 19 13 23 11 17 5 29 3 21 0 24-4 12-2 26-9 27-13 13-8 28-21 14-12 14-14 13-15 12-17 12-19 11-19 9-22 9-22 6-24 5-25 3-25 1-27-2-26-3-26-6-25-9-25-10-23-13-22-14-20-16-18-16-16-18-13-19-11-18-8-19-6-18-3-17-1-17 1-15 2-15 5-13 6-12 7-11 8-9 9-9 9-13 21-10 22-6 23-4 22-3 23-4 99-4 41-5 30-4 19-6 18-7 17-12 24-10 15-11 14-13 13-15 11-16 9-18 8-19 5-21 3-11 0-24-2-25-5-26-10-26-15-26-20-12-12-12-13-12-15-10-16-10-17-8-19-7-20-6-20-4-22-2-22 0-22 1-23 4-22 6-21 8-21 9-20 12-18 13-16 14-15 15-12 15-11 17-8 16-6 16-4 16-1 16 0 14 1 14 4 13 5 11 6 11 7 10 8 8 8 15 19 10 21 4 11 6 21 4 21 3 32 1 31 0 96 3 51 5 32 5 22 7 21 9 20 14 24 14 17 16 14 19 13 22 9 17 5 29 3 21-1 24-3 12-3 26-8 27-13 14-8 29-21 14-12 15-14 13-15 14-17 12-19 12-20 11-22 9-23 8-25 5-26 4-26 2-27-1-28-3-28-5-27-8-26-10-26-13-23-14-22-17-20-17-18-19-14-19-13-20-9-19-7-19-4-19-2-18 0-17 3-15 4-14 5-13 7-12 8-10 9-9 10-14 21-10 23-7 23-5 24-2 23-4 101-4 42-7 40-6 19-6 18-13 25-10 16-11 14-13 13-15 11-16 10-18 8-19 5-22 3-22 0-24-4-26-8-25-13-26-17-12-11-12-12-12-13-11-15-10-16-9-17-7-19-7-19-5-21-3-20-1-22 1-21 2-22 4-21 7-20 8-20 10-18 12-17 12-15 14-13 15-11 16-9 15-7 16-5 16-3 15-1 14 1 14 2 13 4 12 5 11 6 10 8 17 17 13 19 10 20 4 10 5 22 5 31 2 31-3 114 1 34 2 24 3 31 6 28 8 27 8 18 13 23 12 16 9 10 11 9 18 11 21 9 26 7 29 2 22-2 24-4 13-3 27-10 15-6 29-17 15-10 15-12 15-13 15-15 15-17 14-18 14-20 12-22 11-24 10-25 8-26 6-28 4-29 2-30-2-30-3-30-7-29-9-29-12-27-14-25-16-24-18-21-20-18-21-15-21-12-21-10-22-6-21-4-20-1-19 1-17 3-16 5-15 7-14 8-11 9-11 10-9 11-7 11-7 11-9 24-6 24-4 25-2 24-2 92-4 43-3 21-4 20-5 19-7 18-8 17-9 17-11 15-13 13-14 13-15 10-18 8-18 6-21 4-11 1-22-2-24-4-24-9-25-14-24-18-12-11-11-13-10-13-10-15-9-16-7-17-7-18-5-19-3-20-2-20 0-20 2-20 3-20 6-19 7-19 9-17 10-16 11-15 13-13 14-11 14-9 14-8 15-5 15-4 14-1 14 0 13 2 13 3 11 4 11 6 10 6 9 8 15 16 6 9 10 20 7 20 7 30 2 21 1 30-4 127 1 55 3 29 5 27 6 26 9 24 12 22 14 20 9 9 10 8 18 12 13 6 15 5 26 6 30 1 23-1 25-5 14-4 28-10 15-6 31-18 17-10 16-13 16-14 16-16 16-18 16-19 14-22 14-24 12-25 11-27 9-29 7-31 4-32 2-32-2-33-4-33-8-32-10-31-14-30-16-28-19-25-21-22-22-20-23-16-24-12-24-10-24-6-23-3-22 0-20 3-19 4-18 7-15 8-14 9-12 10-11 11-9 12-8 12-6 13-9 25-6 26-3 25-1 24 0 82-3 44-6 40-5 20-6 18-7 17-9 16-10 15-12 14-13 12-15 10-16 8-17 7-19 3-21 1-21-2-22-6-23-10-23-14-22-18-10-11-19-25-8-15-7-15-7-16-5-17-4-17-2-18-1-18 1-18 2-19 4-17 5-18 7-16 8-15 9-15 11-12 11-12 12-9 13-8 13-7 13-4 13-3 12-2 12 0 12 2 11 3 11 4 9 4 17 13 13 15 11 17 8 18 7 29 4 29 1 28-3 125 1 32 2 31 4 29 6 27 8 25 10 24 10 17 8 10 9 10 10 9 11 9 12 8 22 10 26 7 31 3 23-1 12-1 27-5 29-9 16-6 32-16 16-10 17-12 17-13 17-16 17-17 16-19 16-22 15-23 13-26 12-27 10-29 7-31 5-32 3-34-1-33-4-34-7-34-10-32-14-31-17-29-19-26-21-24-23-20-25-17-25-13-25-9-25-6-24-3-23 0-22 2-20 5-18 7-17 9-14 10-13 11-11 11-10 13-8 13-6 12-10 27-6 26-3 25-1 25-1 80-1 42-5 40-5 18-5 17-6 17-8 15-9 15-10 13-11 12-13 10-14 9-16 7-16 4-9 2-19 1-19-2-21-5-20-8-21-12-21-16-19-19-17-24-8-14-13-29-5-15-3-17-3-16-1-17 0-17 1-17 3-17 5-16 5-15 7-15 8-14 9-13 9-11 11-10 11-8 11-7 11-6 12-4 11-2 12-1 10 0 11 1 9 3 9 3 17 10 13 13 11 14 8 17 8 26 4 19 3 28 3 119 3 35 3 25 6 32 7 22 12 29 12 20 9 13 10 12 18 17 22 14 25 12 20 5 11 2 22 3 26 0 13-2 29-5 31-10 16-7 16-9 17-10 16-11 17-13 17-16 16-17 16-19 14-21 14-23 12-25 11-27 8-28 6-30 3-31 1-31-2-32-6-32-9-31-12-29-14-28-18-25-19-23-22-20-23-17-23-13-25-10-24-6-23-4-23 0-21 2-20 5-19 6-16 9-15 9-14 11-11 12-10 12-9 13-7 13-10 26-7 26-4 25-2 24-1 35 0 65-2 38-3 28-3 17-9 32-9 22-7 13-13 18-10 11-17 15-12 7-14 7-15 4-25 3-18 0-9-2-20-4-10-4-21-9-20-13-11-8-20-19-19-22-17-27-14-30-5-17-5-17-3-17-2-18-1-18 1-18 1-18 4-18 4-17 6-16 8-16 8-14 9-14 10-12 11-10 11-9 12-8 11-6 12-4 11-3 12-2 10 0 11 1 9 3 9 3 9 4 14 11 7 7 10 15 8 17 6 18 4 18 3 20 9 111 8 50 6 28 6 19 11 27 9 17 17 25 13 15 22 20 18 12 20 10 22 8 25 5 27 2 29-2 31-6 17-6 16-6 17-9 17-10 17-12 17-13 16-16 16-18 15-19 13-22 12-24 11-25 8-27 5-28 4-29 0-30-3-30-6-30-9-28-12-28-15-25-18-23-20-20-21-18-23-14-23-11-24-7-23-4-23-1-22 1-20 5-20 6-17 8-16 10-14 11-12 12-11 13-9 13-8 14-12 27-4 14-6 27-3 25-1 37 1 33 7 98 1 56-2 30-3 27-4 25-4 17-8 22-7 14-11 18-10 12-12 11-14 9-16 7-13 3-14 3-15 0-17 0-19-3-32-9-23-10-12-6-25-15-13-10-27-22-26-28-13-15-13-18-12-19-11-20-10-22-9-23-8-25-6-25-4-27-2-27-1-28 2-28 4-27 6-28 9-26 10-25 13-23 14-22 16-19 17-17 17-15 18-12 19-10 18-7 17-5 18-2 16-1 15 2 14 3 13 5 11 6 10 7 9 9 8 9 7 9 5 11 9 22 5 24 3 24 5 115 2 25 4 26 8 37 7 24 9 23 12 22 14 20 7 10 18 18 20 16 22 13 25 11 28 6 14 2 16 0 16-1 16-2 16-4 17-5 17-7 17-9 17-11 16-13 16-14 15-17 14-19 12-21 10-22 9-24 6-25 3-27 1-26-2-27-5-27-9-26-11-24-14-23-16-20-18-18-20-15-22-12-22-8-22-6-22-2-21 1-21 3-19 6-17 8-16 9-15 11-13 13-11 13-9 13-8 14-6 15-9 28-3 15-3 27 0 26 2 25 4 23 7 33 10 29 11 27 16 32 14 21 15 19 17 17 18 14 14 8 22 9 17 3 17 2 19-1 20-3 10-3 21-7 11-6 22-13 11-8 21-19 20-23 18-28 15-31 6-17 5-18 4-19 3-18 1-20-1-19-1-19-4-19-5-18-6-18-7-16-9-16-10-14-11-13-11-11-12-10-12-8-13-7-12-4-13-4-12-1-11 0-11 1-11 2-9 4-17 10-14 13-6 7-10 17-7 18-5 19-6 40-7 93-7 51-6 29-6 19-6 18-9 18-14 26-12 16-14 14-15 14-17 12-20 10-21 8-24 6-26 2-29-1-30-6-16-5-17-6-16-8-17-10-16-11-16-13-16-15-16-17-14-19-14-20-12-23-10-24-8-26-6-27-4-28 0-29 2-29 5-28 8-28 11-27 14-25 16-23 18-20 21-18 21-14 22-12 23-8 23-5 22-2 21 1 20 3 19 6 18 7 16 9 14 11 12 11 11 12 10 13 8 13 12 26 4 14 7 26 4 38 1 35-2 33-6 95-1 33 0 31 2 35 4 26 6 30 7 21 9 20 11 17 14 16 18 12 16 8 19 5 22 3 26-1 20-3 21-6 23-8 12-6 26-14 13-8 28-21 13-13 28-29 13-17 13-18 12-20 12-22 10-23 9-24 7-26 6-27 4-28 2-28-1-29-2-29-6-29-7-28-10-27-12-25-14-24-16-21-17-20-18-16-19-14-19-12-20-8-19-6-18-4-18-1-16 0-16 3-14 4-12 6-12 7-10 8-9 10-7 9-6 11-10 22-6 24-4 37-4 102-4 51-4 24-6 25-7 23-10 22-11 22-7 10-15 19-17 17-19 15-22 13-25 9-27 6-14 1-15 0-15-1-16-2-16-4-16-6-16-7-16-9-16-11-16-12-14-15-14-16-13-18-12-20-10-22-7-23-6-24-3-25-1-25 2-26 5-25 8-25 10-23 13-22 15-19 17-17 19-15 20-12 20-8 21-6 21-3 20 0 20 3 18 4 17 7 16 9 14 10 12 11 11 12 9 13 8 13 7 13 10 27 5 27 2 26 0 25-2 23-4 23-7 31-9 28-13 34-11 23-13 22-13 19-15 17-17 14-18 12-21 9-16 4-25 2-28-2-19-5-11-4-21-9-21-14-21-17-20-21-19-25-16-29-14-32-5-18-4-18-3-19-1-18 0-19 1-19 3-19 5-18 5-18 7-17 8-15 9-15 11-13 10-12 12-10 12-9 12-7 12-5 12-4 12-2 11-1 11 0 10 2 10 3 17 9 14 12 11 15 8 17 7 18 4 19 3 20 11 116 4 31 4 21 9 30 7 20 13 28 11 17 19 25 15 15 9 7 18 13 10 6 22 9 25 7 27 4 29 0 32-4 16-5 17-6 17-7 17-9 18-11 17-13 17-15 16-17 15-18 14-21 13-23 11-25 8-26 7-28 4-29 0-30-2-30-5-29-9-29-12-27-14-26-18-23-19-21-21-17-23-14-24-11-24-8-23-4-23-1-23 2-20 5-20 6-18 9-16 10-14 12-12 13-11 13-9 13-8 14-12 29-7 27-4 27-2 26 1 24 2 34 31 258 6 36 8 28 8 21 11 19 12 13 15 12 19 10 18 5 21 3 25 0 20-1 22-4 24-7 27-10 29-13 15-9 33-22 16-13 17-14 17-17 17-18 17-21 16-22 15-25 14-27 12-29 11-31 9-32 6-35 4-35 0-36-3-37-6-36-9-36-13-34-16-33-19-30-21-27-23-24-25-20-26-17-26-13-26-9-26-6-24-3-23 1-21 3-19 5-18 7-15 9-14 10-12 11-9 11-9 13-6 13-6 13-7 26-3 27-2 26 4 103-1 37-2 24-4 23-5 23-7 21-9 20-10 19-13 17-14 16-16 13-18 11-20 9-22 5-23 2-12 0-25-4-26-9-13-6-13-8-12-9-12-10-12-12-10-13-10-14-9-15-8-17-6-18-5-18-3-19-2-19 1-20 2-20 4-19 7-18 7-18 10-16 11-15 12-13 14-11 14-10 14-7 15-6 15-3 15-2 14 0 14 2 13 4 12 5 12 6 10 7 9 8 8 9 8 9 11 20 8 20 6 22 3 21 1 20-2 30-3 28-7 36-8 32-11 38-10 27-12 24-9 17-10 15-12 14-13 12-15 9-17 7-12 4-13 2-14 0-24-3-25-8-27-13-19-12-9-8-19-17-18-21-9-12-16-26-14-29-11-33-8-34-3-36 1-19 1-18 3-17 4-17 5-17 6-16 7-15 8-14 9-12 9-12 10-10 10-8 10-7 10-6 11-4 10-3 9-2 9 0 9 1 8 2 8 3 13 10 6 5 10 14 7 17 6 18 4 20 3 21 8 68 4 36 7 37 7 24 8 25 10 23 11 23 15 23 16 21 20 20 22 18 26 15 29 13 16 5 16 4 18 2 18 1 20 0 20-2 20-3 22-6 21-8 22-10 22-13 22-15 21-18 20-21 18-24 17-27 14-29 12-32 8-34 4-35 0-36-4-36-9-36-13-34-18-32-22-29-25-25-28-21-29-16-31-12-32-6-31-2-29 3-28 7-26 10-24 13-21 15-18 17-16 18-13 20-10 19-9 20-6 19-5 19-3 19-1 18-1 34 4 31 5 29 12 39 14 34 15 30 17 27 18 24 21 21 22 17 26 14 19 7 20 5 22 2 24-1 25-4 26-8 27-12 27-18 13-11 14-12 12-14 12-15 12-16 10-18 9-20 8-20 7-22 4-22 3-23 1-24-1-24-3-23-6-23-7-22-10-22-11-19-13-18-15-16-15-15-17-11-17-10-17-7-17-5-17-3-16 0-16 1-15 3-13 4-13 6-11 7-11 8-9 9-15 19-11 21-5 11-6 22-5 22-3 32-2 112-4 45-3 26-6 25-7 23-9 21-12 20-13 19-17 16-12 9-22 12-16 6-18 4-20 2-22 0-11-2-24-5-12-3-26-11-14-7-27-18-26-23-13-14-13-15-12-17-11-18-10-19-9-21-8-22-6-23-4-24-2-25 0-25 1-25 4-24 7-25 8-23 10-22 13-21 13-18 16-17 16-15 17-12 18-10 17-7 18-5 17-3 17-1 16 1 14 3 14 4 13 6 11 7 10 8 9 9 8 9 13 20 9 22 7 22 4 22 2 23 5 97 5 51 5 28 5 18 5 18 7 17 13 24 10 14 18 20 14 11 15 10 17 9 19 6 21 4 22 1 12-1 24-4 26-8 27-12 27-18 13-11 13-12 12-14 12-15 11-17 10-18 8-19 8-20 6-22 4-22 2-23 0-23-1-23-4-23-6-22-9-22-10-20-11-19-14-17-14-15-16-13-16-11-17-8-17-6-17-4-16-2-16 0-15 2-15 4-13 5-12 6-11 7-10 8-16 19-13 20-9 22-8 32-3 22-2 32 0 99-3 54-4 24-5 24-6 22-8 21-10 20-12 18-14 16-18 14-20 12-15 6-26 6-20 2-22-1-11-1-24-6-13-4-26-10-13-8-28-18-28-23-13-14-13-15-13-17-12-19-10-20-10-21-8-23-7-23-5-25-3-26-1-26 1-26 4-27 6-25 8-25 10-24 12-22 14-21 16-18 17-16 18-13 18-12 19-8 18-6 18-4 18-1 16 0 16 3 15 4 13 6 12 6 11 8 10 9 8 10 14 20 9 22 7 23 4 23 3 23 4 100 4 41 5 30 5 19 6 19 7 17 13 25 11 15 12 14 13 12 16 11 17 9 18 8 21 4 22 2 24-1 25-5 26-10 27-14 13-9 13-11 12-12 13-13 11-15 11-16 10-17 8-19 8-19 5-21 4-22 2-22 1-22-2-23-4-22-6-21-8-21-10-20-11-18-13-16-15-14-15-13-16-10-16-8-17-6-16-3-17-2-15 0-15 3-14 3-13 5-11 7-11 7-10 8-16 19-12 20-9 21-8 33-2 21-2 32 2 115-2 51-4 31-4 22-5 21-6 20-12 24-10 17-13 15-15 14-18 12-21 9-25 6-18 2-21 0-23-2-24-6-13-4-27-11-14-8-29-18-29-24-15-14-14-16-14-18-13-19-12-21-11-23-10-24-8-25-6-27-4-28-2-28 0-29 3-29 6-29 8-28 11-26 13-25 15-23 17-21 18-18 19-16 20-13 21-10 20-7 20-5 20-2 18 0 18 3 16 4 14 6 14 7 12 8 10 9 9 10 8 11 7 11 10 23 6 24 5 24 2 24 3 92 3 44 5 31 5 20 6 19 7 18 9 18 10 16 12 15 13 13 15 12 17 10 19 8 20 5 22 2 23-1 25-4 25-9 26-14 13-9 12-10 12-11 12-13 11-14 10-15 9-17 8-18 7-19 5-19 3-21 2-21 0-21-2-21-4-21-6-20-8-19-10-18-11-17-12-15-14-13-14-11-16-9-15-7-16-5-15-3-15-1-15 0-14 3-13 4-12 5-11 6-10 7-9 8-15 19-6 9-10 21-7 21-6 31-1 21-1 31 6 127 0 54-2 35-3 27-5 24-7 23-9 22-11 19-14 18-14 12-16 10-19 9-22 6-27 3-21 0-22-2-25-5-14-4-28-10-15-7-32-18-16-11-17-13-16-14-17-16-16-18-16-20-15-22-15-24-13-26-11-28-10-30-7-31-5-33-2-33 1-34 4-34 7-34 10-33 14-31 16-30 19-26 21-24 23-21 24-17 25-14 25-10 24-7 24-4 23-1 21 2 20 4 18 6 17 8 14 10 13 10 11 11 9 12 8 12 11 26 8 26 4 25 1 26 0 96 3 45 2 21 4 21 5 19 7 19 7 18 10 16 11 15 12 14 14 12 16 10 17 8 19 6 20 2 21 0 23-4 23-7 23-12 22-17 21-21 10-12 9-14 8-14 7-16 6-16 5-17 3-17 2-18 0-19-1-18-3-18-5-17-6-17-7-16-9-14-10-14-11-12-12-10-12-9-13-7-13-6-13-3-13-2-13-1-12 1-11 3-11 3-10 5-10 6-8 6-14 15-12 17-4 9-7 19-5 19-4 29-1 19 0 28 9 136 1 64-1 32-3 30-5 28-7 25-10 24-10 17-14 16-17 14-11 7-11 5-21 8-25 4-30 2-23-1-26-4-28-6-32-11-34-16-18-10-18-12-19-13-19-16-19-17-19-20-18-22-18-25-17-27-15-29-13-32-12-35-8-36-6-38-2-39 2-39 5-40 10-39 14-38 17-36 21-33 24-30 27-26 28-22 30-17 30-13 30-9 29-5 28-1 27 2 24 5 22 8 20 9 17 11 15 13 13 13 11 13 9 14 7 15 6 14 8 28 5 28 1 26 0 25-3 82 0 32 4 39 4 19 5 17 6 16 8 16 9 14 10 13 11 11 13 10 13 8 15 6 16 3 9 1 17 1 19-3 18-6 19-9 18-12 18-15 15-19 14-23 11-25 7-27 2-14 2-28-2-14-2-14-7-27-12-24-15-20-17-16-19-11-18-7-10-1-17 0-16 5-8 3-13 10-10 11-9 14-7 14-6 24-3 17-2 26-1 34-1 94-1 32-4 31-5 29-8 29-11 27-10 19-8 12-9 11-11 11-12 11-13 9-16 9-26 11-32 7-24 2-26-1-15-1-30-6-34-11-17-7-18-9-18-11-19-12-18-15-19-16-18-19-17-21-17-23-15-26-14-28-12-30-9-32-7-33-4-35 0-36 3-36 7-36 11-34 14-34 18-31 21-28 23-25 26-21 27-17 27-14 28-9 28-5 27-2 25 1 24 5 22 6 20 9 18 11 15 12 14 13 12 13 10 14 8 15 13 28 7 28 5 27 2 26 1 36-1 75 2 38 4 34 9 31 8 21 7 13 8 12 9 10 15 14 11 8 12 6 14 5 21 4 16 0 25-4 18-6 18-8 9-6 18-13 17-16 17-20 14-23 12-26 9-28 3-14 4-31-1-30-2-15-7-29-10-26-15-23-16-19-18-14-18-9-9-2-18-2-16 2-7 3-13 8-11 10-9 13-7 15-8 25-6 36-10 109-8 40-7 29-11 29-8 18-10 18-12 18-21 24-17 15-9 6-20 13-11 5-24 10-26 6-30 4-32-1-17-3-18-3-18-6-19-7-19-8-19-11-19-13-19-15-19-18-17-19-17-22-15-25-13-27-11-28-9-31-5-32-2-33 1-34 5-33 9-33 13-31 16-30 19-27 23-23 24-21 26-16 27-12 28-8 27-4 27-1 25 3 24 6 22 8 20 11 18 12 15 14 14 14 12 16 9 15 9 16 6 16 5 15 7 31 4 29 1 27-2 38-4 34-32 229-9 38-6 20-6 14-12 21-9 12-7 7-17 14-22 10-12 5-15 3-25 2-30-1-23-3-26-6-28-10-30-14-16-8-34-22-17-14-17-15-18-17-17-19-16-21-17-23-15-26-13-28-13-30-10-31-8-34-5-35-2-36 1-36 5-37 8-36 11-36 15-33 18-31 20-29 23-25 25-22 26-18 27-15 27-10 26-7 25-4 24 0 23 2 21 5 19 7 16 9 15 10 13 11 11 12 9 12 8 13 6 13 5 14 6 26 3 27 1 26-2 87 1 46 2 22 3 22 5 20 6 20 8 19 9 17 11 16 13 14 14 13 16 10 18 8 9 4 20 4 10 1 21 0 23-5 23-8 23-12 22-17 20-21 9-13 9-13 7-15 7-15 5-17 4-16 3-18 1-17-1-18-2-18-4-17-5-16-7-16-8-15-9-14-11-12-11-11-12-9-13-7-12-6-13-4-13-2-13-1-12 0-11 2-11 4-11 4-9 5-9 7-14 14-6 8-11 18-7 18-5 19-3 19-2 29 1 28 3 36 7 58 14 93 8 48 7 32 6 24 7 17 8 15 6 11 11 12 10 7 12 7 13 4 17 3 12 0 21-2 16-3 17-5 19-8 31-17 23-15 11-9 24-21 12-13 24-28 23-34 11-19 10-20 9-21 8-23 7-24 5-24 4-26 2-26 1-27-2-26-3-27-5-26-8-25-9-24-10-23-13-21-13-20-15-17-15-15-16-13-16-11-16-8-16-6-16-4-14-2-14 0-12 2-12 3-10 5-10 6-8 7-7 8-6 10-5 9-8 22-3 12-3 25-2 26-5 99-3 30-5 29-11 44-10 29-13 28-16 26-19 25-23 23-26 19-15 9-15 7-17 7-17 5-19 4-19 2-20 1-21-1-22-4-22-5-22-8-22-11-22-13-22-16-20-19-20-22-17-25-15-28-12-30-9-32-5-34-1-35 4-35 8-35 13-33 17-31 21-27 25-24 27-20 30-15 30-10 31-4 30-1 29 5 28 8 25 12 22 14 20 17 17 18 14 20 12 20 8 21 7 20 5 21 3 20 1 19-1 18-1 18-7 34-4 15-11 29-13 25-14 23-16 21-17 17-19 16-19 13-21 10-23 8-23 4-25 1-26-3-26-7-27-12-13-7-13-10-13-10-12-12-11-13-11-14-10-16-8-17-8-18-6-19-4-20-3-20 0-21 1-20 3-21 5-20 7-19 8-18 11-17 12-15 13-14 14-11 14-10 16-8 15-5 15-4 15-1 15 0 14 2 13 3 13 5 11 6 10 7 9 8 9 9 13 19 11 20 7 21 4 21 3 31 0 31-1 29-16 149-12 120-5 34-5 25-5 18-7 17-8 12-9 10-12 9-16 7-14 3-18 1-21-1-16-2-28-8-21-7-24-11-25-14-28-18-14-11-30-26-15-15-14-17-15-19-15-21-14-22-13-24-12-26-10-28-9-29-8-31-5-32-2-33 0-34 2-34 6-33 8-33 11-32 14-30 16-29 18-25 20-23 21-20 22-17 23-14 22-10 22-8 22-4 20-2 18 1 18 3 15 5 14 6 13 8 10 9 9 10 8 11 6 12 4 12 7 26 2 13 2 27-2 114 1 29 2 29 4 29 6 27 9 27 5 13 12 25 15 23 18 22 10 9 23 18 25 14 14 6 14 4 15 4 16 2 17 1 17-1 17-2 18-4 18-6 18-8 18-10 17-12 17-14 16-17 14-18 13-21 12-22 9-25 6-25 4-27 1-27-3-28-5-27-9-26-12-25-15-22-17-20-20-17-21-15-23-10-23-7-23-4-23-1-22 3-20 6-20 7-17 10-16 12-14 13-12 14-10 15-8 15-7 16-5 16-6 30-2 30 2 28 4 26 7 24 8 22 15 31 16 26 19 23 21 19 23 15 25 11 18 5 19 2 10 1 21-2 21-5 21-8 22-12 20-16 20-20 18-24 14-28 6-15 5-16 4-16 3-17 1-17 0-17-2-17-3-17-4-16-5-16-7-15-8-13-9-13-10-11-10-10-11-9-12-7-11-5-12-4-11-3-12-1-10 0-11 2-19 6-8 4-15 12-12 14-9 16-7 17-7 27-3 18-2 28-3 110-4 51-6 33-6 23-8 22-10 21-8 13-9 13-15 18-19 16-23 13-26 11-21 5-22 3-12 0-26-2-28-5-15-4-32-12-16-8-17-9-16-11-17-13-17-15-16-16-16-19-15-20-14-23-12-24-11-26-9-28-7-30-4-30-2-32 2-31 4-32 8-31 11-30 14-29 16-26 19-24 21-20 23-18 23-14 24-11 24-8 24-4 23-2 22 2 20 4 19 6 17 7 16 10 14 10 12 11 10 12 9 13 7 13 12 26 7 26 5 25 2 25 1 35 0 75 3 38 3 27 4 17 9 31 10 22 8 13 13 18 10 10 18 14 13 7 15 6 15 3 26 2 19-2 10-2 20-6 10-4 21-11 20-15 11-9 19-20 18-25 16-28 12-32 4-17 4-18 2-17 1-18-1-19-2-17-3-18-5-17-6-17-7-15-8-15-10-13-10-12-11-10-11-9-11-8-12-6-12-4-11-3-11-1-11 0-10 1-10 2-18 8-14 11-12 14-9 16-7 17-5 19-6 38-8 101-7 50-6 28-6 19-11 27-9 17-15 24-13 15-22 20-17 12-20 11-21 8-24 5-27 3-28-1-31-6-16-5-17-6-17-7-17-10-17-11-16-13-17-15-16-17-15-18-14-21-13-23-11-25-9-26-6-28-5-28-1-30 1-30 5-30 8-29 11-28 13-26 17-24 18-22 21-18 22-16 23-12 23-9 24-6 23-2 22 0 21 3 20 5 18 8 17 9 15 10 13 12 11 12 10 13 9 13 12 28 5 13 7 27 4 38 1 36-7 121 0 57 2 30 4 27 5 25 5 18 8 21 8 15 13 18 11 11 14 10 16 8 19 6 14 2 16 1 17-1 29-5 32-11 24-12 12-7 26-18 13-11 25-25 26-30 11-17 12-19 10-20 10-22 8-23 7-24 5-25 4-25 2-27 0-26-3-27-4-27-7-25-8-25-11-24-12-22-14-20-16-18-16-16-17-14-17-11-17-9-18-6-17-5-16-2-15 0-14 2-14 4-12 4-11 6-9 8-9 8-7 9-12 20-8 21-5 24-3 24-6 113-2 25-4 25-8 36-8 24-9 23-11 22-14 20-8 10-17 18-20 16-22 13-25 10-28 7-14 2-16 1-16-1-16-2-17-4-17-5-17-7-17-9-17-10-17-13-16-14-15-17-14-19-13-20-11-23-9-24-6-25-5-27-1-27 2-27 5-27 7-27 11-25 14-24 16-21 18-19 20-15 22-13 22-9 23-6 22-3 22 0 21 3 19 5 19 8 16 9 15 11 14 13 11 13 10 13 8 15 7 14 5 15 8 28 3 28 1 27-2 25-6 35-8 31-10 29-11 27-16 31-13 21-15 19-17 17-18 14-21 11-15 6-25 4-18 1-20-2-10-2-21-6-11-4-22-11-11-7-22-17-21-21-20-26-17-30-8-16-6-18-6-18-4-18-3-20-1-19 0-20 1-20 4-19 4-19 6-19 8-17 9-16 10-15 11-14 12-12 12-10 13-9 13-7 13-5 12-3 13-2 12-1 11 1 11 3 10 3 9 5 9 5 14 14 6 7 10 17 8 18 5 20 4 20 2 20 7 94 7 51 6 30 6 19 7 19 8 18 15 25 13 16 13 14 16 14 18 12 19 10 22 7 25 5 26 2 29-2 30-7 16-5 16-7 17-9 16-10 16-12 16-13 16-16 15-17 14-20 12-21 11-23 10-24 7-26 5-27 2-28 0-29-4-28-6-28-9-27-12-26-15-23-16-22-19-19-21-16-21-13-22-10-22-7-22-3-22-1-21 1-19 5-18 6-17 8-14 9-14 10-12 12-10 12-9 13-7 13-11 26-4 13-6 26-4 37 0 35 9 135 1 33-1 30-2 34-4 25-6 29-6 21-9 19-10 18-14 15-17 13-9 6-12 4-19 5-22 2-27-1-20-3-22-6-24-9-12-6-27-15-13-9-29-22-14-13-28-30-14-18-13-19-13-21-11-23-11-24-9-25-7-27-6-29-4-29-1-30 1-30 4-30 6-29 9-29 11-28 13-26 15-24 17-21 19-19 19-17 20-14 21-10 20-8 20-6 19-2 18-1 17 2 15 3 14 5 13 7 11 8 10 9 9 10 7 10 6 11 5 11 7 24 4 25 2 25 2 103 2 25 3 25 4 25 6 24 7 23 10 22 12 21 13 19 16 18 19 15 20 14 24 10 25 7 14 2 28 0 15-1 16-3 15-4 16-6 16-8 15-9 15-11 15-13 14-14 14-17 12-18 10-19 9-22 7-22 5-24 3-24 0-24-3-25-5-24-8-24-10-22-13-21-15-18-17-16-18-14-19-11-20-8-20-5-19-3-20 0-18 3-18 5-16 6-15 8-13 10-12 11-11 11-9 13-7 12-12 26-7 26-4 26-1 25 1 23 3 23 6 31 8 29 12 35 14 31 12 21 13 19 14 18 15 14 18 13 20 9 14 5 24 3 26-1 19-3 10-3 20-8 21-11 10-7 21-17 19-20 19-25 16-28 14-32 5-17 4-18 3-18 2-18 0-19-1-19-2-18-4-18-5-18-7-16-7-16-9-15-9-13-11-12-11-11-11-9-12-7-11-6-12-4-12-3-11-1-10 0-10 1-10 2-17 8-14 12-11 14-9 16-6 18-5 19-4 20-10 116-5 32-5 21-8 31-12 29-15 29-12 17-22 25-17 14-20 13-10 6-23 10-26 6-29 4-30-1-17-2-16-4-18-5-17-7-18-8-18-10-18-13-17-14-17-16-16-19-15-20-14-23-12-25-9-26-8-28-4-30-2-30 1-31 5-30 8-30 12-28 14-27 17-24 20-22 22-18 23-15 25-12 24-8 25-4 24-2 23 2 22 5 20 7 19 9 17 11 14 12 13 13 12 14 9 14 8 15 7 14 9 30 5 28 3 27 0 38-3 34-8 52-16 94-12 57-11 37-6 16-7 16-14 24-15 17-18 14-17 9-12 5-15 4-24 3-28-1-22-4-24-6-12-4-27-11-14-8-28-18-15-11-30-26-15-16-15-17-14-19-13-21-13-23-11-24-10-26-9-27-6-29-4-30-2-31 0-31 4-31 6-31 9-30 11-28 14-27 16-25 18-23 20-19 20-17 22-14 21-11 22-8 21-5 20-3 20 1 18 2 16 4 15 6 14 7 12 9 10 9 9 10 8 11 6 12 10 24 6 24 4 38 2 99 3 47 3 23 5 23 6 21 8 21 10 19 11 19 13 16 15 15 18 14 19 10 21 8 11 3 24 3 13 1 26-3 28-8 13-5 14-7 14-9 13-10 14-11 12-13 12-15 11-16 9-17 9-18 6-20 5-21 4-21 1-22-1-22-3-21-6-22-7-20-9-19-12-18-13-16-14-15-15-12-17-10-16-7-17-5-17-3-17-1-16 1-15 3-14 5-13 6-12 7-11 9-10 9-8 10-14 21-10 22-6 23-4 23-2 32 2 32 3 29 7 37 9 42 10 37 11 34 10 25 9 17 13 20 11 14 12 12 15 10 16 7 13 4 13 2 15 1 24-2 27-7 30-13 21-12 10-8 22-18 21-21 20-27 19-30 16-35 6-18 6-20 4-20 3-21 2-21 0-21-1-22-3-21-4-20-6-21-7-19-9-18-9-17-11-15-12-14-12-12-12-10-13-9-13-7-13-5-12-3-12-2-12 0-11 1-10 3-9 3-8 5-8 6-13 14-9 17-7 19-5 21-4 22-10 108-5 38-6 25-10 36-10 24-12 23-6 11-15 22-18 20-10 9-22 17-25 15-28 11-15 4-17 3-16 2-18 1-18-1-19-2-19-5-20-6-20-8-20-10-20-13-20-15-19-18-17-20-17-23-14-25-12-27-10-30-6-31-3-32 0-33 5-33 8-32 13-30 16-29 20-26 22-22 25-19 27-15 27-10 28-6 28-2 27 1 25 6 24 8 21 11 19 13 17 15 15 16 13 16 10 18 8 17 7 18 5 17 6 34 1 32-2 30-7 40-11 36-12 32-14 29-21 33-17 22-19 20-22 16-24 12-17 7-20 4-10 1-21 0-22-2-24-6-25-10-12-6-26-17-24-21-12-12-11-14-11-15-10-17-9-18-7-18-7-20-5-21-3-21-2-22 0-21 2-22 4-22 6-21 7-20 9-19 11-18 12-16 14-15 14-12 15-11 15-8 16-7 15-4 15-2 15-1 13 1 14 3 12 4 11 5 10 6 10 7 8 8 14 18 5 9 9 20 7 21 4 21 4 42 3 81 3 48 4 27 4 18 10 33 10 23 8 15 15 20 11 13 19 16 15 10 17 8 18 6 20 4 11 1 23 0 25-3 27-7 27-11 29-16 14-11 14-12 14-13 14-15 13-16 12-18 11-20 10-21 8-22 7-24 5-24 3-26 0-25-1-26-4-26-7-25-9-25-11-23-13-21-15-19-16-17-18-15-18-12-19-10-19-7-19-4-18-3-18 0-17 2-15 4-15 6-13 7-12 8-11 9-9 9-9 11-13 21-5 12-7 23-6 23-4 34-3 115-4 47-4 26-7 24-8 24-10 21-13 20-16 17-18 15-22 12-25 8-18 3-20 1-11-1-22-4-24-7-12-5-25-13-25-18-12-10-24-25-11-15-11-16-10-17-9-18-7-20-6-20-5-22-3-22-2-22 0-23 3-23 4-22 6-22 8-20 10-20 11-18 13-17 13-14 15-13 15-11 16-8 16-7 15-4 15-3 15-1 14 2 14 2 12 4 11 5 10 7 10 7 15 17 7 9 10 19 7 21 5 21 3 21 3 22 4 94 4 40 5 28 5 19 5 17 7 17 12 25 9 15 17 20 13 13 15 11 17 9 18 8 21 5 22 3 24 0 26-4 27-8 28-13 14-8 15-10 14-11 14-13 13-14 13-16 12-17 11-19 10-21 8-22 7-23 5-23 2-25 1-25-2-25-4-25-7-25-9-23-11-22-13-21-14-18-17-16-17-14-18-12-19-9-19-6-18-4-18-1-18 0-16 3-16 4-14 6-13 7-11 9-11 9-9 10-8 10-13 22-5 12-7 23-5 23-4 33-1 33 1 89-1 28-3 25-5 33-5 23-7 21-9 20-15 24-14 16-16 14-20 12-22 8-17 4-28 2-21-2-22-5-12-3-25-10-25-14-13-9-26-21-26-27-12-15-11-17-11-18-10-19-8-21-7-22-6-23-4-24-2-24-1-25 2-24 4-25 6-24 8-23 10-22 11-20 14-19 14-17 16-15 16-12 17-11 17-8 17-5 16-4 16-1 16 0 14 2 13 4 13 5 11 6 10 7 9 8 8 9 12 20 9 20 7 22 4 23 2 22 6 100 5 43 8 40 6 20 8 18 13 27 11 16 13 15 14 13 16 12 18 10 20 8 22 6 24 2 25-1 27-5 29-10 14-7 14-9 15-10 14-11 13-13 13-15 13-16 11-18 10-19 9-20 7-22 5-23 4-23 1-24-1-24-4-24-6-24-8-23-10-21-12-20-15-18-15-16-17-14-18-11-18-8-18-7-19-3-18-2-17 1-16 3-16 4-14 6-13 8-11 8-11 10-9 10-8 10-13 23-9 23-3 11-5 24-3 33 0 33 7 130 1 32 0 30-3 34-3 26-6 29-7 22-12 24-12 18-15 15-19 13-18 8-21 6-25 3-29-2-34-6-25-8-14-5-28-14-15-9-31-21-31-28-16-16-15-19-15-20-14-22-13-23-12-26-10-27-9-29-6-31-4-31-2-32 1-33 4-33 8-32 10-31 12-30 16-28 18-25 19-23 21-20 23-17 23-14 23-10 23-7 22-4 21-2 20 1 19 3 17 6 15 7 14 8 12 9 10 11 9 11 7 11 12 24 7 26 4 25 1 25 1 100 3 47 3 22 5 22 6 21 8 21 9 18 11 18 13 16 15 15 17 12 19 10 20 8 23 4 24 1 12-1 26-5 26-10 13-7 13-9 13-9 12-11 12-13 11-14 10-15 9-16 8-18 6-18 5-20 3-20 1-20-1-21-2-21-5-20-7-19-8-18-10-17-12-16-13-14-15-11-15-10-15-8-16-5-15-4-16-1-15 0-14 3-14 3-12 6-12 6-10 7-10 9-16 18-6 10-10 21-7 22-4 21-2 22 0 30 2 30 5 37 8 43 10 46 12 41 10 30 10 22 8 15 13 18 12 12 13 10 14 8 18 5 12 3 14 1 15-1 25-5 28-10 31-16 21-15 10-9 22-20 21-25 19-29 18-34 7-18 7-19 5-20 5-21 3-21 2-22 0-22-2-22-3-21-4-22-6-20-7-20-9-18-10-17-11-16-11-14-13-13-13-10-13-9-13-7-12-5-13-4-12-2-12 0-10 1-10 3-10 4-8 5-8 6-12 14-10 17-6 20-7 33-12 123-4 26-5 26-11 39-10 25-12 24-14 24-17 22-10 10-21 19-25 17-28 14-16 5-16 5-17 3-18 2-18 0-20-1-20-3-20-5-21-7-21-9-21-12-21-14-20-17-19-20-18-22-16-25-14-27-11-30-8-32-4-33-1-34 3-34 8-33 12-33 16-30 20-28 23-24 26-20 27-16 29-11 30-7 29-2 28 2 27 5 25 9 22 12 21 14 17 16 16 17 12 18 11 19 8 19 7 19 4 18 4 18 2 35-2 32-5 30-7 27-13 37-16 32-17 28-19 25-22 21-15 12-26 15-18 8-20 5-11 2-22 1-23-1-24-5-26-10-25-13-26-19-12-11-12-13-11-13-11-16-10-16-8-18-8-18-6-20-5-20-3-22-1-21 1-22 2-21 5-22 6-20 9-20 9-18 12-17 12-15 14-13 15-12 15-9 16-7 15-5 16-4 15-1 14 0 14 3 13 3 12 5 11 6 9 7 9 8 15 17 12 20 8 20 6 21 3 21 4 41 1 98 2 44 6 42 5 23 5 15 8 21 11 20 12 19 10 11 17 15 13 9 23 11 17 5 29 5 22 0 23-2 13-3 26-8 28-12 28-17 29-22 15-14 14-15 13-17 13-18 12-20 10-22 10-23 8-24 6-26 3-26 2-27 0-28-3-27-6-27-8-26-10-26-13-23-14-22-17-19-18-18-18-14-20-12-20-9-19-7-20-4-18-1-18 0-17 3-16 4-14 6-13 8-12 8-10 9-9 10-14 22-6 11-8 23-6 24-4 35-4 110-3 30-3 20-6 28-5 18-10 25-8 16-15 22-11 13-20 17-15 9-17 8-9 3-19 4-21 2-22-1-24-5-24-9-25-13-25-17-24-23-11-14-10-14-10-16-9-17-7-18-7-19-5-20-3-21-1-21 0-21 2-21 4-21 6-21 7-19 9-18 11-17 12-16 13-13 15-12 14-10 15-8 16-5 15-4 14-2 15 0 13 1 13 3 12 5 11 5 10 7 9 7 16 17 11 19 9 19 6 21 4 21 4 41 1 98 2 45 4 25 4 24 6 24 5 14 9 21 11 20 14 18 10 11 18 15 14 8 16 7 17 6 19 4 21 1 22-1 13-1 25-6 14-4 28-12 29-17 14-11 15-12 15-14 14-15 13-17 13-18 12-21 11-21 9-24 8-24 6-26 4-27 2-27-1-28-3-27-6-28-8-26-11-25-13-24-15-22-17-19-18-17-19-15-20-11-20-9-20-7-19-3-19-1-18 1-17 3-16 4-14 7-13 7-12 9-10 9-9 11-14 21-10 23-7 24-4 24-3 23-3 99-4 50-6 29-4 18-6 17-6 17-13 23-10 14-17 19-13 11-15 9-16 8-18 5-19 4-21 0-11-1-23-4-24-8-24-12-25-16-23-22-12-12-10-14-10-15-9-17-9-17-6-19-6-19-4-20-2-21-1-21 1-21 3-20 5-21 6-20 8-18 10-18 11-16 12-14 14-13 14-11 14-9 15-7 15-5 15-3 14-1 14 0 13 2 12 4 12 4 10 6 10 7 8 7 15 17 11 19 8 20 5 20 4 21 3 31 2 107 4 45 4 26 5 24 7 24 6 14 10 21 13 20 16 17 12 11 20 14 16 7 27 9 20 3 23 0 11-1 26-4 26-7 14-6 29-15 30-20 14-12 15-14 14-16 13-17 13-19 12-20 10-22 9-24 7-24 6-26 3-27 1-27-2-28-4-27-6-27-9-26-12-24-13-23-16-21-17-19-18-16-20-13-20-10-20-8-20-5-19-3-19 0-17 2-17 3-15 6-14 7-13 8-11 9-9 10-9 10-14 22-9 24-6 23-4 24-3 23-3 98-4 49-4 28-5 17-8 26-7 15-12 22-15 20-18 17-14 9-23 12-18 5-19 3-20 0-22-2-11-3-24-7-12-6-24-14-12-9-24-21-11-12-11-14-10-15-9-16-9-17-7-18-6-19-4-20-3-21-2-21 1-21 2-21 4-21 5-20 8-19 9-18 11-17 11-15 13-14 14-12 14-10 15-8 15-6 14-4 15-2 14 0 13 1 12 2 12 4 11 5 10 6 17 15 13 17 5 10 9 19 6 20 4 21 4 41 3 90 3 38 8 44 6 26 6 16 10 22 8 15 15 20 11 12 20 17 15 9 17 8 18 6 21 4 11 1 23 0 25-4 27-7 29-12 29-16 15-11 14-12 15-14 13-15 14-17 12-18 12-21 10-21 8-23 7-25 5-25 3-26 1-27-2-27-5-26-7-26-9-25-12-24-13-22-16-20-17-17-18-15-20-12-19-10-20-7-20-4-19-2-18 0-17 3-16 4-15 6-14 7-12 9-10 9-10 10-15 22-6 11-9 24-7 23-5 35-1 34-2 93-5 47-4 26-7 24-9 23-11 21-13 19-16 17-19 14-14 8-24 9-18 3-19 1-11 0-21-3-23-7-12-4-24-12-25-17-12-10-23-24-11-13-11-15-10-16-9-18-7-18-7-20-5-20-4-21-2-22 0-22 1-22 3-22 5-21 7-20 9-20 10-18 11-17 13-15 13-13 15-12 15-9 15-7 15-6 15-3 14-2 14 0 13 2 12 3 12 5 10 5 10 7 8 7 15 17 5 9 10 19 6 20 5 21 5 43 4 83 4 40 4 29 5 18 5 18 6 18 12 24 9 16 17 21 13 13 14 12 17 10 18 8 20 6 22 4 12 1 25-1 27-5 28-9 29-14 15-9 15-11 14-12 14-14 14-16 12-17 12-19 11-20 9-22 8-23 5-24 4-25 2-25-1-26-4-26-6-25-8-25-11-23-12-22-15-19-16-18-18-15-19-13-19-9-19-8-20-4-19-2-18 0-17 2-16 4-15 6-14 7-13 9-11 9-9 10-9 11-7 11-12 23-4 12-7 23-4 24-2 34-1 32 1 79-2 53-5 33-4 22-7 22-8 20-13 24-13 16-15 14-17 13-21 9-15 5-26 3-19 0-21-3-12-2-23-7-24-11-13-7-25-18-26-22-25-28-11-15-12-18-10-18-9-20-8-21-7-22-5-23-3-24-2-25 0-24 3-25 4-24 7-24 8-23 10-21 12-20 14-18 14-17 16-14 16-12 17-10 16-7 17-5 16-3 16-2 15 1 14 2 13 4 11 5 11 7 10 7 8 8 14 19 10 20 8 21 4 22 3 23 6 101 5 44 6 32 6 20 6 20 8 19 15 26 13 16 13 15 16 14 18 11 20 10 21 7 24 4 26 0 28-3 28-9 15-6 15-7 15-9 14-11 15-12 14-14 13-16 12-17 11-19 10-20 8-21 6-23 5-24 2-24 0-25-3-25-5-24-7-24-10-22-12-21-14-19-16-17-17-15-18-12-19-9-19-7-19-5-19-1-18 0-17 3-16 4-15 6-14 8-12 9-11 9-10 11-9 11-13 23-10 24-3 12-5 24-3 34 0 22 2 32 14 141 3 43 2 52 1 64 0 60-2 44-3 30-4 16-6 14-8 11-9 8-13 7-19 6-20 3-19 0-24-1-30-4-36-8-28-9-31-12-35-17-38-23-21-15-20-16-22-18-21-21-22-24-21-26-20-29-20-32-17-36-16-38-13-41-10-44-6-46-2-48 3-48 8-48 13-48 18-46 23-43 27-39 31-35 33-30 36-25 37-19 37-13 36-9 34-3 33 0 30 5 27 8 24 10 21 12 18 13 15 15 12 15 10 15 8 16 6 15 5 15 2 15 3 30-1 28-3 27-12 75-4 47 0 23 2 21 3 21 4 20 10 27 9 17 10 15 11 13 13 12 15 9 16 8 17 5 18 2 9 0 19-2 19-6 19-9 19-12 17-17 15-19 13-23 9-26 5-27 0-27-1-14-3-14-4-13-4-12-6-12-7-10-8-10-8-9-9-8-9-6-9-5-20-7-9-1-18 1-9 1-16 7-7 4-12 11-6 6-8 14-7 15-5 15-3 17-2 16-1 25 1 25 4 32 4 31 17 96 8 36 9 31 6 19 8 17 9 16 7 10 9 9 10 7 11 6 14 4 15 2 11 0 13-2 13-2 15-5 16-7 26-14 27-20 29-28 19-23 10-13 17-28 16-33 14-36 10-39 3-20 2-21 1-21 0-21-2-20-3-21-5-20-5-19-7-19-8-17-9-16-9-15-11-14-10-11-11-10-12-9-11-6-11-5-11-4-10-2-10 0-9 1-8 2-8 4-7 5-6 6-10 14-8 18-6 21-6 35-8 81-3 30-9 45-8 30-11 31-13 30-16 29-20 28-24 26-14 12-14 12-16 10-17 10-18 9-20 7-20 7-22 4-23 3-24 0-26-1-26-5-26-7-27-10-28-13-27-17-26-21-25-25-22-28-21-33-16-36-13-39-8-41-2-43 4-44 10-43 16-42 23-38 27-34 33-29 36-23 39-15 39-9 40-2 38 4 36 10 32 15 29 19 26 22 21 24 17 26 14 27 10 27 7 26 4 26 1 25 0 24-3 23-4 21-6 21-6 19-8 17-8 17-19 30-21 26-23 22-25 18-26 14-28 11-15 4-30 4-16 0-16-1-16-2-16-4-17-5-16-7-17-8-16-11-16-12-15-14-14-15-13-18-12-19-11-20-8-22-7-24-4-24-2-25 1-25 4-25 6-24 8-24 12-22 13-20 16-18 17-16 19-13 19-10 20-8 20-4 20-2 19 0 18 3 17 6 16 6 15 9 13 10 12 10 10 12 9 12 7 13 6 13 9 26 6 25 2 25-1 36-4 33-5 30-10 37-14 42-13 29-14 27-16 23-19 20-16 13-18 10-21 7-23 3-17 0-28-4-20-6-21-10-11-6-21-14-22-19-10-10-20-25-19-29-15-33-6-18-6-18-4-19-2-20-2-20 0-20 2-21 3-20 5-19 6-19 7-17 9-17 9-16 11-14 12-12 12-11 12-9 13-8 13-5 12-4 12-3 12-1 11 1 11 2 10 3 9 4 16 11 12 14 10 17 7 18 7 30 5 32 8 100 6 34 4 22 10 32 8 20 16 30 12 19 15 17 17 16 19 15 21 12 25 10 13 4 28 4 15 1 16 0 16-1 16-3 18-5 17-6 18-7 18-10 18-11 17-14 17-15 17-18 15-20 14-22 12-24 10-26 8-27 5-29 2-29-1-30-4-30-8-30-11-28-14-26-17-25-19-21-21-18-23-15-24-12-25-8-24-4-24-1-23 1-22 5-20 7-19 9-16 11-15 13-13 13-11 14-10 14-8 15-6 15-9 29-5 29-2 27 1 38 4 35 7 42 11 47 14 49 13 36 11 26 14 23 11 16 14 15 15 12 19 10 21 8 24 5 28 0 20-2 11-3 23-7 25-10 26-15 26-19 27-24 13-14 12-16 12-17 12-19 10-20 9-21 8-22 7-24 5-25 3-25 1-26-1-27-3-26-5-25-8-25-9-24-12-23-13-20-15-19-15-17-17-14-18-12-17-10-18-7-18-5-17-2-16-1-15 1-14 3-13 5-12 6-11 7-9 8-9 8-13 20-5 10-8 22-6 23-3 23-2 23-5 94-3 34-4 22-8 32-7 20-14 29-11 18-21 25-16 14-18 13-9 5-22 9-23 6-25 3-27-1-29-6-15-5-15-6-14-8-15-9-15-11-14-13-14-14-13-16-12-17-10-19-9-21-8-22-6-23-3-23-1-25 1-24 4-24 6-24 8-23 11-21 13-20 15-18 16-16 18-13 18-10 19-8 19-6 19-2 18-1 18 2 17 4 15 6 14 7 13 8 12 10 10 10 9 11 8 12 7 12 10 24 6 24 4 24 2 34-2 33-3 30-7 47-12 66-11 50-10 37-13 33-10 20-13 17-15 15-14 9-16 7-19 6-22 2-25-2-19-3-21-6-22-9-11-6-24-14-13-9-25-21-13-12-25-28-12-16-12-18-11-19-10-21-9-21-8-23-7-24-5-25-3-26-1-27 1-26 2-27 5-26 7-25 9-25 11-23 12-22 14-19 15-18 16-16 17-13 17-11 17-8 17-6 17-4 15-2 15 0 14 2 13 4 12 5 10 6 10 7 8 8 7 9 11 20 4 11 6 22 5 36 5 102 6 51 5 26 6 25 8 24 10 23 13 22 14 21 18 19 20 17 22 14 25 11 29 8 15 3 15 1 17-1 16-1 17-3 18-5 18-7 18-8 17-11 18-12 16-15 16-17 15-19 14-21 11-23 10-24 7-27 4-27 2-28-2-28-5-28-8-28-11-26-14-24-17-22-19-19-21-16-23-13-23-9-24-6-23-2-23 0-22 4-20 6-19 9-17 10-15 12-13 13-12 14-9 15-9 15-6 15-9 30-5 30-1 28 2 26 6 37 9 33 11 30 12 27 19 31 10 15 10 13 18 18 19 15 22 11 24 8 28 4 19-1 10-1 21-5 22-9 12-5 22-14 22-18 21-23 20-26 8-15 8-16 7-17 6-18 4-19 3-19 2-19 0-19-1-20-3-19-5-19-5-19-8-17-8-16-10-15-11-14-12-12-12-10-13-9-13-7-13-5-13-4-13-1-12-1-11 1-11 2-11 4-9 4-9 6-15 13-6 8-10 17-8 18-5 19-4 20-3 20-6 102-6 49-6 28-5 19-10 26-8 17-14 24-12 14-20 20-15 12-18 11-19 8-22 6-24 4-26 0-28-3-30-8-16-6-15-7-16-9-16-10-16-13-15-13-16-16-14-18-13-19-13-21-10-23-9-24-7-26-5-27-3-28 1-28 3-28 5-28 9-27 11-25 14-24 16-22 19-19 19-17 21-13 21-11 22-8 22-4 21-2 20 1 19 3 18 5 17 7 15 8 13 10 12 10 11 12 9 12 7 12 12 25 5 13 6 25 4 25 2 35 0 33-3 89 1 43 3 31 4 23 5 20 6 20 8 18 9 17 11 15 14 13 15 12 18 9 21 6 16 2 17 1 19-2 31-7 23-8 11-6 25-14 12-8 25-21 12-12 24-28 11-16 11-18 9-18 9-20 8-21 6-22 5-23 4-24 1-24 0-25-2-24-5-24-6-23-8-23-9-22-12-20-12-18-14-16-15-15-16-12-16-10-16-8-16-6-15-4-15-2-15 0-13 2-13 3-11 5-11 5-9 7-8 8-14 17-10 20-7 21-5 22-2 23-7 106-6 46-8 34-7 22-8 21-10 20-19 28-15 17-17 15-19 14-22 10-24 9-27 4-28 1-16-1-15-3-16-4-16-6-16-7-17-9-16-11-16-12-15-14-15-17-13-18-13-20-11-21-9-24-6-24-5-26-2-26 1-27 3-27 7-26 9-25 12-24 14-22 17-19 18-17 20-14 21-11 21-9 22-5 21-2 20 1 20 3 18 5 17 7 16 9 14 10 12 12 11 12 9 13 8 13 7 13 9 27 6 27 3 25 0 37-3 33-5 32-11 47-11 42-13 37-14 33-13 24-12 16-13 14-15 12-17 11-20 7-23 5-17 0-18-1-20-3-21-7-11-4-23-11-12-7-23-17-24-22-12-13-23-29-10-16-10-18-9-19-7-20-7-21-5-22-4-22-2-23 0-24 1-23 3-24 5-22 7-22 9-22 10-19 11-19 13-16 14-15 14-13 15-11 16-8 15-7 15-5 14-2 14-1 14 0 12 3 11 3 11 5 9 6 9 7 7 8 13 17 9 20 6 21 4 22 3 23 6 93 6 46 7 34 7 22 8 22 10 20 18 29 15 18 16 16 20 14 21 12 24 9 27 6 29 2 15-1 16-2 16-4 16-5 17-6 17-8 17-10 16-12 16-14 16-16 14-18 14-19 12-22 10-23 8-25 6-26 3-27 0-27-2-28-6-27-8-27-11-25-14-23-17-21-18-19-21-16-21-12-22-9-23-7-22-3-21 0-21 3-20 5-18 7-16 9-15 10-13 12-12 12-10 13-8 14-7 14-11 28-6 27-3 27 0 25 2 35 7 43 9 39 12 43 13 38 12 28 10 19 15 23 13 15 15 13 17 11 20 9 22 5 17 2 18 0 31-6 21-7 12-4 23-13 24-16 25-21 23-25 22-31 10-17 10-19 8-19 7-21 6-22 4-22 3-23 1-24-1-23-3-24-5-23-6-22-8-21-10-21-11-18-13-18-14-15-14-13-15-11-16-10-15-7-15-5-15-3-15-1-13 0-13 2-12 4-11 4-10 6-9 7-7 8-13 17-10 19-7 21-4 22-3 22-7 104-4 34-4 23-9 32-7 21-9 21-11 19-19 27-15 16-18 14-10 7-21 11-23 9-26 5-28 2-30-3-16-4-16-5-16-6-16-8-16-10-16-11-16-13-15-16-15-17-13-19-12-20-10-23-8-24-6-25-4-26-1-27 1-27 5-26 7-26 10-25 13-24 15-21 17-19 19-16 21-14 21-10 21-8 22-4 21-2 20 2 20 3 18 6 16 8 16 9 13 10 12 12 11 12 9 13 7 13 6 13 10 27 5 26 3 26 0 36-3 33-6 41-12 55-12 48-13 42-13 31-13 22-10 15-17 17-15 11-18 9-20 6-24 4-17 0-19-3-21-4-22-8-11-5-24-13-13-8-25-19-25-24-12-14-12-15-12-17-10-18-10-19-9-21-8-22-6-23-5-24-3-24-2-25 1-25 2-26 5-24 6-25 9-23 10-22 12-20 13-19 15-17 15-15 17-12 16-10 17-8 16-6 16-4 15-1 15 0 14 2 12 3 12 5 10 6 9 7 9 8 7 9 11 19 5 11 7 21 4 23 3 23 5 97 6 47 7 35 6 23 9 22 10 20 12 20 7 10 15 17 17 16 20 14 22 12 25 8 27 5 14 1 15 0 16-2 16-2 16-5 16-6 17-7 16-9 17-11 16-13 15-15 15-17 13-18 12-21 11-22 8-24 6-25 4-26 1-26-1-27-5-27-7-26-11-25-13-23-15-21-18-19-19-16-20-13-22-9-21-7-22-4-21-1-21 2-19 4-18 7-17 8-14 10-14 11-12 12-10 13-8 13-8 14-6 13-8 28-5 27-1 26 0 24 4 35 5 31 10 39 11 35 15 38 13 28 11 19 13 17 14 15 16 13 19 11 21 7 15 4 26 1 29-4 21-5 10-5 23-10 23-15 23-18 22-23 21-28 19-32 8-18 7-19 6-20 5-20 3-21 2-22 0-21-1-22-3-22-5-21-7-20-8-20-9-18-11-17-12-15-13-13-13-12-14-10-14-8-14-6-14-4-14-3-13 0-12 0-12 3-10 3-10 5-9 5-8 7-14 15-10 18-8 19-5 21-4 21-3 33-6 79-4 34-4 21-8 33-7 20-14 30-11 19-20 26-16 15-19 14-20 12-23 9-25 7-28 2-30-1-16-3-16-4-16-5-17-7-17-9-17-10-16-13-16-14-16-16-14-18-14-21-11-21-11-24-8-25-5-27-4-27 0-28 3-28 5-28 9-27 11-26 14-24 17-21 19-19 20-16 22-13 22-10 22-6 23-4 22 0 21 2 19 5 19 6 16 9 15 10 14 11 12 13 10 12 9 14 7 13 6 14 9 28 5 26 2 39-1 35-4 33-8 49-15 68-11 44-12 39-11 24-11 21-15 18-13 13-15 10-17 9-21 6-23 3-18 0-20-3-33-8-23-9-13-6-26-16-26-20-27-25-13-14-13-17-12-17-12-19-11-21-9-22-9-23-7-25-5-25-3-27-2-27 1-27 3-27 5-27 7-26 10-25 11-24 14-22 15-20 16-18 17-15 18-13 18-11 18-8 18-5 18-3 17-1 15 1 15 2 13 4 13 6 11 7 9 8 9 9 7 9 12 21 8 22 5 23 3 24 5 110 5 48 7 35 7 22 8 22 10 20 12 19 7 10 15 17 18 15 19 13 22 11 24 7 27 4 28 0 15-2 15-3 16-5 16-6 15-8 16-10 15-11 15-13 14-14 14-17 12-18 11-20 9-22 7-22 6-24 2-25 1-25-2-25-5-25-8-24-10-23-12-21-15-20-16-17-18-14-20-12-19-9-21-7-20-3-19-1-19 2-18 4-17 6-15 7-14 9-13 10-11 12-9 11-9 13-12 25-9 26-5 26-2 24 1 36 4 32 6 30 9 37 13 42 14 37 13 26 15 23 13 16 14 13 16 12 19 9 14 4 23 3 17 0 18-2 20-5 21-7 10-5 22-12 11-8 22-18 22-23 11-13 19-29 17-34 7-18 6-19 5-20 3-20 2-21 0-21-1-21-2-22-5-20-5-20-8-19-8-18-10-17-11-15-12-14-13-12-13-10-13-9-14-6-13-5-13-3-12-2-12 0-12 2-10 3-10 4-9 5-15 13-6 7-11 17-4 9-6 20-5 20-3 22-9 102-6 46-8 33-7 22-9 21-10 20-19 29-15 18-18 16-19 14-23 12-25 9-28 6-30 2-16-1-16-2-17-4-18-5-17-7-18-9-18-11-17-13-18-14-16-17-15-19-14-21-13-24-11-25-8-26-6-28-3-29 0-30 4-29 6-29 10-29 13-26 16-25 19-21 21-19 22-16 24-12 24-9 24-5 24-2 23 2 21 4 21 6 19 9 16 10 16 12 13 13 11 14 10 15 8 14 7 15 5 15 7 29 4 28 1 27-3 37-7 45-9 40-12 44-14 39-12 28-11 20-15 23-14 15-15 14-18 11-21 9-24 5-27 2-20-2-11-2-22-6-12-4-24-12-25-15-26-20-25-25-12-15-11-16-11-17-10-19-9-20-8-21-7-22-5-23-3-24-2-24 1-25 2-24 4-24 7-24 8-23 10-21 12-20 13-19 14-16 16-14 16-12 16-10 17-8 16-5 16-3 15-2 15 1 14 2 13 3 11 5 11 7 9 7 9 8 14 18 10 20 7 21 5 22 3 23 6 103 4 33 3 22 7 32 7 20 8 20 10 19 17 26 14 16 16 14 9 6 18 12 22 9 23 6 25 3 28-1 29-5 14-5 16-6 15-7 15-9 15-11 15-12 14-14 14-16 12-17 12-20 10-20 8-22 7-24 4-24 2-25 0-25-3-25-6-25-8-24-10-23-13-21-15-19-16-17-18-15-19-12-20-9-20-6-19-3-20-2-18 2-18 3-16 6-15 7-14 8-12 9-11 11-10 11-8 12-7 12-11 25-7 24-4 25-3 35 2 33 2 31 9 65 17 100 8 45 9 33 10 25 9 18 12 16 10 11 12 9 15 8 17 6 20 3 16 1 17-1 19-3 20-6 35-13 25-13 13-8 27-20 14-12 28-28 14-16 13-18 13-19 12-21 11-23 10-24 9-25 7-27 5-28 3-29 1-29-1-30-4-29-6-29-8-29-11-27-13-25-15-23-17-22-18-18-19-17-19-13-20-11-20-8-19-5-18-3-18 0-16 1-15 4-14 4-12 7-11 8-10 8-8 10-7 10-6 11-8 23-5 24-3 25-2 26-2 91-2 26-3 26-7 38-8 24-9 23-12 22-14 21-7 10-18 18-20 15-22 13-25 10-28 6-15 2-15 0-16-1-16-3-16-4-17-6-16-7-17-9-16-11-16-14-15-15-14-17-13-18-11-21-10-22-7-24-6-25-2-25 0-26 3-27 6-25 9-25 11-23 15-21 16-19 18-17 20-13 21-11 21-7 21-5 22-1 20 1 19 4 19 6 16 8 16 10 13 11 12 12 11 13 8 13 8 14 6 14 4 14 7 28 2 27 0 25-3 25-6 33-9 31-11 28-11 25-13 23-14 21-16 18-17 16-13 9-21 11-15 5-25 5-18 0-19-2-10-2-20-6-11-5-21-11-10-7-21-17-20-21-18-25-16-29-12-32-5-17-3-18-3-18 0-19 0-18 2-18 3-18 5-18 6-16 7-16 9-15 9-13 10-13 11-10 12-9 12-8 11-6 12-5 12-3 11-1 11 0 11 1 10 2 9 4 16 9 13 13 6 7 9 16 7 18 5 19 6 39 7 91 7 51 6 29 5 19 7 18 8 18 14 26 12 16 20 22 17 13 18 11 20 10 22 8 25 4 28 2 29-3 32-7 16-6 17-7 17-9 17-11 17-13 16-14 16-16 16-19 14-20 13-22 11-25 10-25 7-28 4-28 2-29-1-30-4-30-7-29-11-28-13-26-16-25-18-21-20-19-22-16-23-13-23-9-24-6-23-3-22 0-21 2-20 6-18 7-17 9-15 10-14 11-11 13-10 13-9 13-7 14-11 27-4 13-5 27-2 25-1 36 1 34 8 104 0 56-2 28-4 33-6 29-6 22-9 19-11 18-13 15-17 13-16 8-18 5-21 3-25 0-19-3-20-5-35-13-24-13-13-8-27-19-14-12-27-27-13-16-13-17-12-19-12-20-11-22-10-24-8-25-7-26-5-27-3-27-1-29 2-28 3-29 6-28 8-27 11-26 12-25 15-23 16-20 17-18 18-16 19-13 19-10 19-8 18-5 18-3 17-1 16 1 14 3 14 5 12 6 10 7 10 9 8 9 7 10 6 10 5 11 7 24 4 24 2 25 3 103 2 25 4 26 4 25 7 24 8 24 10 22 12 22 15 20 17 18 19 16 22 13 25 10 27 7 15 2 15 0 15 0 16-2 17-4 16-5 17-7 17-8 16-11 16-12 16-14 14-17 14-18 12-20 11-22 8-23 7-25 3-25 1-26-1-27-5-26-8-25-10-25-13-22-16-21-17-17-20-16-20-12-22-9-21-6-22-3-21 1-20 2-19 5-17 8-17 9-14 10-13 12-11 12-10 14-8 13-7 14-9 29-5 27-2 27 1 25 2 24 7 34 9 30 10 28 12 25 12 23 14 20 15 19 17 16 19 13 13 8 23 7 17 3 27 1 19-3 10-2 21-7 10-5 22-12 21-16 10-9 21-22 18-27 16-30 6-16 6-17 4-18 3-18 2-19 0-19-1-19-2-18-4-19-5-17-7-17-8-16-9-15-10-14-10-12-12-10-12-9-12-7-12-6-12-4-12-3-12-1-11 0-10 2-10 3-18 8-14 12-7 7-10 16-8 18-5 18-4 20-3 20-8 103-6 41-6 29-5 20-11 27-8 18-16 26-12 15-22 22-17 12-20 11-21 9-24 6-26 3-29 0-31-6-16-4-16-6-17-7-17-9-16-11-17-13-16-14-16-17-15-18-14-21-13-22-10-24-9-26-7-27-4-29-2-29 2-29 4-29 8-29 11-27 13-26 16-23 19-22 20-18 22-15 22-12 23-9 24-5 22-2 22 0 21 3 20 6 17 7 17 9 14 11 13 11 12 12 9 13 9 14 7 13 10 27 4 14 4 26 3 25 0 36-1 33-9 104-1 63 1 28 3 32 4 29 6 21 6 20 9 18 10 16 14 14 12 9 15 7 17 6 20 3 16 0 17-1 20-3 21-5 35-14 26-13 14-9 28-20 14-12 29-29 14-17 14-18 13-21 13-21 11-24 11-25 9-26 7-28 5-29 3-30 1-31-2-31-5-31-6-30-10-29-12-28-14-26-16-24-18-21-19-19-20-16-21-13-21-11-20-7-20-5-19-2-19 0-16 2-16 5-14 5-12 7-11 9-9 9-9 10-6 11-11 23-6 24-5 38-2 118-2 26-3 25-4 25-7 24-8 24-10 22-13 21-7 10-16 18-18 17-21 14-24 11-25 7-28 4-15 0-15-2-16-2-16-4-16-6-16-8-16-9-15-11-15-12-15-15-13-16-13-19-10-20-10-21-7-23-5-24-2-24 0-25 3-25 5-25 9-23 10-23 14-20 15-19 17-16 19-13 19-11 20-7 21-5 20-2 20 0 18 3 18 6 16 7 15 9 13 10 12 11 11 12 8 13 8 13 6 13 9 27 5 27 1 25-1 25-2 23-7 32-8 29-10 27-11 25-12 23-14 20-14 18-17 16-18 13-13 7-22 8-16 3-26 0-19-2-9-2-20-7-10-4-21-12-20-15-20-18-19-23-17-27-14-30-10-33-3-17-3-18-1-18 1-18 1-18 3-18 5-17 5-16 7-16 8-15 9-13 9-12 11-11 11-10 11-8 11-6 12-5 11-3 11-2 11-1 10 1 10 2 9 3 8 4 15 10 6 7 10 14 9 16 6 18 4 19 3 20 10 113 5 30 4 21 7 29 7 19 12 28 11 18 18 25 14 15 17 14 9 6 20 12 22 9 25 7 27 3 30 0 32-5 16-5 17-6 18-8 17-9 18-11 17-13 17-15 17-18 15-19 14-22 13-23 11-25 9-27 7-29 3-29 1-31-2-30-6-30-9-30-12-28-15-26-18-24-20-21-22-17-24-15-24-11-24-7-24-4-24-1-23 2-21 5-19 7-18 9-17 11-14 11-13 13-11 14-9 14-8 14-6 14-9 28-6 28-2 26-1 37 3 45 12 104 5 61 3 65 2 134 4 52 3 17 5 16 6 11 7 9 10 8 12 5 14 4 20 3"/></g></g>
<rect class="sp" x="45.6" y="190.5" width="182.00" height="125.80"/>
<path class="tk" d="M50.24 316.30v2.6M92.12 316.30v2.6M134.00 316.30v2.6M175.88 316.30v2.6M217.76 316.30v2.6M45.60 305.50h-2.6M45.60 283.66h-2.6M45.60 261.82h-2.6M45.60 239.98h-2.6M45.60 218.14h-2.6M45.60 196.30h-2.6"/>
<text class="l" transform="translate(50.24 327.70) scale(0.88 1)">−40</text>
<text class="l" transform="translate(92.12 327.70) scale(0.88 1)">−20</text>
<text class="l" transform="translate(134.00 327.70) scale(0.88 1)">0</text>
<text class="l" transform="translate(175.88 327.70) scale(0.88 1)">20</text>
<text class="l" transform="translate(217.76 327.70) scale(0.88 1)">40</text>
<text class="r" transform="translate(40.20 308.20) scale(0.88 1)">0</text>
<text class="r" transform="translate(40.20 286.36) scale(0.88 1)">10</text>
<text class="r" transform="translate(40.20 264.52) scale(0.88 1)">20</text>
<text class="r" transform="translate(40.20 242.68) scale(0.88 1)">30</text>
<text class="r" transform="translate(40.20 220.84) scale(0.88 1)">40</text>
<text class="r" transform="translate(40.20 199.00) scale(0.88 1)">50</text>
<text class="l" transform="translate(136.60 336.90) scale(0.92 1)">y</text>
<text class="l" transform="translate(27.90 253.40) rotate(-90) scale(1 0.92)">z</text>
<text class="t" transform="translate(136.60 185.90) scale(0.92 1)">Projection onto the yz plane</text>
<clipPath id="k4"><rect x="260.6" y="190.5" width="182.0" height="125.80000000000001"/></clipPath>
<path class="g" d="M289.54 190.50V316.30M320.42 190.50V316.30M351.30 190.50V316.30M382.18 190.50V316.30M413.06 190.50V316.30M260.60 302.87H442.60M260.60 286.78H442.60M260.60 270.69H442.60M260.60 254.60H442.60M260.60 238.51H442.60M260.60 222.42H442.60M260.60 206.33H442.60"/>
<g clip-path="url(#k4)" filter="url(#sh)"><g class="c" transform="scale(0.1)" style="stroke-width:3.8"><path d="M3516 2543l23 3 15 3 12 7 10 9 7 10 6 14 5 18 3 24-1 30-3 34-7 36-10 36-12 31-12 26-6 9-11 14-4 5-8 4-4 1-4-2-4-4-2-6 0-15 4-29 0-11-4-13-21-61-9-38-3-26-1-22 0-23 2-24 2-23 5-27 16-66 1-11 0-11-4-33-5-19-5-12-21-38-5-14-6-18-3-18-3-21-2-44 1-31 4-43 5-43 16-100 5-64 2-9 2-3 3 0 8 5 24 28 20 25 12 20 8 16 6 20 2 11 2 24-1 14-3 28-8 28-10 25-12 19-6 7-12 9-9 3-8-2-2-1-4-5-1-7 0-4 3-3 3-1 4 1 10 7 13 16 10 16 10 20 7 19 5 24 3 27-1 31-3 21-6 30-9 26-6 14-6 10-5 8-7 6-5 2-2 0-1-2 2-2 3 2 8 12 21 41 12 32 6 22 4 20 2 24 1 27-3 39-7 48-9 42-15 56-4 26-1 3-2 0-3-2-11-15-18-26-12-21-8-17-4-14-4-15-3-18-1-31 2-33 4-23 8-32 7-18 7-14 7-11 6-7 7-6 4-1 4 3 1 7-3 8-1 1-2-1-10-12-24-26-13-19-6-13-7-18-4-24-2-19-1-34 2-26 4-26 8-38 9-34 10-27 11-24 12-22 24 41 14 30 10 30 5 30 2 27-1 28-2 20-6 28-7 25-10 24-8 14-10 11 5 8 28 58 7 18 6 18 5 23 3 21 2 24 0 27-2 40-5 39-7 37-15 72-5 39-2 6-3 0-2-1-10-11-20-27-14-23-9-18-5-14-4-17-3-19-1-33 2-24 5-24 10-33 12-25 8-11 7-7 6-4 7 0 2 2 2 3 1 7-1 5-2 3-3 1-3-2-9-12-15-26-11-20-8-18-5-18-5-21-2-24-1-19 2-42 3-21 6-31 11-42 9-23 15-32 6 9 29 49 8 17 6 17 5 20 4 24 1 28 0 21-2 21-3 21-5 20-7 27-8 21-7 16-9 14-6 6-1 0 0-4-4-8-25-40-9-16-8-18-8-24-5-31-1-28 1-32 4-34 6-32 11-37 9-26 17-36 14 21 20 36 10 23 7 25 5 23 2 26-1 30-3 30-8 39-11 31-7 17-6 11-6 7-5 4 1-1-5-8-28-34-12-18-9-19-8-26-4-26-1-32 3-36 5-37 9-36 12-38 14-30 7-11 5-7 28 53 13 32 9 32 3 23 1 18 0 28-2 19-3 19-6 27-7 23-7 18-7 15-10 16 9 24 29 36 7 12 8 18 5 17 4 23 2 28 0 21-3 48-8 49-10 44-22 74-4 33-2 0-2-1-9-11-15-21-14-22-8-17-6-13-5-15-3-18-3-31 1-22 3-23 8-33 11-27 8-13 7-9 7-5 7-2 4 1 2 4-1 3-3 1-3-2-4-4-9-13-12-22-8-20-7-19-5-18-3-21-3-24 0-18 2-37 2-19 5-26 10-38 18-48 2-13 2 0 3 4 34 46 10 16 6 16 6 20 4 16 2 29 0 22-1 23-4 25-5 24-9 32-6 18-10 21-10 16-7 7-3 0-1-1-1-11-3-8-29-65-7-19-6-24-4-29-1-25 0-28 3-28 4-28 6-25 9-33 13-38 3-17 3 1 5 6 27 38 11 20 9 21 6 21 4 25 1 31-1 22-3 23-4 23-5 22-6 20-10 23-9 16-8 12-3 2-3 1-2-1-1-1-1-12-4-11-22-46-10-23-7-20-4-19-4-30-2-26 1-29 3-30 5-29 6-26 8-29 14-43 4-21 3 1 5 6 22 34 14 24 9 22 6 21 4 25 1 30-1 22-3 22-4 22-6 21-6 18-6 15-9 16-7 10-4 3-4 2-2-1-2-2 1-12-3-7-7-12-22-29-9-15-8-18-7-24-4-23-2-29 0-33 4-36 7-36 8-33 11-34 17-45 2-11 2 0 3 3 11 17 13 22 11 21 11 30 7 30 2 28-1 31-3 20-6 30-9 26-11 24-5 7-6 7-5 3-2 0-1-1 0-1 2 0 4 4 19 37 13 26 10 26 5 24 4 29 2 27-1 29-3 30-6 40-7 35-17 63-4 30-2 4-1 0-3-2-10-12-18-26-13-21-7-17-5-13-4-16-4-17-2-30 3-34 3-23 9-32 11-26 7-12 6-9 8-7 6-1 4 2 1 6 0 5-3 3-2 0-2-2-26-38-13-22-7-17-6-18-4-21-3-26 0-30 1-22 2-23 6-34 7-31 8-26 9-25 11-27 3-11 5 5 13 20 13 22 8 17 11 28 7 29 2 27 0 30-2 21-6 30-7 27-12 28-7 12-6 8-6 4-2 0 0-1 1-2 2 2 11 18 23 31 9 16 7 18 7 24 4 24 1 29 0 22-5 48-8 47-11 39-19 62-4 23-2 0-3-2-9-12-15-24-13-22-8-17-4-13-5-16-3-17-2-29 2-33 4-22 8-30 10-24 7-12 6-8 5-5 6-4 5 1 1 3-1 2-3 0-3-2-4-6-16-29-12-27-7-19-6-23-3-20-2-24-1-27 1-19 6-48 11-49 17-58 3-20 1-1 1-1 4 3 18 26 17 26 12 25 6 20 5 24 2 29 0 21-2 23-4 23-5 22-6 19-6 17-10 19-8 12-4 4-5 3-3 0-2-3 0-15-3-9-6-12-19-29-8-15-8-16-7-22-5-29-2-27 0-31 3-33 5-34 7-31 9-35 18-53 3-18 1-1 3 2 10 13 16 26 12 22 7 16 5 13 4 15 3 17 2 28-2 32-3 22-7 30-9 26-7 13-6 10-5 7-6 5-5 2-2-1-1-3 1-3 3 0 3 3 4 6 26 48 7 15 7 19 6 24 3 23 2 26-1 30-4 43-7 40-9 35-17 56-4 25-2 0-3-3-10-13-17-26-12-21-7-17-5-13-4-15-3-17-1-29 1-33 4-22 8-32 9-25 7-13 6-10 8-9 5-3 4 1 2 2 0 3-1 4-1 1-2 0-2-2-31-46-10-20-8-19-5-19-4-23-1-18-1-30 2-23 2-23 6-34 12-49 7-23 15-39 3-17 2 1 3 3 11 15 12 21 12 21 11 28 7 30 3 27 0 31-3 21-6 31-9 27-12 26-7 11-6 6-5 2-2-1-1-2 1-2 1 0 4 3 25 43 12 25 9 24 6 25 3 23 1 28-1 30-3 32-7 42-8 36-18 61-4 25-1 3-2 0-3-2-10-14-16-23-12-21-8-17-4-12-5-15-3-17-2-30 1-32 4-23 8-32 10-26 6-13 7-9 8-8 6-3 4 1 2 5-1 4-2 2-3-1-3-3-25-40-11-23-8-18-5-18-4-21-2-25-1-30 2-21 2-22 5-32 11-48 21-61 4-18 2 1 4 4 16 24 15 25 9 19 6 19 6 22 2 17 2 19-1 31-3 22-4 21-8 28-9 23-11 20-5 5-5 5-4 1-2-3 0-2 2-2 1 0 2 1 9 15 26 35 8 13 6 13 7 24 4 23 2 28 0 22-1 24-3 24-9 48-13 49-20 55-3 17-2-1-2-2-9-13-13-20-12-20-12-28-7-30-4-27 0-30 3-22 6-31 8-27 7-14 6-12 6-8 6-7 6-2 2 0 1 2-1 2-3-1-7-10-18-36-12-28-7-20-4-18-3-21-2-24 0-27 0-19 6-49 9-43 18-67 5-26 2 0 3 3 15 20 17 25 12 24 7 18 6 23 3 18 1 20-2 33-3 23-5 23-9 29-10 23-7 10-5 8-5 4-5 2-4-1-2-4 1-8 3-9 7 6 21 10 11 7 8 6 8 9 9 14 8 21 5 29 1 25-2 29-4 31-6 32-9 30-9 27-14 30-12 18-9 8-6 2-2-2-1-2 0-5 1-15-1-7-28-69-6-22-5-25-3-22-1-24 1-26 3-25 4-24 5-21 7-23 12-31 1-9-2-13-7-27-23-55-9-27-6-33-4-36 0-45 3-48 6-47 13-86 5-55 2-9 2-4 3-1 7 6 20 23 20 26 12 18 7 14 6 17 4 20 2 24 0 13-3 26-6 27-4 13-10 23-5 9-11 15-5 5-9 6-8 1-6-1-4-6-2-9 2-7 1-2 3-2 4 1 7 5 9 12 10 14 15 29 8 23 7 30 2 28-1 30-2 21-4 21-10 37-8 22-8 15-8 11-6 5-2-1 0-1 2-4-5-5-32-32-14-18-7-15-5-12-4-15-2-18-2-21 0-25 2-26 4-28 6-27 7-26 11-32 10-24 13-21 4-5 4-2 0 5 2 5 27 55 11 30 7 26 3 32 0 36-4 37-8 33-11 31-7 15-8 14-1 4 12 32 23 48 10 28 5 22 3 21 2 24 1 27-3 40-4 41-7 38-14 73-3 20-3 30-2 7-3 0-2-1-10-10-21-27-16-24-6-12-6-14-5-17-4-19-1-22 0-12 2-24 4-25 4-12 7-23 5-9 9-16 9-11 8-6 6-3 7 1 3 5 1 7-1 5-2 3-3 1-4-3-10-12-14-23-12-22-7-21-6-19-4-23-1-26 0-20 3-40 4-21 7-27 12-36 9-20 10-15 30 47 14 25 6 15 5 19 6 32 1 29-2 33-3 22-6 33-8 30-10 30-11 22-10 15-25-46-11-23-10-25-6-27-4-33 0-28 2-31 7-39 7-25 8-21 8-19 12-21 32 46 14 26 7 15 3 13 6 31 2 29-2 34-2 23-7 34-8 31-11 32-11 24-7 10-4 3-25-48-11-24-10-26-6-27-3-33 0-29 5-39 7-37 7-23 7-17 7-16 10-16 0-3 33 43 15 24 7 15 5 20 4 16 2 18 0 32-1 24-5 37-8 35-10 30-12 28-11 19-4 5-2 2-2 0-2-10-23-46-11-24-9-28-5-28-2-33 1-38 6-38 10-40 10-27 13-26 0-3 0-6 1 0 2 2 37 45 10 15 7 14 6 20 4 16 3 30 0 22-2 25-4 26-5 26-10 35-7 19-10 22-10 17-8 7-3 1-1-2 0-10-3-8-20-45-10-24-7-21-5-26-3-22-1-26 1-27 3-27 4-26 8-30 7-23 13-34 1-6-1-9 1-2 2 1 3 3 35 41 12 19 8 16 6 21 3 17 3 31-1 24-3 26-4 26-6 25-7 23-8 20-10 22-9 13-5 4-5 3-3 0-1-2-1-16-2-9-28-70-7-19-5-24-4-29-1-24 1-26 2-27 4-26 7-31 19-66 1-20 2-3 2 1 5 4 28 37 12 18 10 21 6 20 3 17 3 30 0 23-2 24-4 25-6 24-6 21-7 19-11 21-8 13-5 5-5 3-3-1-3-3 0-17-3-10-29-70-6-18-6-23-4-28-1-25 0-27 3-37 4-28 5-25 19-74 4-27 1-3 3 0 5 6 23 31 14 24 10 22 7 21 3 16 2 30 0 22-2 23-4 23-6 22-6 20-7 17-10 18-9 10-4 4-3 1-4-1-2-5 1-19-3-8-7-12-22-29-9-15-8-17-7-23-4-24-2-29 1-33 4-36 6-36 8-33 10-36 16-46 2-8 2-12 2 0 2 2 10 14 16 24 12 23 8 17 4 14 4 15 3 18 1 29-1 21-3 22-7 31-9 26-7 13-6 10-5 6-7 5-5 2-2-2 0-1 0-2 2-1 4 3 11 18 19 39 11 31 6 24 3 30 2 25-1 28-4 39-7 36-7 31-15 52-4 24-1 2-2 0-2-2-10-13-18-26-12-20-7-16-5-12-4-14-3-17-3-28 1-33 3-23 7-33 10-29 10-22 11-16 6-5 5-1 2 1 2 3-2 16 3 8 7 10 19 25 9 13 8 14 8 21 5 20 3 17 1 30 0 22-2 25-3 25-10 48-14 47-19 51-2 13-5-3-10-15-13-21-11-21-12-29-4-15-3-16-2-28 0-30 3-21 7-31 9-25 11-24 6-7 6-6 5-3 2 1 1 1-2 2-3-2-6-10-18-35-12-28-6-19-4-17-4-20-2-23 0-27 0-19 5-48 10-52 17-66 4-24 1-4 2 0 3 2 13 17 18 27 13 23 7 18 7 22 3 18 1 20-1 33-3 23-5 23-9 30-11 24-6 11-6 7-5 5-6 2-3-1-3-5 0-5 1-6 2-5 2 0 10 10 27 24 9 10 8 12 5 10 4 12 6 24 2 31 0 25-2 27-4 28-6 28-7 26-8 23-11 27-12 21-6 8-4 3-2 0 0-5-2-6-20-41-11-25-8-22-6-27-3-24 0-26 2-28 4-28 6-24 6-21 9-20 12-24-12-33-21-47-8-23-5-20-4-18-4-38 1-46 4-49 7-46 15-77 5-49 1-5 2-2 3 0 3 2 10 11 19 25 16 24 12 26 5 16 4 19 2 22 0 12-2 25-4 25-4 12-7 23-5 10-9 16-9 11-8 7-6 3-3 0-4-2-4-4-2-8 2-7 3-4 4 1 6 5 9 14 12 18 9 18 6 14 8 23 5 29 3 27-1 30-5 41-4 21-7 26-8 22-7 16-8 16-7 9-28-47-10-17-8-18-7-23-6-30-1-27 0-32 4-32 6-32 10-37 12-31 16-28 19 33 14 25 10 22 7 24 5 22 2 25 0 29-2 31-8 40-9 34-8 18-6 14-6 10-6 8-31-47-9-17-10-23-8-26-3-24-2-29 2-33 5-34 6-33 11-36 12-29 14-24 22 39 13 24 7 19 8 23 5 30 2 27-1 29-3 30-6 29-10 33-11 27-7 12-7 10 0 1-30-42-12-19-11-23-7-27-4-26-1-31 3-35 5-36 9-34 11-36 13-27 7-11 5-6 26 51 10 20 7 20 7 25 4 32 1 27-2 29-6 38-6 25-7 21-10 24-11 19 0 6-34-37-13-17-10-18-5-12-4-15-4-27-1-34 3-38 5-27 9-38 11-32 14-29 8-12 5-6 4-2 2 1 1 10 1 5 30 68 6 21 6 24 4 30 1 35-3 36-6 34-10 35-17 45-1 6 2 14-2 2-39-36-7-8-9-11-5-10-6-12-4-14-4-18-2-34 1-26 3-29 9-43 13-38 13-28 8-13 7-8 8-5 4 1 3 3 1 5 0 22 2 13 25 73 7 25 4 25 3 28 0 32-1 25-4 32-7 36-14 61-2 14 0 21-1 4-1 1-3-1-3-3-26-30-12-15-8-12-8-16-5-13-5-15-3-19-1-33 1-25 4-27 9-39 12-33 12-23 7-10 6-6 5-3 6 1 3 3 1 5 1 27 3 15 24 69 6 18 5 21 3 19 2 21 1 24 0 25-2 27-4 34-6 32-13 64-2 19-2 24-3 6-1 1-3-2-9-9-21-27-13-21-9-16-5-13-5-15-3-18-3-31 3-36 4-25 10-35 7-19 8-15 8-11 7-6 8-4 5 1 2 3 2 5 0 11-3 15-1 2-2 1-35-35-12-14-10-17-7-19-6-25-2-21 1-37 3-27 4-28 11-40 11-33 11-24 12-17 6-5 4-1 1 2 0 11 2 7 24 55 12 34 7 33 2 31 0 35-2 18-4 26-6 23-5 20-17 45-1 9 5 23 3 9 5 8 17 19 7 11 7 13 7 18 5 18 4 23 1 28 0 22-2 36-7 49-9 46-21 85-2 18-2 22-1 5-3 1-3-2-11-12-21-29-13-22-7-13-6-15-4-18-3-20-1-22 0-12 3-25 6-24 8-22 4-9 9-16 4-6 9-8 7-4 5-1 5 2 3 5-2 4-3 1-3-1-5-4-12-16-13-24-8-19-7-23-4-21-3-25 0-27 1-19 2-19 6-27 6-25 7-19 8-18 11-19 0-2-4-16-2-4-21-14-10-8-10-13-6-11-7-16-3-14-3-16-2-20 0-36 2-26 3-28 6-28 6-26 9-35 10-27 17-44 1-7 0-11 2 0 3 3 11 14 14 24 11 19 8 17 4 14 5 16 3 17 1 30-1 21-3 22-8 30-10 25-10 17-5 8-7 5-5 2-2-1-1-1 1-1 2 0 4 4 6 8 7 12 14 32 9 28 6 23 4 29 1 33-2 27-3 26-6 33-8 34-13 45-2 9-1 13-1 3-2-1-4-4-21-26-12-17-10-16-7-16-5-13-3-15-3-17-2-31 2-36 3-24 9-36 10-30 11-22 11-17 6-5 4-1 2 2 2 2 0 17 3 12 27 63 7 18 5 22 4 19 2 23 1 25-1 27-2 29-6 36-8 38-14 52-4 26-2 3-2 0-3-2-10-14-19-27-12-20-7-17-5-13-4-15-3-17-2-31 1-22 3-23 7-35 10-29 10-22 7-11 5-7 7-5 4 0 3 1 1 4-1 19 3 10 7 11 19 26 8 14 8 15 5 15 5 19 4 24 2 29-1 22-4 47-9 46-12 47-18 53-4 22-2 0-3-2-9-13-16-24-12-23-7-17-5-13-4-15-3-18-2-29 2-32 4-22 8-30 10-24 6-12 6-8 5-6 6-4 5 0 1 4-1 2-3 0-7-9-17-33-13-27-6-19-5-17-3-21-3-23 0-27 0-19 6-49 5-28 6-24 18-62 3-21 2-1 4 2 18 25 17 27 12 26 6 20 5 24 2 29 0 22-3 22-4 23-5 21-6 19-6 17-10 17-8 11-4 4-5 1-2 0-2-3 0-5 1-10-2-7-7-10-20-24-12-16-8-15-8-23-3-15-3-17-1-30 1-36 5-38 8-37 9-33 11-33 16-39 2-10 2 0 3 4 12 18 13 23 9 18 11 30 7 30 2 28-1 30-3 21-6 29-9 25-11 24-5 7-6 6-5 3-2 0-1-1 1 0 2 0 4 6 19 37 13 29 9 28 5 24 3 30 1 26-1 29-3 29-6 37-7 32-14 59-4 30-2 4-2 1-3-2-9-11-19-27-13-22-8-16-5-13-4-15-3-18-2-30 2-35 4-23 9-33 7-18 7-15 7-11 6-8 7-5 5 0 3 1 1 3 1 7-3 10-1 1-2-1-33-39-12-18-9-19-6-19-4-25-2-19 0-35 3-25 3-25 8-37 10-32 9-26 10-22 12-20 23 41 13 29 10 28 6 29 2 26 0 28-2 20-5 29-7 25-9 27-11 19-9 11 3 6 11 23 22 43 7 14 6 19 5 25 3 22 2 27-1 30-3 31-6 43-7 37-16 68-3 17-2 23-2 5-2 1-2-1-9-10-19-26-15-23-8-18-6-14-4-16-4-19-1-33 2-23 4-24 10-33 12-25 8-12 8-7 6-4 6 0 4 2 2 7-1 4-2 3-3 0-3-2-9-10-13-22-10-20-9-23-5-17-5-21-3-24 0-18 1-39 3-21 5-29 11-41 9-23 12-28 2-7 3 3 8 12 19 29 9 17 9 19 6 18 5 22 2 17 1 29-1 21-2 22-3 22-5 21-8 28-8 22-8 15-7 12-7 6-1 0-1-5-3-7-24-43-11-23-7-19-6-26-5-32 0-28 2-31 4-31 6-29 9-33 9-23 12-28 2-8 3 2 6 8 23 39 11 21 8 22 5 20 4 25 1 29-2 31-3 22-4 21-10 37-8 20-8 15-7 11-6 5-1 0-1-6-4-8-24-40-9-16-8-18-7-23-5-30-2-27 1-31 3-33 6-33 10-37 9-29 18-43 5 6 11 18 20 35 10 25 8 26 4 33 1 29-3 31-3 21-4 20-8 26-11 25-10 17-5 5-4 2 0-1 1-2-4-7-30-33-13-18-9-18-4-13-4-14-4-27 0-34 3-38 7-39 9-37 14-37 13-28 5-8 6-6 0 0 2 7 23 42 11 25 9 29 6 28 2 26-1 27-1 20-5 28-6 25-9 27-8 17-12 19 13 31 26 47 6 15 5 15 5 24 3 23 1 27 0 30-3 32-6 43-8 39-15 71-3 18-2 24-2 5-3 1-3-2-10-11-18-25-15-24-9-19-6-15-4-17-3-20 0-34 3-25 5-24 11-31 13-23 12-12 6-4 7 0 4 4 1 7-1 4-3 2-3-1-4-3-10-13-14-24-9-20-7-20-5-19-4-22-2-26 0-18 3-40 3-20 6-27 11-36 8-19 11-20 1-5 6 7 29 45 13 24 6 17 4 14 3 15 2 18 1 20-1 22-2 22-3 24-5 22-8 30-9 25-8 17-8 14-7 9-1 0-4-10-21-39-10-22-7-19-7-24-5-30-1-26 1-29 3-30 5-28 9-33 11-28 12-27 1-6 8 9 30 46 11 21 6 17 5 21 4 26 0 31-1 22-3 23-4 23-11 42-8 24-8 17-8 13-4 5-4 3-1-1-1-5-3-6-21-42-10-22-8-20-6-24-4-31-1-26 1-29 3-30 6-28 9-32 8-23 13-30 2-8 2 2 5 6 29 44 10 20 9 23 5 21 3 27 1 31-2 22-3 23-4 23-11 40-9 23-8 16-8 12-6 6-2-1-1-6-3-8-21-39-10-22-7-19-7-24-4-30-1-27 1-29 3-29 5-29 8-33 9-25 14-34 2-8 2 1 5 6 26 41 11 20 8 21 6 21 4 25 1 29-2 33-3 23-4 22-11 38-9 22-8 15-7 11-6 5-2-1-1-7-3-8-31-60-7-18-7-23-5-30-2-26 1-29 3-31 5-30 9-35 8-27 15-37 2-11 3 2 6 8 25 40 11 21 8 23 5 21 4 26 0 30-2 32-4 22-4 21-12 35-5 13-8 15-8 11-6 5-1-1-1-7-4-9-25-42-10-20-8-19-5-18-5-31-2-28 1-31 4-34 6-32 10-37 9-28 14-35 2-10 2-1 5 7 12 19 19 33 11 26 7 27 3 17 1 18 0 29-3 32-4 20-5 20-8 24-8 18-11 17-5 5-3 1-2-1 1-2 1-1 1 1 1 2-5-6-35-15-8-5-10-8-6-8-6-11-5-14-5-19-2-23 0-13 1-30 5-33 3-17 9-33 10-30 5-13 11-22 5-8 9-12 8-6 6-2 2 0 3 2 3 6 1 9-3 23 0 10 5 15 18 49 7 23 6 30 4 35 0 31-4 40-8 42-15 60-1 12 1 12 4 26 4 16 5 11 14 24 8 15 5 14 6 19 4 18 2 22 2 26 0 30-2 32-5 45-20 122-3 27-3 38-3 9-2 2-4-1-10-10-27-33-16-22-8-15-7-16-6-20-3-23 1-26 4-28 7-27 5-12 11-22 11-15 6-5 10-6 8-1 6 3 3 4 2 6-1 5-3 3-4 0-6-3-6-5-8-10-14-22-10-20-6-19-6-23-3-26 1-30 2-21 4-21 7-28 9-22 11-20 10-10 4-2 1 2-1 1-2-1-6-8-23-46-11-25-6-20-4-18-5-38 0-27 0-19 6-51 9-46 18-74 5-30 1-1 2 0 7 7 16 22 14 22 8 14 8 18 4 14 4 16 3 28 0 33-3 23-7 34-7 20-7 16-7 13-7 9-8 8-6 1-4-2-1-5 0-6 2-4 3 0 3 3 28 42 14 24 7 21 5 20 4 24 1 29-1 21-1 23-4 23-6 34-13 46-9 25-11 27-3 11-2-2-5-6-18-29-12-23-9-21-8-26-3-16-2-17 0-19 0-21 4-31 4-20 5-18 11-30 8-14 6-9 7-6 2-1 1 2-1 1-2-2-10-17-28-40-9-18-7-21-6-29-2-28 0-32 4-35 5-36 7-33 10-37 16-51 3-12 1-13 1-2 3 1 3 3 15 20 16 26 10 21 8 20 4 15 3 17 2 20-1 32-3 22-5 21-9 29-10 22-10 13-5 5-6 3-4-1-2-3 2-3 2 0 4 2 4 7 16 29 13 28 6 18 6 24 4 21 2 25 0 27-1 19-7 48-11 48-17 55-3 18 0 1-2 0-4-4-20-28-15-24-11-25-6-20-5-24-2-29 0-21 2-23 4-23 5-21 6-20 10-24 8-16 8-10 4-3 4-2 2 1 1 2 0 14 3 9 33 57 8 16 7 22 5 28 2 27-1 41-3 34-6 32-6 30-10 32-15 46-4 19-2 0-3-4-10-14-15-24-12-22-7-16-4-13-4-15-3-17-2-29 1-31 4-22 7-31 9-25 6-14 6-9 8-10 5-4 5 0 1 3-1 3-2 1-5-6-29-50-9-19-5-14-7-25-3-22-2-28 1-30 4-44 8-42 9-35 18-57 4-23 2 1 3 2 8 11 17 25 12 21 12 29 4 15 3 16 3 29-2 32-3 22-7 32-9 26-7 14-6 10-8 10-6 4-4 0-2-2 0-3 1-3 2-1 2 1 3 3 26 44 12 24 7 19 5 19 3 22 2 18 0 29-1 21-2 22-5 32-11 48-21 64-4 22-2 0-2-3-9-12-16-25-12-21-12-28-4-14-3-16-3-28 1-32 3-21 6-32 9-27 7-15 6-11 8-11 6-5 5-1 2 1 0 3 0 3-2 1-2-1-3-2-32-52-7-14-6-13-7-23-4-23-2-27 1-31 4-45 8-44 12-46 18-52 3-19 2 1 4 3 11 16 14 22 12 22 7 18 4 13 4 15 3 17 2 29-2 32-4 22-8 30-9 25-6 12-6 9-5 6-6 5-5 1-2-2 0-2 1-3 2 0 6 6 24 43 11 24 7 20 4 18 4 21 2 26 0 28-1 21-2 21-5 31-8 37-20 69-3 11-1 13-2 3-2 0-3-3-10-14-15-23-12-21-7-16-5-12-4-15-3-16-3-29 1-32 3-23 8-32 9-27 7-14 6-11 8-9 6-4 5-1 1 2 1 4-2 6-1 1-2-1-30-42-14-25-10-26-6-29-2-28 0-32 3-35 6-36 10-42 11-32 16-42 3-13 2 2 5 5 15 25 13 22 9 20 6 18 4 15 3 16 2 18 0 30-2 21-3 21-7 29-9 23-11 22-5 6-6 6-4 2-2-1 0-1 1-2 1 1 5 5 28 53 11 27 8 28 4 29 2 35-2 41-6 41-9 46-18 69-4 26-2 4-3-1-5-5-20-28-15-25-10-23-5-13-4-16-3-18-1-20 2-34 5-34 6-21 7-18 7-16 7-11 9-10 7-4 3 0 2 1 2 2 0 3 0 6-3 2-2 0-4-4-28-45-9-17-6-14-7-24-4-22-2-26 0-31 4-44 9-43 9-35 20-56 4-14 2 0 3 5 16 24 14 24 9 19 6 18 6 21 2 16 2 19 0 30-2 21-4 21-7 29-8 24-11 22-11 13-4 2-2 0-1-1 1-3 3 1 10 15 24 29 12 19 6 13 6 18 4 23 2 19 0 32-1 24-3 26-7 37-11 45-11 34-15 40-3 15-2-1-5-6-20-31-12-22-10-23-8-30-3-27 0-30 4-32 5-20 5-19 6-16 7-12 6-10 7-8 7-5 2 0 1 2-1 2-2-1-6-7-22-44-12-32-8-34-4-38 0-35 3-38 5-37 9-38 14-53 4-26 1-3 2 0 2 2 6 6 20 28 11 18 10 20 7 19 4 15 3 17 2 19-1 33-2 23-4 23-9 32-11 25-9 17-6 7-5 4-5 2-3-1-2-6 1-17-2-8-6-9-22-27-10-16-8-17-8-23-4-23-2-28 0-34 4-37 6-37 8-33 11-37 18-48 3-17 3 2 4 5 15 23 14 24 10 21 7 19 3 16 3 17 2 19-1 31-3 21-4 21-9 28-9 21-9 14-5 6-6 4-4 1-2-3 2-1 3 1 7 11 18 34 12 29 6 19 4 18 3 21 2 24 0 27-1 19-5 48-9 42-18 65-3 25-2 2-2 0-10-12-21-31-15-26-7-18-6-22-3-17-2-20 1-32 3-23 4-23 9-31 10-25 10-16 5-7 5-4 5-2 3 1 2 5-1 16 2 7 6 9 22 24 11 15 9 16 7 23 5 24 2 29-1 35-4 38-7 39-9 34-12 36-18 44-2 12-2-2-6-7-17-28-11-21-9-21-9-28-3-16-1-18 0-30 3-31 5-20 5-19 6-15 6-13 5-10 8-9 6-6 3 0 1 1-1 0-2-1-5-7-20-40-12-28-8-31-5-27-2-31 0-37 4-37 8-44 18-76 3-14 1-17 2-4 3 0 3 3 18 23 18 28 10 20 10 27 4 26 2 31-3 34-4 24-8 32-7 19-11 20-7 9-5 6-6 3-5 0-2-4-1-6 3-18 4 4 8 4"/></g></g>
<rect class="sp" x="260.6" y="190.5" width="182.00" height="125.80"/>
<path class="tk" d="M289.54 316.30v2.6M320.42 316.30v2.6M351.30 316.30v2.6M382.18 316.30v2.6M413.06 316.30v2.6M260.60 302.87h-2.6M260.60 286.78h-2.6M260.60 270.69h-2.6M260.60 254.60h-2.6M260.60 238.51h-2.6M260.60 222.42h-2.6M260.60 206.33h-2.6"/>
<text class="l" transform="translate(289.54 327.70) scale(0.88 1)">−200</text>
<text class="l" transform="translate(320.42 327.70) scale(0.88 1)">−100</text>
<text class="l" transform="translate(351.30 327.70) scale(0.88 1)">0</text>
<text class="l" transform="translate(382.18 327.70) scale(0.88 1)">100</text>
<text class="l" transform="translate(413.06 327.70) scale(0.88 1)">200</text>
<text class="r" transform="translate(255.20 305.57) scale(0.88 1)">−150</text>
<text class="r" transform="translate(255.20 289.48) scale(0.88 1)">−100</text>
<text class="r" transform="translate(255.20 273.39) scale(0.88 1)">−50</text>
<text class="r" transform="translate(255.20 257.30) scale(0.88 1)">0</text>
<text class="r" transform="translate(255.20 241.21) scale(0.88 1)">50</text>
<text class="r" transform="translate(255.20 225.12) scale(0.88 1)">100</text>
<text class="r" transform="translate(255.20 209.03) scale(0.88 1)">150</text>
<text class="l" transform="translate(351.60 336.90) scale(0.92 1)">y</text>
<text class="l" transform="translate(233.00 253.40) rotate(-90) scale(1 0.92)">w</text>
<text class="t" transform="translate(351.60 185.90) scale(0.92 1)">Projection onto the yw plane</text>
<clipPath id="k5"><rect x="476.6" y="190.5" width="180.79999999999995" height="125.80000000000001"/></clipPath>
<path class="g" d="M497.56 190.50V316.30M528.48 190.50V316.30M559.40 190.50V316.30M590.32 190.50V316.30M621.24 190.50V316.30M652.16 190.50V316.30M476.60 302.87H657.40M476.60 286.78H657.40M476.60 270.69H657.40M476.60 254.60H657.40M476.60 238.51H657.40M476.60 222.42H657.40M476.60 206.33H657.40"/>
<g clip-path="url(#k5)" filter="url(#sh)"><g class="c" transform="scale(0.1)" style="stroke-width:3.8"><path d="M5597 2543l1 1 14 10 8 8 12 13 10 14 19 30 23 42 22 52 18 54 11 45 3 21 0 14-1 5-3 4-4 0-7-5-26-37-27-29-7-12-4-13-2-12-1-11 2-26 6-33 17-71 8-39 5-35 1-18 0-15-3-19-7-18-8-12-26-35-12-18-7-13-2-12 1-11 4-16 28-82 14-46 11-42 7-33 6-42 3-38 0-32-3-26-5-21-9-21-5-10-6-8-7-6-4-3-7-1-6 0-6 4-4 3-5 8-2 6-3 16 2 15 5 18 11 24 34 69 13 28 15 41 3 12 4 19 0 12-2 4-2 2-3 1-3-1-8-2-22-14-10-4-5-2-7 0-5 3-4 5-3 7-1 9 1 16 5 20 43 122 10 40 4 23 0 17-1 8-3 4-3 3-4 1-6 0-22-4-6 1-6 3-7 7-4 8-3 11-1 11 1 17 5 24 33 107 15 59 5 28 3 25 1 21-1 22-5 18-8 14-5 7-6 5-8 4-6 2-6 0-5-2-5-3-4-4-5-12-1-8-1-10 2-16 6-20 37-95 12-34 7-22 5-21 4-25 1-13-2-12-5-6-3-1-4 1-8 3-24 12-10 3-10 0-9-3-8-5-4-7-2-8 1-10 3-11 33-69 12-30 14-36 13-39 10-38 7-34 3-27 0-14-2-10-2-7-2-6-7-5-11-3-16-1-10 3-9 6-6 8-5 12-1 9-1 11 1 12 3 15 7 25 25 76 11 39 8 35 2 15 0 17-1 8-2 6-2 4-3 3-7 3-15 2-8 2-8 4-7 6-5 7-4 8-2 10-1 10 0 15 4 21 38 123 10 40 6 29 4 28 3 32-1 25-3 19-6 18-8 15-12 12-7 4-5 1-6 0-4-2-5-3-3-5-5-12-1-17 2-17 5-17 42-102 17-48 5-21 4-18 1-13-2-9-1-3-3-4-7 0-7 3-25 15-7 3-7-1-6-3-6-8-4-11-1-14 2-15 5-21 37-107 10-32 8-32 5-28 3-24 0-18-2-13-4-11-4-5-5-3-6-3-9-2-7 0-7 1-5 2-5 3-7 8-5 11-2 15 2 18 5 23 37 104 15 52 4 20 4 25 1 19-1 14-2 6-2 4-5 4-5 1-8 1-10-1-19-4-9-6-7-8-4-12-1-13 1-14 5-19 38-103 11-32 9-34 7-31 4-27 1-21-2-19-5-10-5-5-4-3-7-2-8-2-7 0-8 1-9 5-7 10-5 12-1 14 1 19 7 25 33 98 14 51 4 18 4 24 1 19-2 12-2 6-2 4-3 2-5 2-11 1-34-2-9-4-7-6-4-10-2-10 2-11 5-15 41-94 13-35 12-38 9-37 6-32 3-25 0-12-2-10-2-6-3-5-6-5-11-2-15 2-11 3-8 7-6 8-4 11-2 19 1 11 2 14 7 28 26 83 11 38 9 43 1 13 0 16-3 14-6 7-7 4-27 7-18 9-8 6-6 6-3 6-1 7 1 10 4 14 29 67 15 38 12 35 11 36 8 37 8 44 1 34-2 24-5 16-8 14-11 11-8 5-6 2-6 1-5 0-9-5-7-9-4-15-1-12 1-9 4-22 11-28 28-71 12-34 9-32 3-17 1-13-1-5-2-7-2-2-3-2-5 0-5 1-22 7-7 0-5-2-6-5-3-7-3-9-1-11 2-21 5-24 30-99 14-56 4-25 2-21 0-16-2-12-5-13-8-9-7-4-10-4-9-3-7-1-9 2-5 3-3 3-5 10-2 13 1 14 5 18 44 107 12 36 11 36 7 32 4 26 0 18-2 8-2 5-3 3-3 2-9-1-20-8-13-8-8-9-5-10-3-10-2-14 2-21 5-23 31-106 14-56 4-25 2-21 0-17-2-13-5-14-8-10-7-6-8-4-8-3-6 0-6 0-5 2-4 3-3 4-3 6-3 7-1 14 2 16 5 17 41 105 12 34 10 35 6 30 3 23 0 16-2 7-3 5-3 2-3 1-9-1-22-10-13-9-8-7-4-9-4-11-1-12 1-19 5-21 34-109 16-59 5-28 3-24 0-19-2-19-5-16-8-11-6-5-8-4-7-2-6-1-5 0-5 3-5 3-3 4-5 11-1 16 2 19 5 19 37 99 17 55 5 21 5 26 1 18-2 12-3 5-3 2-7 1-7-2-42-17-9-6-6-7-3-8-1-9 1-12 4-14 29-68 15-40 12-34 10-37 9-34 6-40 0-22-2-21-5-12-8-9-12-6-12-2-10 1-8 5-6 8-5 11-1 10 0 11 3 23 7 24 28 78 13 42 9 37 2 15 0 12-1 9-2 6-3 4-3 2-7 1-17-2-7 0-8 2-7 4-5 6-4 8-3 10-1 11 1 16 4 22 36 113 11 40 7 30 4 28 3 32 0 18-3 20-5 16-9 13-6 6-6 5-7 3-6 1-6-1-4-1-4-4-4-4-3-6-2-8-1-16 2-16 6-22 39-99 15-45 6-21 3-18 2-14-1-15-4-7-6-1-8 2-19 10-7 3-8 2-8-2-8-4-5-7-5-10-1-11 2-15 5-18 41-108 10-34 10-34 7-32 4-28 0-27-2-19-5-10-5-5-5-4-6-3-9-3-6 0-6 0-6 2-4 3-7 9-5 11-2 14 2 20 5 20 34 99 15 51 4 19 4 23 0 13-1 12-4 8-3 2-3 2-7 0-16-2-9-1-9 2-10 4-8 5-5 7-4 8-1 8 1 10 5 16 30 73 19 51 11 36 9 36 7 33 4 38 0 27-4 17-6 12-10 11-12 7-8 2-5 1-5-1-5-3-7-7-6-11-2-17 1-17 6-22 43-119 12-41 4-24 0-12-1-8-3-5-3-3-4-1-5 0-17 6-8 1-7-1-6-4-5-6-4-7-2-10-1-10 1-20 5-21 33-108 14-58 5-26 2-23 1-19-2-19-5-16-8-11-6-6-7-4-7-3-7-2-5 1-5 1-8 7-3 7-2 6-2 16 2 17 6 20 38 99 18 57 5 21 5 26 1 19-2 12-3 4-3 2-4 1-5-1-9-3-35-18-8-7-6-7-4-11-1-10 2-14 4-16 40-110 14-44 9-34 6-31 3-27 1-28-3-19-5-12-8-9-12-8-12-4-9 1-7 4-7 8-4 12-1 9 0 11 3 23 10 31 28 74 14 43 9 38 2 15 0 12-3 11-2 4-4 2-7 1-18-6-9-1-7 1-8 3-6 6-5 9-3 9-1 10 2 16 5 22 37 108 9 31 8 32 6 30 4 35 1 20-3 20-5 16-9 12-6 6-7 4-6 2-7 1-6-1-4-2-7-7-6-13-1-15 2-20 6-22 36-96 11-33 6-22 7-35 1-13-1-14-4-6-6-2-7 1-18 8-9 2-8 0-8-2-7-5-6-7-4-10-1-10 2-14 4-16 39-103 15-44 9-35 7-32 4-28 1-29-3-19-5-12-8-9-12-7-11-3-10 1-7 4-6 8-5 11-1 9-1 10 2 13 3 15 7 25 26 70 14 43 10 39 2 16 1 18-1 8-2 5-3 4-4 1-7 0-17-4-7 0-9 1-7 4-6 6-5 8-3 9-1 11 1 15 4 17 37 109 12 42 8 32 6 30 3 34 1 20-3 20-4 14-7 12-12 10-11 6-10 0-4-1-4-3-6-7-5-12-1-9 0-10 4-23 7-24 28-72 16-45 11-41 3-17 1-13-1-9-2-6-3-4-4-1-8 1-19 8-7 2-9 1-8-3-6-5-5-8-3-9-1-12 2-16 4-18 39-108 9-32 9-33 6-31 5-34 0-20-2-19-5-13-4-6-5-4-13-8-8-2-6 0-6 1-4 2-7 8-5 13-2 14 2 20 5 21 37 102 15 53 7 34 1 13-1 14-4 7-3 3-4 1-7-1-16-5-10-1-9 0-10 3-8 5-6 7-3 7-1 10 1 9 4 13 40 98 16 46 11 36 8 36 6 40 1 30-3 20-5 12-5 6-5 4-7 4-7 3-7 2-7 0-5-2-5-2-7-8-5-11-2-16 1-17 5-22 10-28 24-65 10-32 10-39 4-23 0-12-2-8-2-5-3-3-8-1-18 3-8 1-7-2-7-5-5-7-3-8-3-10 0-9 1-19 4-20 35-115 14-58 5-27 3-30-1-24-3-17-5-14-10-13-12-8-6-3-6-1-5 1-4 2-5 4-3 4-5 13-1 14 3 20 6 20 37 96 12 34 6 23 5 20 4 25 1 13-2 12-4 5-4 1-4 0-8-3-18-10-9-4-12-3-13-2-13 0-9 2-5 3-2 5 3 9 27 39 20 34 18 35 18 44 17 48 11 44 6 34 1 17-1 10-3 7-3 2-6 0-8-4-33-22-7-7-8-11-5-14-2-13-1-11 3-28 7-29 19-70 10-42 5-31 2-29-2-15-3-9-4-6-6-7-23-20-7-9-6-8-7-16-3-17 1-17 4-21 34-121 9-38 8-39 4-37 2-32-1-28-4-27-6-21-8-17-10-13-9-6-6-2-5 1-5 3-4 3-6 12-2 10-1 7 2 19 6 18 10 22 31 66 12 26 14 40 9 32 1 8 0 12-2 4-1 2-3 1-2 0-7-1-32-22-7-3-5-1-6 2-6 6-4 10-1 11 1 18 7 25 32 90 16 52 4 20 5 25 1 14-1 15-1 6-3 5-3 3-5 1-6 0-24-4-22-1-9-2-8-4-5-7-1-8 1-8 3-10 30-58 13-28 15-36 14-40 13-41 8-37 4-30 1-15-1-11-4-10-3-4-3-2-6-1-5 0-18 4-12 5-9 7-6 9-4 12-1 9-1 11 1 12 3 15 7 30 24 75 10 37 6 33 2 14 0 17-2 15-2 5-4 5-6 4-17 6-7 4-9 6-7 8-5 8-4 9-1 7-1 10 1 16 4 20 35 112 11 40 8 41 5 29 3 33-1 28-3 26-7 19-9 16-10 11-6 4-5 2-5 0-5-1-5-3-4-5-5-12-2-9 0-8 2-19 6-17 36-84 15-37 11-36 7-29 1-7-1-11-1-4-3-4-5-1-5 1-29 18-7 3-6 0-7-3-5-7-3-9-1-13 1-16 4-22 37-109 14-51 4-19 4-24 1-14-1-16-3-13-4-5-4-4-13-3-20 0-11 4-9 7-5 11-2 14 1 14 4 18 44 120 14 45 7 33 6 35 0 24-2 9-3 8-4 5-7 3-11 2-12-1-8-3-8-5-6-7-4-9-3-12 0-13 2-19 5-19 35-104 13-50 4-19 4-24 0-18-1-14-4-11-4-4-5-3-6-2-10-1-19 1-10 3-8 7-5 10-2 13 1 12 5 17 45 119 15 47 8 33 6 38 1 25-2 9-2 6-4 6-5 4-10 1-12 0-11-3-8-5-7-7-4-9-3-12-1-12 2-19 6-25 34-104 12-49 4-18 3-23 0-17-1-13-5-10-4-4-4-3-16-4-21-1-10 2-8 6-5 10-2 11 1 14 5 16 33 77 16 44 16 49 9 35 6 38 1 14-1 11-2 8-3 8-5 3-7 2-12-1-13-4-8-4-7-6-5-7-4-10-2-11-1-13 2-20 5-20 31-101 12-48 7-40 1-18-2-13-3-11-4-6-5-3-15-6-15-4-9-1-10 1-8 5-5 8-2 12 0 10 4 14 37 81 14 33 13 38 12 39 8 35 3 19 2 16-1 12-1 8-4 8-5 2-9 0-14-5-12-7-10-7-6-7-4-10-4-12-1-13 1-18 5-25 31-106 10-45 5-24 2-20-1-17-1-12-5-13-8-9-17-10-18-7-6 0-4 1-5 1-4 3-5 9-2 12 1 11 4 15 44 97 14 37 13 39 10 37 6 31 1 22-2 13-3 4-3 3-7 0-14-7-22-15-8-9-6-11-3-11-2-14 0-21 6-28 28-103 12-53 4-24 1-20 0-17-2-16-5-14-9-12-14-11-8-4-7-2-5 0-5 1-4 3-4 3-5 12-1 15 2 15 5 16 40 94 13 36 12 37 8 33 5 27 0 19-2 7-2 5-5 3-4 0-5-2-20-13-16-12-8-9-5-10-3-12-2-12 1-19 5-25 34-117 9-38 5-27 3-24 1-26-1-20-5-18-6-11-10-11-11-8-6-2-5 0-6 1-3 2-5 4-2 4-5 12-1 14 2 15 5 19 40 101 12 35 7 23 6 21 4 26 1 13-2 13-2 4-4 2-3 1-4-1-8-4-22-13-24-12-8-6-5-7-3-7-1-8 1-11 4-13 41-100 15-45 11-37 8-35 6-41 1-29-3-20-5-13-5-6-5-5-7-4-7-4-8-1-7 0-5 1-5 3-6 7-5 12-2 17 2 18 3 16 7 20 27 73 11 32 10 40 4 24 0 11-1 8-3 5-3 3-8 2-19-5-7 0-7 1-6 5-5 6-3 8-3 10 0 10 1 19 4 21 33 108 10 38 6 29 4 26 2 22 0 18-2 19-5 15-8 12-6 5-7 5-7 3-6 1-5 0-6-2-4-4-3-4-5-11-2-16 3-19 6-21 36-93 19-57 5-21 5-26 1-14-1-13-3-5-3-3-3-1-4 0-7 3-24 12-23 9-8 6-6 6-3 7-1 9 1 11 4 13 28 63 15 39 12 34 12 38 9 36 6 33 2 26 0 26-5 15-3 6-4 5-7 6-8 3-9 3-7 0-7-1-4-2-5-3-4-5-5-12-2-16 1-16 4-22 7-19 25-72 11-31 10-40 4-23 0-17-2-7-2-5-4-2-3-1-6 0-20 3-7-2-6-3-6-6-5-8-3-11-1-12 1-17 5-25 32-106 10-39 6-28 5-27 2-30 0-23-3-17-6-14-10-14-12-9-6-2-5-1-6 0-4 2-5 5-3 4-4 13-1 15 2 15 6 21 37 94 12 34 7 23 5 21 5 26 0 13-2 12-4 6-4 1-3-1-8-3-18-10-9-5-12-3-11 0-10 2-8 4-4 6-1 8 1 6 4 10 30 57 19 40 16 38 10 28 12 42 9 38 4 30 0 20-2 9-3 6-3 3-3 2-6 0-8-1-23-6-11-7-7-10-5-12-2-16 1-21 4-20 35-120 8-35 4-29-1-20-1-7-4-7-7-6-24-11-12-10-5-8-5-10-3-9-1-12 0-15 4-20 39-134 9-39 7-38 4-35 0-34-4-26-3-13-5-13-8-13-10-11-9-5-8-1-8 4-7 9-4 14 0 15 4 20 7 19 38 88 19 50 9 33 2 16 0 11-1 4-3 5-2 1-5-1-9-4-25-17-7-2-7 0-6 3-6 8-3 10-1 13 2 17 6 23 36 104 15 52 4 19 4 25 1 14-1 16-3 13-4 6-5 3-4 2-8 0-19-1-11-3-5-4-4-4-5-12-3-14 2-18 5-20 42-117 13-43 7-31 5-35 0-23-2-9-3-8-4-5-7-4-11-2-12 0-9 2-8 5-6 8-4 9-2 11 0 12 2 19 5 20 36 104 14 52 4 18 3 25 1 18-1 14-5 10-4 4-4 3-16 1-19-1-10-4-8-8-4-11-2-12 1-14 4-18 45-120 14-45 7-33 5-28 2-27-3-18-4-7-4-5-10-3-13-1-10 2-9 4-7 7-5 9-3 11-1 15 3 19 4 20 35 104 13 50 4 18 4 24 0 18-1 13-5 10-4 4-4 3-7 1-11 1-21-1-10-3-7-7-4-10-2-12 1-11 5-17 43-107 16-47 10-36 6-32 4-33-1-12-1-8-4-9-4-5-8-3-12 0-13 2-10 5-7 8-5 8-3 12-1 12 1 19 5 25 33 103 13 48 3 17 3 23 1 17-2 13-4 10-5 4-4 3-7 2-22 4-14 2-10-1-8-6-4-8-2-10 2-12 5-14 31-65 19-44 14-38 12-40 9-37 4-20 1-17 0-12-2-9-2-6-5-4-7-1-11 3-18 8-10 8-6 7-5 10-4 12-1 12 1 20 5 25 31 107 10 44 4 23 1 20 0 15-2 11-6 12-8 8-26 14-16 7-9 0-8-3-4-4-2-4-2-11 1-10 6-12 30-56 21-43 16-41 11-29 12-42 8-35 2-24-2-14-1-2-4-3-4 0-6 3-11 10-25 24-8 10-5 10-4 11-2 15 0 21 4 28 6 28 21 84 9 48 3 21 1 24-1 15-2 15-6 16-10 15-14 14-7 5-7 3-5 1-5-1-4-2-3-3-4-6-2-5-1-14 2-11 4-15 47-100 15-39 9-26 10-38 6-30 1-20-3-10-3-3-4 0-8 4-13 12-23 25-8 10-6 13-3 13-2 12 1 23 4 26 31 119 8 35 4 25 2 24 2 26-2 21-4 21-6 17-10 15-11 10-6 3-4 1-5-1-4-1-5-4-3-5-4-12-1-15 3-16 7-21 38-89 13-37 8-24 7-23 4-19 1-15-1-14-1-3-3-3-4-1-5 1-8 6-19 16-10 7-11 5-10 3-10-1-7-4-5-8-2-10 2-8 4-12 31-58 19-41 15-39 10-28 12-41 8-36 3-27-1-17-4-10-3-2-4-1-7 1-15 6-15 8-10 8-7 10-4 12-2 12 0 10 2 26 7 28 22 78 11 44 7 39 1 13-1 15-2 15-4 7-3 5-9 7-27 17-20 16-9 10-1 4-1 5 1 9 4 11 25 59 18 44 15 46 10 36 8 37 7 44 1 35-2 25-2 10-4 13-9 16-5 7-9 8-6 4-6 2-6 1-6-1-6-3-3-4-5-6-2-6-2-11 0-8 2-20 6-19 46-112 12-35 6-28 1-8-1-10-1-4-4-4-2-1-5 0-27 11-7 1-5 0-6-4-4-6-3-9-1-11 1-19 6-26 30-94 12-48 4-17 3-23 1-12-1-14-4-12-2-4-4-4-8-3-25-7-35-15-7-4-2-4 1-5 3-6 24-43 19-40 19-46 14-40 12-42 6-26 4-24 3-21 1-17-1-14-2-11-2-8-3-7-3-4-6-6-8-5-8-4-8-2-8-1-6 1-5 2-8 7-6 13-3 14 1 18 5 22 7 22 25 66 11 32 9 30 4 25 0 17-3 10-4 3-4 1-24-2-6 1-5 2-5 6-4 6-3 12-1 11 2 22 4 24 29 103 11 44 5 32 2 32-3 21-5 14-5 7-5 6-8 6-8 5-7 3-6 2-7-1-5-2-4-4-4-6-2-6-1-7 0-16 5-18 45-108 13-36 11-37 8-32 3-25 0-17-2-6-3-4-4-2-3 0-9 3-23 15-12 11-7 9-5 11-2 10-2 13 2 20 4 22 34 116 12 56 4 25 2 22 0 18-2 18-5 16-8 13-6 6-7 5-7 4-5 1-6 1-5-2-4-3-3-3-4-7-2-6-2-16 3-18 6-20 36-93 20-58 6-21 5-28 1-19-2-12-3-3-3-2-8 1-51 28-8 6-5 7-4 9-1 9 2 11 4 14 40 102 15 45 10 35 8 35 5 39 1 23-2 22-5 14-4 7-5 5-7 6-8 4-7 2-7 1-5-1-5-2-4-4-4-5-5-12-2-16 2-18 4-16 8-27 25-65 11-32 11-41 4-24 0-17-2-6-2-5-4-2-6 0-25 6-6 0-6-2-6-6-5-8-3-11-1-12 1-19 4-20 36-117 8-30 6-29 5-26 2-23 0-18-2-19-5-15-9-12-5-5-8-5-7-3-6 0-5 0-5 2-5 4-3 5-5 11-1 17 2 15 5 20 39 101 18 56 5 20 4 26 1 12-2 13-3 5-3 3-7 0-7-2-23-12-26-9-7-5-5-5-4-7-1-9 2-10 4-12 29-65 16-39 13-36 12-38 9-37 6-33 1-18 1-15-1-12-2-9-5-12-8-9-7-3-9-3-8-1-7 0-9 4-5 4-4 5-4 12-2 16 1 17 5 22 41 122 10 38 3 23 0 17-1 7-3 5-3 2-5 2-24-1-7 1-6 3-6 7-5 9-3 11-1 12 1 17 5 24 34 115 14 58 4 26 3 31 0 24-3 18-6 16-9 15-12 10-7 3-5 1-6-1-4-2-5-4-3-5-5-13 0-15 2-17 6-21 36-87 12-35 7-23 6-22 4-18 2-15-1-15-4-8-4-1-4 0-8 3-27 16-9 3-10 0-9-3-7-6-4-8-1-10 1-9 4-12 32-73 13-30 13-36 12-38 9-37 6-32 3-26-1-12-1-10-2-6-3-5-7-6-10-2-16 0-10 2-9 6-6 8-4 12-2 9 0 10 1 12 2 15 8 30 26 76 11 39 7 35 2 15 0 17-1 8-2 6-5 7-8 3-16 3-8 2-9 4-7 6-6 7-4 8-2 9-1 9 0 13 4 19 40 120 12 41 7 32 5 30 3 35 0 27-3 20-6 18-9 16-5 5-7 6-6 3-5 2-5 0-5-1-5-3-4-5-5-12-2-16 2-18 4-16 8-21 28-68 14-35 10-35 7-28 1-19-2-7-4-4-4-1-7 2-21 11-7 3-5 1-5 0-7-4-5-8-3-10-2-12 2-20 6-23 33-99 14-51 8-45 2-22 0-16-3-15-4-7-4-4-6-4-7-3-9-1-8-1-7 1-4 2-6 3-3 5-4 6-2 7-2 14 2 16 5 21 41 112 10 33 8 32 6 28 1 27 0 10-2 7-3 5-4 4-8 2-14-1-15-4-10-6-7-7-4-9-3-10 0-13 1-16 5-21 36-106 9-31 8-31 5-28 3-24 0-18-1-14-5-11-4-6-4-3-6-3-9-3-9-1-7 0-5 2-4 3-8 8-4 11-2 16 2 17 6 23 38 107 15 53 5 19 4 25 0 19-2 12-2 6-3 3-4 3-5 1-20-3-17-5-9-6-7-9-4-10-1-13 2-14 4-18 40-111 10-32 9-33 6-31 3-25 1-21-1-14-5-13-4-5-5-4-6-3-8-3-14 0-9 3-5 4-3 5-5 11-3 17 2 18 6 25 34 99 15 51 4 19 4 24 1 18-2 12-3 5-2 3-3 2-5 2-49-5-9-3-7-5-4-8-1-9 1-9 4-12 43-93 14-35 13-39 11-39 7-34 3-27 0-14-1-10-2-7-3-5-7-5-11-1-15 2-12 4-8 7-6 8-4 12-2 20 1 12 2 14 8 30 24 75 11 38 7 35 2 14 0 18-2 15-2 5-4 5-8 4-16 4-9 4-10 6-8 8-4 6-4 7-2 8-1 8 1 12 3 17 39 114 12 41 10 44 6 31 3 35 0 28-4 26-7 18-10 15-11 10-5 3-6 2-5 0-5-2-8-7-5-12-2-10-1-7 3-19 7-24 36-86 14-37 10-33 5-27 0-6-1-9-3-5-4-2-5 0-5 2-26 13-6 2-7-2-5-4-4-7-3-8-1-11 2-20 5-24 33-100 13-50 8-43 2-20-1-15-4-13-4-6-4-3-6-3-7-2-11-2-9 0-6 1-5 2-5 3-3 4-6 11-2 14 2 13 4 19 33 83 15 43 14 46 7 32 4 34 1 12-1 10-2 7-4 6-5 3-5 2-10 0-13-3-9-3-7-6-6-8-4-9-3-12 0-12 2-18 6-25 30-93 13-50 9-44 1-20 0-15-4-14-3-6-5-4-5-4-8-2-11-2-9-1-5 1-6 2-5 3-3 4-6 10-2 14 2 14 4 18 45 116 11 34 9 34 6 31 3 24-1 17-1 7-3 6-2 4-3 2-5 1-5 1-18-4-13-6-8-7-6-10-3-10-1-14 1-17 4-22 34-107 8-29 7-29 5-26 2-22 0-16-2-12-2-6-4-6-8-7-16-6-8-1-7 0-9 3-8 7-5 12-2 12 1 15 5 19 41 106 11 34 10 34 7 31 3 25 0 18-1 9-2 6-3 4-3 2-8 2-18-3-15-6-8-7-6-9-4-11-1-13 1-19 4-22 37-115 10-39 6-28 4-24 0-25-2-17-3-8-4-5-9-7-13-4-12-2-10 3-7 5-5 8-3 11-1 13 2 16 5 18 39 102 17 56 5 21 6 28 1 22-1 15-2 6-2 5-3 3-5 2-5 0-8-1-21-7-10-6-7-10-5-12-2-14 2-18 4-21 38-113 11-41 6-30 4-25 2-27-2-19-2-6-4-7-7-8-12-6-13-2-11 2-7 6-6 8-3 10-1 14 2 18 5 18 38 105 16 54 5 20 4 26 1 19-2 13-2 5-3 4-3 2-5 1-14-3-25-7-9-6-7-8-4-12-1-12 2-17 5-18 40-113 10-32 8-33 6-31 4-25 0-20-2-19-5-11-5-5-4-4-7-3-8-3-7-1-6 1-6 2-4 2-7 8-5 13-2 14 2 19 5 20 37 108 15 51 4 18 3 23 0 11-2 12-2 5-3 4-3 1-5 1-30-4-33 3-12-1-5-1-5-2-3-3-1-3 3-6 25-31 19-29 18-33 21-43 19-50 15-49 8-39 2-18-1-12-2-6-4-2-4 1-7 5-22 24-23 23-8 12-5 14-2 12-1 11 1 16 2 14 5 28 18 73 9 40 5 36 1 18 0 15-3 18-6 15-8 12-26 30-14 19-7 12-3 12 1 12 4 16 28 76 17 56 14 55 8 43 4 40 1 18-1 23-2 20-3 17-4 14-5 12-8 14-10 12-9 5-8 2-6-2-4-3-7-9-4-13-1-12 1-15 6-19 11-24 33-69 12-28 14-39 6-22 1-15 0-5-2-4-2-2-2-1-7 1-32 17-8 3-5 0-5-1-6-5-3-9-2-10 2-20 5-21 33-92 16-51 6-34 1-13-1-10-2-9-3-4-4-2-7-1-15 3-7 0-8-2-6-4-7-7-5-9-2-11-1-11 2-17 4-19 35-113 16-60 5-28 3-26 1-21-1-18-3-17-6-16-9-12-11-9-11-4-6 0-4 1-4 3-4 4-5 12-2 12 0 10 4 23 9 24 33 85 12 35 11 42 3 16 1 13-1 9-2 6-4 3-4 0-8-2-19-10-8-4-9-1-9 2-7 5-5 6-3 10-1 10 2 15 4 17 41 108 11 34 10 35 7 32 4 28 1 28-3 18-5 11-5 5-5 3-6 3-8 2-7 1-6-1-6-2-4-3-7-8-4-11-2-15 1-20 5-21 34-99 15-51 4-18 4-23 0-12-1-13-4-7-3-3-3-1-7-1-16 3-9 0-10-2-9-4-8-6-5-7-3-9-1-8 2-12 4-14 26-65 15-38 11-33 10-36 9-35 5-32 3-27-1-27-3-17-8-15-6-7-8-6-7-4-7-2-7 0-5 1-5 3-4 4-4 6-3 7-2 17 1 17 6 22 44 120 11 41 4 24 0 12-1 8-3 5-3 2-9 1-18-6-6-1-7 0-7 4-5 6-4 8-2 10-1 10 1 20 5 21 34 111 14 58 4 26 3 22 0 19-2 17-6 15-8 11-13 9-7 2-7 1-5 0-5-2-7-7-5-13-2-16 3-18 5-19 38-100 18-57 5-20 5-27 1-13-1-14-3-6-2-3-4-2-5 0-11 4-32 16-8 6-7 9-4 10-2 11 1 14 4 16 40 110 13 43 9 34 6 31 3 27 1 21-2 21-4 13-8 11-10 7-11 5-10 1-9-4-7-8-5-11-1-9-1-10 1-12 4-15 7-24 27-71 14-43 10-40 3-16 1-19-1-8-3-6-3-3-3-1-8 0-17 6-9 1-8-1-7-3-7-7-5-7-3-9-1-11 2-15 4-18 40-113 10-32 8-33 6-31 5-35 0-26-3-19-5-12-8-10-11-8-12-5-9 1-7 4-6 7-5 12-1 9 0 10 3 23 7 23 31 81 14 44 10 39 2 15 1 12-1 9-3 6-3 3-3 1-8-1-18-6-7-2-9 0-8 3-7 6-4 8-3 9-1 12 2 16 4 18 38 107 10 32 8 33 7 31 5 35 0 21-2 20-5 13-7 10-10 8-11 5-9 1-9-3-8-8-4-11-2-8 0-10 1-12 2-14 7-23 30-79 14-43 10-40 2-16 1-18-1-8-3-5-3-3-3-1-8 1-17 5-8 2-10 0-8-3-7-6-5-7-3-9-1-10 1-14 4-16 41-110 14-45 9-34 6-32 4-27 0-27-3-19-5-12-8-9-12-8-12-4-9 1-8 4-6 9-4 12-1 9 0 11 4 24 8 25 27 72 14 43 10 39 2 16 1 12-1 9-2 6-3 4-4 1-7 0-18-5-7-1-8 1-7 4-7 6-4 8-3 10-1 10 2 16 4 18 37 113 9 31 8 32 6 29 4 34 0 20-2 19-6 16-9 12-6 6-6 4-7 2-6 1-6 0-4-2-5-4-4-5-4-13-2-16 2-16 6-21 35-93 18-55 8-38 1-14-1-15-3-7-3-2-4-1-8 2-17 7-9 3-8 1-9-2-8-4-6-7-4-9-1-11 2-13 4-15 40-100 15-45 10-36 8-34 4-29 1-30-2-19-5-12-8-8-12-6-12-3-10 2-8 4-6 8-4 12-2 9 0 11 4 23 7 23 27 79 14 42 9 37 2 15 0 13 0 9-2 6-3 4-3 2-7 2-18-3-8-1-8 3-8 4-5 7-4 8-3 10-1 11 2 16 4 18 36 111 12 41 7 31 5 29 3 33 0 25-3 18-6 15-9 12-7 6-6 4-7 2-5 1-6-1-4-2-4-3-3-5-5-11-1-16 1-16 6-21 37-96 12-34 6-23 5-20 3-16 1-14 0-9-4-8-4-2-4 0-6 1-19 10-7 3-8 1-8-2-7-5-5-8-4-10-1-12 2-13 4-17 38-106 14-44 8-33 6-30 4-26 0-21-2-19-5-12-4-6-5-4-6-4-8-3-8-1-7 0-5 2-4 3-7 8-5 13-1 16 2 20 6 21 32 93 16 52 5 19 4 24 0 13-1 13-4 7-3 3-3 1-7 0-18-4-9-1-10 1-10 3-7 4-6 6-4 7-2 8 1 9 3 10 32 71 11 29 17 46 11 38 9 37 7 42 2 25-3 22-5 13-8 10-7 4-8 4-7 2-7 0-6 0-5-2-4-4-4-5-6-11-2-16 1-17 5-22 9-28 24-65 10-32 10-39 3-22 0-11-1-8-3-5-3-3-8-2-16 3-8 0-7-1-6-5-5-7-3-8-3-11 0-10 1-19 5-22 31-107 10-38 6-28 3-25 3-29-1-17-3-17-5-14-10-13-5-6-7-4-6-3-6-1-5 1-5 2-5 4-3 4-4 11-1 17 2 15 5 20 41 103 12 35 6 22 5 21 4 25 1 12-2 12-3 4-4 2-7-1-30-16-25-13-7-4-5-7-3-7-1-8 1-10 4-12 41-97 16-46 11-37 8-36 6-32 2-27-1-24-4-16-3-5-5-6-7-6-7-4-8-3-7-1-10 2-5 2-4 5-4 5-3 7-3 16 1 17 5 21 8 27 24 64 11 32 11 40 3 24 0 16-1 7-3 5-4 2-3 1-26-4-5 0-7 3-6 5-5 9-3 11-1 12 1 19 5 25 33 109 14 58 4 26 3 30 0 18-2 18-6 15-4 7-5 7-12 9-7 3-6 1-5 0-5-2-5-4-3-4-4-12-2-17 3-16 5-20 36-92 20-57 5-22 5-26 1-20-2-11-3-4-3-2-8 1-29 16-29 11-7 5-4 5-3 6-1 7 1 9 4 11 32 69 16 40 13 37 12 38 9 38 7 42 1 16-1 14-1 10-2 8-6 10-5 5-6 3-7 3-9 2-7 1-6-1-5-2-4-3-7-8-5-13-1-14 1-17 5-21 41-123 10-39 3-22 0-16-2-7-2-4-4-3-5-1-18 1-8 0-5-2-4-3-6-6-5-9-2-10-2-12 2-19 4-25 34-116 9-37 5-28 4-24 1-28-1-21-3-15-6-14-10-13-12-9-6-3-5 0-6 0-3 2-5 5-3 4-4 13-1 15 2 15 6 20 38 95 12 35 7 23 6 21 4 26 1 13-2 12-4 6-4 1-4-1-8-4-27-16-12-5-13-2-14-1-10 1-7 3-4 4"/></g></g>
<rect class="sp" x="476.6" y="190.5" width="180.80" height="125.80"/>
<path class="tk" d="M497.56 316.30v2.6M528.48 316.30v2.6M559.40 316.30v2.6M590.32 316.30v2.6M621.24 316.30v2.6M652.16 316.30v2.6M476.60 302.87h-2.6M476.60 286.78h-2.6M476.60 270.69h-2.6M476.60 254.60h-2.6M476.60 238.51h-2.6M476.60 222.42h-2.6M476.60 206.33h-2.6"/>
<text class="l" transform="translate(497.56 327.70) scale(0.88 1)">−200</text>
<text class="l" transform="translate(528.48 327.70) scale(0.88 1)">−100</text>
<text class="l" transform="translate(559.40 327.70) scale(0.88 1)">0</text>
<text class="l" transform="translate(590.32 327.70) scale(0.88 1)">100</text>
<text class="l" transform="translate(621.24 327.70) scale(0.88 1)">200</text>
<text class="l" transform="translate(652.16 327.70) scale(0.88 1)">300</text>
<text class="r" transform="translate(471.20 305.57) scale(0.88 1)">−150</text>
<text class="r" transform="translate(471.20 289.48) scale(0.88 1)">−100</text>
<text class="r" transform="translate(471.20 273.39) scale(0.88 1)">−50</text>
<text class="r" transform="translate(471.20 257.30) scale(0.88 1)">0</text>
<text class="r" transform="translate(471.20 241.21) scale(0.88 1)">50</text>
<text class="r" transform="translate(471.20 225.12) scale(0.88 1)">100</text>
<text class="r" transform="translate(471.20 209.03) scale(0.88 1)">150</text>
<text class="l" transform="translate(567.00 336.90) scale(0.92 1)">z</text>
<text class="l" transform="translate(448.80 253.40) rotate(-90) scale(1 0.92)">w</text>
<text class="t" transform="translate(567.00 185.90) scale(0.92 1)">Projection onto the zw plane</text>
</svg></body></html>
